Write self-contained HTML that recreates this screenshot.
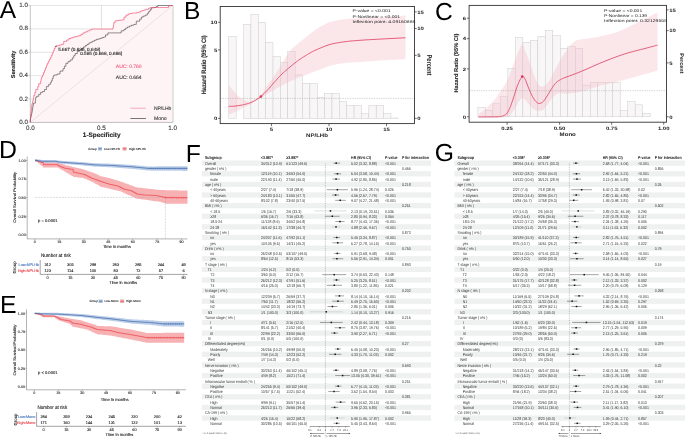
<!DOCTYPE html><html><head><meta charset="utf-8"><style>html,body{margin:0;padding:0;background:#fff;}svg{display:block;will-change:transform;}text{font-family:"Liberation Sans", sans-serif;text-rendering:geometricPrecision;}</style></head><body>
<svg width="685" height="438" viewBox="0 0 685 438">
<rect width="685" height="438" fill="#fff"/>
<line x1="30.3" y1="122.40" x2="172.6" y2="122.40" stroke="#d4d4d4" stroke-width="0.6"/>
<line x1="30.3" y1="99.02" x2="172.6" y2="99.02" stroke="#d4d4d4" stroke-width="0.6"/>
<line x1="30.3" y1="75.64" x2="172.6" y2="75.64" stroke="#d4d4d4" stroke-width="0.6"/>
<line x1="30.3" y1="52.26" x2="172.6" y2="52.26" stroke="#d4d4d4" stroke-width="0.6"/>
<line x1="30.3" y1="28.88" x2="172.6" y2="28.88" stroke="#d4d4d4" stroke-width="0.6"/>
<line x1="30.3" y1="5.50" x2="172.6" y2="5.50" stroke="#d4d4d4" stroke-width="0.6"/>
<line x1="101.45" y1="5.5" x2="101.45" y2="122.4" stroke="#cfcfcf" stroke-width="0.6"/>
<line x1="172.60" y1="5.5" x2="172.60" y2="122.4" stroke="#cfcfcf" stroke-width="0.6"/>
<polygon points="30.30,122.30 30.30,119.60 30.50,119.60 30.50,117.70 30.68,117.70 30.68,115.80 30.85,115.80 30.85,113.90 31.02,113.90 31.02,112.00 31.20,112.00 31.20,110.00 31.43,110.00 31.43,108.00 31.67,108.00 31.67,106.00 31.90,106.00 31.90,104.08 32.38,104.08 32.38,102.15 32.85,102.15 32.85,100.22 33.32,100.22 33.32,98.30 33.80,98.30 33.80,95.30 34.80,95.30 34.80,92.40 35.80,92.40 35.80,89.50 37.70,89.50 37.70,86.60 38.70,86.60 38.70,83.70 40.60,83.70 40.60,81.25 41.10,81.25 41.10,78.80 41.60,78.80 41.60,76.90 42.55,76.90 42.55,75.00 43.50,75.00 43.50,72.55 44.50,72.55 44.50,70.10 45.50,70.10 45.50,67.65 46.45,67.65 46.45,65.20 47.40,65.20 47.40,63.27 48.37,63.27 48.37,61.33 49.33,61.33 49.33,59.40 50.30,59.40 50.30,57.45 51.30,57.45 51.30,55.50 52.30,55.50 52.30,53.10 53.25,53.10 53.25,50.70 54.20,50.70 54.20,48.60 55.10,48.60 55.10,46.50 56.00,46.50 56.00,45.80 59.10,45.80 59.10,45.05 61.40,45.05 61.40,44.30 63.70,44.30 63.70,41.40 66.60,41.40 66.60,40.00 68.75,40.00 68.75,38.60 70.90,38.60 70.90,37.85 73.00,37.85 73.00,37.10 75.10,37.10 75.10,36.63 77.03,36.63 77.03,36.17 78.97,36.17 78.97,35.70 80.90,35.70 80.90,34.30 83.00,34.30 83.00,32.90 85.10,32.90 85.10,31.90 87.25,31.90 87.25,30.90 89.40,30.90 89.40,30.00 91.55,30.00 91.55,29.10 93.70,29.10 93.70,29.10 95.45,29.10 95.45,29.10 97.21,29.10 97.21,29.10 98.96,29.10 98.96,29.10 100.72,29.10 100.72,29.10 102.47,29.10 102.47,29.10 104.23,29.10 104.23,29.10 105.98,29.10 105.98,29.10 107.74,29.10 107.74,29.10 109.49,29.10 109.49,29.10 111.25,29.10 111.25,29.10 113.00,29.10 113.00,27.20 113.35,27.20 113.35,25.30 113.70,25.30 113.70,22.60 115.10,22.60 115.10,20.80 117.10,20.80 117.10,20.55 118.80,20.55 118.80,20.30 120.50,20.30 120.50,20.10 122.25,20.10 122.25,19.90 124.00,19.90 124.00,17.10 126.00,17.10 126.00,15.10 128.10,15.10 128.10,14.00 130.10,14.00 130.10,13.50 131.85,13.50 131.85,13.00 133.60,13.00 133.60,13.00 135.30,13.00 135.30,13.00 137.00,13.00 137.00,12.55 138.70,12.55 138.70,12.10 140.40,12.10 140.40,11.00 142.50,11.00 142.50,10.45 144.20,10.45 144.20,9.90 145.90,9.90 145.90,9.30 148.60,9.30 148.60,8.20 150.70,8.20 150.70,7.50 152.70,7.50 152.70,7.50 154.46,7.50 154.46,7.50 156.21,7.50 156.21,7.50 157.97,7.50 157.97,7.50 159.72,7.50 159.72,7.50 161.48,7.50 161.48,7.50 163.23,7.50 163.23,7.50 164.99,7.50 164.99,7.50 166.74,7.50 166.74,7.50 168.50,7.50 168.50,5.80 170.50,5.80 170.50,5.50 172.60,5.50 172.60,122.40 30.30,122.40" fill="#fef4f5"/>
<line x1="30.3" y1="122.4" x2="172.6" y2="5.5" stroke="#d0d0d0" stroke-width="0.5"/>
<line x1="30.3" y1="5.5" x2="30.3" y2="122.4" stroke="#aaa" stroke-width="0.7"/>
<line x1="30.3" y1="122.4" x2="173.1" y2="122.4" stroke="#aaa" stroke-width="0.7"/>
<line x1="173.1" y1="5.5" x2="173.1" y2="122.4" stroke="#c4c4c4" stroke-width="0.7"/>
<polyline points="30.30,122.30 30.30,119.60 30.50,119.60 30.50,117.67 30.97,117.67 30.97,115.73 31.43,115.73 31.43,113.80 31.90,113.80 31.90,111.87 32.23,111.87 32.23,109.93 32.57,109.93 32.57,108.00 32.90,108.00 32.90,105.55 33.35,105.55 33.35,103.10 33.80,103.10 33.80,103.10 35.40,103.10 35.40,100.70 35.60,100.70 35.60,98.30 35.80,98.30 35.80,97.30 36.70,97.30 36.70,96.30 38.70,96.30 38.70,94.40 40.60,94.40 40.60,92.40 42.60,92.40 42.60,91.50 44.50,91.50 44.50,89.50 46.40,89.50 46.40,86.60 48.40,86.60 48.40,84.70 50.30,84.70 50.30,82.75 51.30,82.75 51.30,80.80 52.30,80.80 52.30,78.35 53.25,78.35 53.25,75.90 54.20,75.90 54.20,75.00 57.10,75.00 57.10,74.00 60.00,74.00 60.00,71.10 63.00,71.10 63.00,68.65 64.45,68.65 64.45,66.20 65.90,66.20 65.90,63.30 68.00,63.30 68.00,61.65 70.15,61.65 70.15,60.00 72.30,60.00 72.30,57.85 73.70,57.85 73.70,55.70 75.10,55.70 75.10,53.55 77.25,53.55 77.25,51.40 79.40,51.40 79.40,49.97 81.30,49.97 81.30,48.53 83.20,48.53 83.20,47.10 85.10,47.10 85.10,45.70 87.03,45.70 87.03,44.30 88.97,44.30 88.97,42.90 90.90,42.90 90.90,42.02 92.68,42.02 92.68,41.15 94.45,41.15 94.45,40.27 96.22,40.27 96.22,39.40 98.00,39.40 98.00,39.00 100.00,39.00 100.00,38.33 101.83,38.33 101.83,37.67 103.67,37.67 103.67,37.00 105.50,37.00 105.50,34.95 107.90,34.95 107.90,32.90 110.30,32.90 110.30,32.90 112.12,32.90 112.12,32.90 113.93,32.90 113.93,32.90 115.75,32.90 115.75,32.90 117.57,32.90 117.57,32.90 119.38,32.90 119.38,32.90 121.20,32.90 121.20,30.80 124.00,30.80 124.00,29.45 125.70,29.45 125.70,28.10 127.40,28.10 127.40,27.05 129.45,27.05 129.45,26.00 131.50,26.00 131.50,25.20 133.90,25.20 133.90,24.40 136.30,24.40 136.30,21.20 139.70,21.20 139.70,19.15 141.45,19.15 141.45,17.10 143.20,17.10 143.20,16.10 145.25,16.10 145.25,15.10 147.30,15.10 147.30,13.35 148.65,13.35 148.65,11.60 150.00,11.60 150.00,9.75 151.35,9.75 151.35,7.90 152.70,7.90 152.70,7.70 154.45,7.70 154.45,7.50 156.20,7.50 156.20,6.50 157.90,6.50 157.90,5.50 159.60,5.50 159.60,5.50 161.46,5.50 161.46,5.50 163.31,5.50 163.31,5.50 165.17,5.50 165.17,5.50 167.03,5.50 167.03,5.50 168.89,5.50 168.89,5.50 170.74,5.50 170.74,5.50 172.60,5.50" fill="none" stroke="#333" stroke-width="0.55"/>
<polyline points="30.30,122.30 30.30,119.60 30.50,119.60 30.50,117.70 30.68,117.70 30.68,115.80 30.85,115.80 30.85,113.90 31.02,113.90 31.02,112.00 31.20,112.00 31.20,110.00 31.43,110.00 31.43,108.00 31.67,108.00 31.67,106.00 31.90,106.00 31.90,104.08 32.38,104.08 32.38,102.15 32.85,102.15 32.85,100.22 33.32,100.22 33.32,98.30 33.80,98.30 33.80,95.30 34.80,95.30 34.80,92.40 35.80,92.40 35.80,89.50 37.70,89.50 37.70,86.60 38.70,86.60 38.70,83.70 40.60,83.70 40.60,81.25 41.10,81.25 41.10,78.80 41.60,78.80 41.60,76.90 42.55,76.90 42.55,75.00 43.50,75.00 43.50,72.55 44.50,72.55 44.50,70.10 45.50,70.10 45.50,67.65 46.45,67.65 46.45,65.20 47.40,65.20 47.40,63.27 48.37,63.27 48.37,61.33 49.33,61.33 49.33,59.40 50.30,59.40 50.30,57.45 51.30,57.45 51.30,55.50 52.30,55.50 52.30,53.10 53.25,53.10 53.25,50.70 54.20,50.70 54.20,48.60 55.10,48.60 55.10,46.50 56.00,46.50 56.00,45.80 59.10,45.80 59.10,45.05 61.40,45.05 61.40,44.30 63.70,44.30 63.70,41.40 66.60,41.40 66.60,40.00 68.75,40.00 68.75,38.60 70.90,38.60 70.90,37.85 73.00,37.85 73.00,37.10 75.10,37.10 75.10,36.63 77.03,36.63 77.03,36.17 78.97,36.17 78.97,35.70 80.90,35.70 80.90,34.30 83.00,34.30 83.00,32.90 85.10,32.90 85.10,31.90 87.25,31.90 87.25,30.90 89.40,30.90 89.40,30.00 91.55,30.00 91.55,29.10 93.70,29.10 93.70,29.10 95.45,29.10 95.45,29.10 97.21,29.10 97.21,29.10 98.96,29.10 98.96,29.10 100.72,29.10 100.72,29.10 102.47,29.10 102.47,29.10 104.23,29.10 104.23,29.10 105.98,29.10 105.98,29.10 107.74,29.10 107.74,29.10 109.49,29.10 109.49,29.10 111.25,29.10 111.25,29.10 113.00,29.10 113.00,27.20 113.35,27.20 113.35,25.30 113.70,25.30 113.70,22.60 115.10,22.60 115.10,20.80 117.10,20.80 117.10,20.55 118.80,20.55 118.80,20.30 120.50,20.30 120.50,20.10 122.25,20.10 122.25,19.90 124.00,19.90 124.00,17.10 126.00,17.10 126.00,15.10 128.10,15.10 128.10,14.00 130.10,14.00 130.10,13.50 131.85,13.50 131.85,13.00 133.60,13.00 133.60,13.00 135.30,13.00 135.30,13.00 137.00,13.00 137.00,12.55 138.70,12.55 138.70,12.10 140.40,12.10 140.40,11.00 142.50,11.00 142.50,10.45 144.20,10.45 144.20,9.90 145.90,9.90 145.90,9.30 148.60,9.30 148.60,8.20 150.70,8.20 150.70,7.50 152.70,7.50 152.70,7.50 154.46,7.50 154.46,7.50 156.21,7.50 156.21,7.50 157.97,7.50 157.97,7.50 159.72,7.50 159.72,7.50 161.48,7.50 161.48,7.50 163.23,7.50 163.23,7.50 164.99,7.50 164.99,7.50 166.74,7.50 166.74,7.50 168.50,7.50 168.50,5.80 170.50,5.80 170.50,5.50 172.60,5.50" fill="none" stroke="#f2476c" stroke-width="0.62"/>
<line x1="28.3" y1="122.40" x2="30.3" y2="122.40" stroke="#aaa" stroke-width="0.5"/>
<text x="27.90" y="124.00" font-size="6.2" text-anchor="end" fill="#333" font-weight="normal" stroke="#333" stroke-width="0.1" >0.0</text>
<line x1="28.3" y1="99.02" x2="30.3" y2="99.02" stroke="#aaa" stroke-width="0.5"/>
<text x="27.90" y="100.62" font-size="6.2" text-anchor="end" fill="#333" font-weight="normal" stroke="#333" stroke-width="0.1" >0.2</text>
<line x1="28.3" y1="75.64" x2="30.3" y2="75.64" stroke="#aaa" stroke-width="0.5"/>
<text x="27.90" y="77.24" font-size="6.2" text-anchor="end" fill="#333" font-weight="normal" stroke="#333" stroke-width="0.1" >0.4</text>
<line x1="28.3" y1="52.26" x2="30.3" y2="52.26" stroke="#aaa" stroke-width="0.5"/>
<text x="27.90" y="53.86" font-size="6.2" text-anchor="end" fill="#333" font-weight="normal" stroke="#333" stroke-width="0.1" >0.6</text>
<line x1="28.3" y1="28.88" x2="30.3" y2="28.88" stroke="#aaa" stroke-width="0.5"/>
<text x="27.90" y="30.48" font-size="6.2" text-anchor="end" fill="#333" font-weight="normal" stroke="#333" stroke-width="0.1" >0.8</text>
<line x1="28.3" y1="5.50" x2="30.3" y2="5.50" stroke="#aaa" stroke-width="0.5"/>
<text x="27.90" y="7.10" font-size="6.2" text-anchor="end" fill="#333" font-weight="normal" stroke="#333" stroke-width="0.1" >1.0</text>
<text x="30.30" y="130.30" font-size="6.3" text-anchor="middle" fill="#333" font-weight="normal" stroke="#333" stroke-width="0.1" >0.0</text>
<text x="101.45" y="130.30" font-size="6.3" text-anchor="middle" fill="#333" font-weight="normal" stroke="#333" stroke-width="0.1" >0.5</text>
<text x="172.60" y="130.30" font-size="6.3" text-anchor="middle" fill="#333" font-weight="normal" stroke="#333" stroke-width="0.1" >1.0</text>
<text x="101.70" y="136.70" font-size="6.4" text-anchor="middle" fill="#1a1a1a" font-weight="bold" stroke="#1a1a1a" stroke-width="0.1" >1-Specificity</text>
<text x="0" y="0" font-size="5.5" font-weight="bold" fill="#1a1a1a" stroke="#1a1a1a" stroke-width="0.12" text-anchor="middle" transform="translate(15.4,64.4) rotate(-90)">Sensitivity</text>
<circle cx="56" cy="46.3" r="0.55" fill="#111"/>
<text x="58.20" y="50.50" font-size="4.7" text-anchor="start" fill="#222" font-weight="normal" stroke="#222" stroke-width="0.1" >5.667 (0.836, 0.649)</text>
<text x="80.20" y="55.10" font-size="4.7" text-anchor="start" fill="#222" font-weight="normal" stroke="#222" stroke-width="0.1" >0.595 (0.668, 0.686)</text>
<text x="115.80" y="67.50" font-size="5.0" text-anchor="start" fill="#f25a78" font-weight="normal" stroke="#f25a78" stroke-width="0.1" >AUC: 0.760</text>
<text x="115.80" y="79.20" font-size="5.0" text-anchor="start" fill="#333" font-weight="normal" stroke="#333" stroke-width="0.1" >AUC: 0.664</text>
<line x1="130.3" y1="108.2" x2="146" y2="108.2" stroke="#f7a0b4" stroke-width="0.9"/>
<line x1="130.3" y1="118.5" x2="146" y2="118.5" stroke="#555" stroke-width="0.8"/>
<text x="153.90" y="110.00" font-size="5.0" text-anchor="start" fill="#333" font-weight="normal" stroke="#333" stroke-width="0.1" >NP/LHb</text>
<text x="153.90" y="120.30" font-size="5.1" text-anchor="start" fill="#333" font-weight="normal" stroke="#333" stroke-width="0.1" >Mono</text>
<text x="-0.20" y="17.50" font-size="24.5" text-anchor="start" fill="#000" font-weight="normal" >A</text>
<rect x="228.80" y="36.30" width="7.37" height="82.10" fill="#f8f6f7" stroke="#cdcdcd" stroke-width="0.5"/>
<rect x="243.54" y="24.30" width="7.37" height="94.10" fill="#f8f6f7" stroke="#cdcdcd" stroke-width="0.5"/>
<rect x="250.91" y="14.30" width="7.37" height="104.10" fill="#f8f6f7" stroke="#cdcdcd" stroke-width="0.5"/>
<rect x="258.28" y="22.30" width="7.37" height="96.10" fill="#f8f6f7" stroke="#cdcdcd" stroke-width="0.5"/>
<rect x="265.65" y="42.30" width="7.37" height="76.10" fill="#f8f6f7" stroke="#cdcdcd" stroke-width="0.5"/>
<rect x="273.02" y="56.60" width="7.37" height="61.80" fill="#f8f6f7" stroke="#cdcdcd" stroke-width="0.5"/>
<rect x="280.39" y="62.30" width="7.37" height="56.10" fill="#f8f6f7" stroke="#cdcdcd" stroke-width="0.5"/>
<rect x="287.76" y="51.40" width="7.37" height="67.00" fill="#f8f6f7" stroke="#cdcdcd" stroke-width="0.5"/>
<rect x="295.13" y="74.90" width="7.37" height="43.50" fill="#f8f6f7" stroke="#cdcdcd" stroke-width="0.5"/>
<rect x="302.50" y="83.40" width="7.37" height="35.00" fill="#f8f6f7" stroke="#cdcdcd" stroke-width="0.5"/>
<rect x="309.87" y="83.40" width="7.37" height="35.00" fill="#f8f6f7" stroke="#cdcdcd" stroke-width="0.5"/>
<rect x="317.24" y="97.60" width="7.37" height="20.80" fill="#f8f6f7" stroke="#cdcdcd" stroke-width="0.5"/>
<rect x="324.61" y="93.70" width="7.37" height="24.70" fill="#f8f6f7" stroke="#cdcdcd" stroke-width="0.5"/>
<rect x="331.98" y="93.70" width="7.37" height="24.70" fill="#f8f6f7" stroke="#cdcdcd" stroke-width="0.5"/>
<rect x="339.35" y="101.40" width="7.37" height="17.00" fill="#f8f6f7" stroke="#cdcdcd" stroke-width="0.5"/>
<rect x="346.72" y="105.50" width="7.37" height="12.90" fill="#f8f6f7" stroke="#cdcdcd" stroke-width="0.5"/>
<rect x="354.09" y="105.50" width="7.37" height="12.90" fill="#f8f6f7" stroke="#cdcdcd" stroke-width="0.5"/>
<rect x="361.46" y="113.70" width="7.37" height="4.70" fill="#f8f6f7" stroke="#cdcdcd" stroke-width="0.5"/>
<rect x="368.83" y="105.50" width="7.37" height="12.90" fill="#f8f6f7" stroke="#cdcdcd" stroke-width="0.5"/>
<rect x="376.20" y="105.50" width="7.37" height="12.90" fill="#f8f6f7" stroke="#cdcdcd" stroke-width="0.5"/>
<rect x="383.57" y="113.70" width="7.37" height="4.70" fill="#f8f6f7" stroke="#cdcdcd" stroke-width="0.5"/>
<rect x="390.94" y="118.00" width="7.37" height="0.40" fill="#f8f6f7" stroke="#cdcdcd" stroke-width="0.5"/>
<polygon points="228.60,84.70 229.41,85.73 230.53,87.19 231.86,88.89 233.29,90.68 234.70,92.37 236.00,93.80 237.19,94.98 238.36,96.07 239.53,97.06 240.68,97.96 241.84,98.77 243.00,99.50 244.18,100.17 245.37,100.79 246.56,101.32 247.74,101.72 248.89,101.96 250.00,102.00 251.07,101.77 252.11,101.30 253.13,100.67 254.12,99.95 255.08,99.23 256.00,98.60 256.85,98.12 257.63,97.74 258.38,97.36 259.14,96.87 259.97,96.19 260.90,95.20 261.96,93.83 263.11,92.15 264.32,90.26 265.56,88.29 266.80,86.33 268.00,84.50 269.17,82.80 270.34,81.15 271.51,79.52 272.67,77.88 273.83,76.22 275.00,74.50 276.16,72.74 277.30,70.96 278.44,69.16 279.59,67.31 280.78,65.43 282.00,63.50 283.28,61.44 284.61,59.24 285.97,57.00 287.33,54.81 288.68,52.78 290.00,51.00 291.28,49.50 292.54,48.22 293.78,47.09 295.02,46.06 296.26,45.05 297.50,44.00 298.75,42.94 300.00,41.93 301.25,40.94 302.50,39.96 303.75,38.99 305.00,38.00 306.25,36.99 307.50,35.96 308.75,34.94 310.00,33.93 311.25,32.94 312.50,32.00 313.71,31.11 314.87,30.27 316.03,29.45 317.24,28.64 318.55,27.83 320.00,27.00 321.60,26.11 323.30,25.19 325.09,24.25 326.98,23.35 328.95,22.52 331.00,21.80 333.15,21.20 335.41,20.68 337.75,20.23 340.15,19.84 342.57,19.50 345.00,19.20 347.38,18.95 349.74,18.78 352.12,18.66 354.59,18.55 357.20,18.44 360.00,18.30 362.98,18.14 366.09,17.97 369.34,17.80 372.74,17.62 376.29,17.42 380.00,17.20 384.23,16.93 389.04,16.61 394.00,16.28 398.69,15.96 402.66,15.69 405.50,15.50 405.50,59.20 402.66,59.35 398.69,59.56 394.00,59.81 389.04,60.08 384.23,60.35 380.00,60.60 376.29,60.84 372.74,61.08 369.34,61.32 366.09,61.56 362.98,61.79 360.00,62.00 357.20,62.17 354.59,62.31 352.12,62.43 349.74,62.57 347.38,62.75 345.00,63.00 342.57,63.31 340.15,63.67 337.75,64.06 335.41,64.50 333.15,64.98 331.00,65.50 328.95,66.09 326.98,66.77 325.09,67.48 323.30,68.20 321.60,68.89 320.00,69.50 318.55,70.03 317.24,70.52 316.03,70.97 314.87,71.40 313.71,71.84 312.50,72.30 311.25,72.78 310.00,73.26 308.75,73.75 307.50,74.24 306.25,74.72 305.00,75.20 303.75,75.66 302.50,76.11 301.25,76.56 300.00,77.02 298.75,77.49 297.50,78.00 296.26,78.54 295.02,79.10 293.78,79.67 292.54,80.27 291.28,80.88 290.00,81.50 288.68,82.14 287.33,82.80 285.97,83.47 284.61,84.16 283.28,84.83 282.00,85.50 280.78,86.15 279.59,86.80 278.44,87.44 277.30,88.09 276.16,88.74 275.00,89.40 273.83,90.07 272.67,90.74 271.51,91.41 270.34,92.10 269.17,92.79 268.00,93.50 266.80,94.25 265.56,95.04 264.32,95.84 263.11,96.63 261.96,97.36 260.90,98.00 259.97,98.53 259.14,98.96 258.38,99.34 257.63,99.71 256.85,100.12 256.00,100.60 255.08,101.17 254.12,101.80 253.13,102.46 252.11,103.13 251.07,103.78 250.00,104.40 248.89,104.97 247.74,105.52 246.56,106.05 245.37,106.58 244.18,107.13 243.00,107.70 241.84,108.31 240.68,108.95 239.53,109.61 238.36,110.26 237.19,110.90 236.00,111.50 234.70,112.11 233.29,112.73 231.86,113.34 230.53,113.89 229.41,114.36 228.60,114.70" fill="#f3b9c6" fill-opacity="0.36"/>
<line x1="220.2" y1="98.4" x2="414.5" y2="98.4" stroke="#999" stroke-width="0.45" stroke-dasharray="1.3,1.1"/>
<polyline points="228.60,106.40 229.30,106.37 230.27,106.34 231.42,106.31 232.66,106.26 233.88,106.19 235.00,106.10 236.03,105.99 237.07,105.85 238.09,105.70 239.09,105.54 240.06,105.37 241.00,105.20 241.89,105.03 242.74,104.87 243.56,104.69 244.37,104.51 245.18,104.31 246.00,104.10 246.83,103.87 247.67,103.64 248.50,103.39 249.33,103.13 250.17,102.83 251.00,102.50 251.83,102.13 252.67,101.74 253.51,101.31 254.34,100.86 255.17,100.39 256.00,99.90 256.80,99.42 257.56,98.96 258.32,98.48 259.11,97.93 259.96,97.28 260.90,96.50 261.96,95.55 263.11,94.47 264.32,93.29 265.56,92.04 266.80,90.77 268.00,89.50 269.17,88.22 270.34,86.89 271.51,85.53 272.67,84.17 273.83,82.82 275.00,81.50 276.16,80.22 277.30,78.94 278.44,77.69 279.59,76.44 280.78,75.22 282.00,74.00 283.28,72.79 284.61,71.59 285.97,70.41 287.33,69.24 288.68,68.10 290.00,67.00 291.28,65.93 292.54,64.89 293.78,63.88 295.02,62.89 296.26,61.93 297.50,61.00 298.75,60.10 300.00,59.24 301.25,58.40 302.50,57.59 303.75,56.79 305.00,56.00 306.25,55.22 307.50,54.45 308.75,53.70 310.00,52.97 311.25,52.27 312.50,51.60 313.71,50.98 314.87,50.41 316.03,49.88 317.24,49.34 318.55,48.79 320.00,48.20 321.60,47.55 323.30,46.86 325.09,46.14 326.98,45.44 328.95,44.79 331.00,44.20 333.15,43.68 335.41,43.21 337.75,42.79 340.15,42.40 342.57,42.04 345.00,41.70 347.38,41.40 349.74,41.14 352.12,40.92 354.59,40.71 357.20,40.51 360.00,40.30 362.98,40.09 366.09,39.89 369.34,39.69 372.74,39.50 376.29,39.30 380.00,39.10 384.23,38.87 389.04,38.63 394.00,38.38 398.69,38.14 402.66,37.94 405.50,37.80" fill="none" stroke="#dc3053" stroke-width="0.75"/>
<circle cx="260.9" cy="96.5" r="1.25" fill="#dc3053"/>
<rect x="220.2" y="6.5" width="194.3" height="117.1" fill="none" stroke="#333" stroke-width="0.9"/>
<line x1="218.0" y1="118.4" x2="220.2" y2="118.4" stroke="#333" stroke-width="0.7"/>
<text transform="translate(217.20,120.10) scale(1.25,1)" font-size="4.75" text-anchor="end" fill="#1a1a1a" font-weight="bold">0</text>
<line x1="218.0" y1="49.9" x2="220.2" y2="49.9" stroke="#333" stroke-width="0.7"/>
<text transform="translate(217.20,51.60) scale(1.25,1)" font-size="4.75" text-anchor="end" fill="#1a1a1a" font-weight="bold">5</text>
<line x1="218.0" y1="22.3" x2="220.2" y2="22.3" stroke="#333" stroke-width="0.7"/>
<text transform="translate(217.20,24.00) scale(1.25,1)" font-size="4.75" text-anchor="end" fill="#1a1a1a" font-weight="bold">10</text>
<line x1="414.5" y1="118.4" x2="416.7" y2="118.4" stroke="#333" stroke-width="0.7"/>
<text transform="translate(417.30,120.10) scale(1.25,1)" font-size="4.75" text-anchor="start" fill="#1a1a1a" font-weight="bold">0</text>
<line x1="414.5" y1="55.4" x2="416.7" y2="55.4" stroke="#333" stroke-width="0.7"/>
<text transform="translate(417.30,57.10) scale(1.25,1)" font-size="4.75" text-anchor="start" fill="#1a1a1a" font-weight="bold">5</text>
<line x1="414.5" y1="28.5" x2="416.7" y2="28.5" stroke="#333" stroke-width="0.7"/>
<text transform="translate(417.30,30.20) scale(1.25,1)" font-size="4.75" text-anchor="start" fill="#1a1a1a" font-weight="bold">10</text>
<line x1="414.5" y1="11.9" x2="416.7" y2="11.9" stroke="#333" stroke-width="0.7"/>
<text transform="translate(417.30,13.60) scale(1.25,1)" font-size="4.75" text-anchor="start" fill="#1a1a1a" font-weight="bold">15</text>
<line x1="271.4" y1="123.6" x2="271.4" y2="126.19999999999999" stroke="#333" stroke-width="0.7"/>
<text transform="translate(271.40,131.10) scale(1.25,1)" font-size="4.75" text-anchor="middle" fill="#1a1a1a" font-weight="bold">5</text>
<line x1="329.0" y1="123.6" x2="329.0" y2="126.19999999999999" stroke="#333" stroke-width="0.7"/>
<text transform="translate(329.00,131.10) scale(1.25,1)" font-size="4.75" text-anchor="middle" fill="#1a1a1a" font-weight="bold">10</text>
<line x1="386.5" y1="123.6" x2="386.5" y2="126.19999999999999" stroke="#333" stroke-width="0.7"/>
<text transform="translate(386.50,131.10) scale(1.25,1)" font-size="4.75" text-anchor="middle" fill="#1a1a1a" font-weight="bold">15</text>
<text transform="translate(317.00,137.00) scale(1.17,1)" font-size="5.2" text-anchor="middle" fill="#1a1a1a" font-weight="bold">NP/LHb</text>
<text x="0" y="0" font-size="6.4" font-weight="bold" fill="#222" stroke="#222" stroke-width="0.1" text-anchor="middle" textLength="59" lengthAdjust="spacingAndGlyphs" transform="translate(206.2,64.8) rotate(-90)">Hazard Ratio (95% CI)</text>
<text x="0" y="0" font-size="7.0" font-weight="bold" fill="#222" text-anchor="middle" textLength="21" lengthAdjust="spacingAndGlyphs" transform="translate(427.2,64.9) rotate(90)">Percent</text>
<text x="352.4" y="12.0" font-size="4.0" fill="#222" textLength="38.2" lengthAdjust="spacingAndGlyphs">P-value = &lt;0.001</text>
<text x="352.4" y="17.5" font-size="4.0" fill="#222" textLength="47.7" lengthAdjust="spacingAndGlyphs">P-Nonlinear = &lt;0.001</text>
<text x="352.4" y="22.9" font-size="4.0" fill="#222" textLength="63" lengthAdjust="spacingAndGlyphs">Inflection point: 4.09160888</text>
<text x="183.90" y="19.40" font-size="24.6" text-anchor="start" fill="#000" font-weight="normal" >B</text>
<rect x="477.90" y="107.40" width="7.49" height="9.40" fill="#f8f6f7" stroke="#cdcdcd" stroke-width="0.5"/>
<rect x="485.39" y="110.50" width="7.49" height="6.30" fill="#f8f6f7" stroke="#cdcdcd" stroke-width="0.5"/>
<rect x="492.88" y="103.80" width="7.49" height="13.00" fill="#f8f6f7" stroke="#cdcdcd" stroke-width="0.5"/>
<rect x="500.37" y="96.20" width="7.49" height="20.60" fill="#f8f6f7" stroke="#cdcdcd" stroke-width="0.5"/>
<rect x="507.86" y="68.40" width="7.49" height="48.40" fill="#f8f6f7" stroke="#cdcdcd" stroke-width="0.5"/>
<rect x="515.35" y="37.50" width="7.49" height="79.30" fill="#f8f6f7" stroke="#cdcdcd" stroke-width="0.5"/>
<rect x="522.84" y="42.30" width="7.49" height="74.50" fill="#f8f6f7" stroke="#cdcdcd" stroke-width="0.5"/>
<rect x="530.33" y="40.40" width="7.49" height="76.40" fill="#f8f6f7" stroke="#cdcdcd" stroke-width="0.5"/>
<rect x="537.82" y="36.30" width="7.49" height="80.50" fill="#f8f6f7" stroke="#cdcdcd" stroke-width="0.5"/>
<rect x="545.31" y="30.30" width="7.49" height="86.50" fill="#f8f6f7" stroke="#cdcdcd" stroke-width="0.5"/>
<rect x="552.80" y="35.60" width="7.49" height="81.20" fill="#f8f6f7" stroke="#cdcdcd" stroke-width="0.5"/>
<rect x="560.29" y="48.30" width="7.49" height="68.50" fill="#f8f6f7" stroke="#cdcdcd" stroke-width="0.5"/>
<rect x="567.78" y="46.30" width="7.49" height="70.50" fill="#f8f6f7" stroke="#cdcdcd" stroke-width="0.5"/>
<rect x="575.27" y="48.30" width="7.49" height="68.50" fill="#f8f6f7" stroke="#cdcdcd" stroke-width="0.5"/>
<rect x="582.76" y="85.10" width="7.49" height="31.70" fill="#f8f6f7" stroke="#cdcdcd" stroke-width="0.5"/>
<rect x="590.25" y="82.60" width="7.49" height="34.20" fill="#f8f6f7" stroke="#cdcdcd" stroke-width="0.5"/>
<rect x="597.74" y="82.60" width="7.49" height="34.20" fill="#f8f6f7" stroke="#cdcdcd" stroke-width="0.5"/>
<rect x="605.23" y="82.60" width="7.49" height="34.20" fill="#f8f6f7" stroke="#cdcdcd" stroke-width="0.5"/>
<rect x="612.72" y="82.60" width="7.49" height="34.20" fill="#f8f6f7" stroke="#cdcdcd" stroke-width="0.5"/>
<rect x="620.21" y="110.40" width="7.49" height="6.40" fill="#f8f6f7" stroke="#cdcdcd" stroke-width="0.5"/>
<rect x="627.70" y="101.70" width="7.49" height="15.10" fill="#f8f6f7" stroke="#cdcdcd" stroke-width="0.5"/>
<rect x="635.19" y="104.80" width="7.49" height="12.00" fill="#f8f6f7" stroke="#cdcdcd" stroke-width="0.5"/>
<rect x="642.68" y="113.40" width="7.49" height="3.40" fill="#f8f6f7" stroke="#cdcdcd" stroke-width="0.5"/>
<polygon points="478.40,114.60 479.01,114.13 479.82,113.53 480.80,112.80 481.91,111.93 483.12,110.93 484.40,109.80 485.79,108.52 487.34,107.09 488.98,105.52 490.67,103.84 492.36,102.06 494.00,100.20 495.64,98.17 497.34,95.94 499.04,93.62 500.68,91.30 502.18,89.09 503.50,87.10 504.60,85.35 505.53,83.77 506.33,82.29 507.05,80.88 507.72,79.46 508.40,78.00 509.04,76.53 509.60,75.12 510.12,73.71 510.63,72.26 511.18,70.70 511.80,69.00 512.48,67.11 513.20,65.07 513.96,62.93 514.74,60.75 515.56,58.59 516.40,56.50 517.32,54.28 518.32,51.83 519.36,49.40 520.37,47.23 521.30,45.55 522.10,44.60 522.74,44.53 523.27,45.19 523.72,46.34 524.13,47.76 524.54,49.22 525.00,50.50 525.49,51.65 525.99,52.86 526.49,54.12 527.00,55.40 527.50,56.70 528.00,58.00 528.50,59.29 529.00,60.59 529.50,61.91 530.00,63.24 530.50,64.60 531.00,66.00 531.48,67.44 531.95,68.91 532.42,70.41 532.90,71.93 533.42,73.46 534.00,75.00 534.64,76.64 535.33,78.41 536.06,80.19 536.80,81.87 537.56,83.34 538.30,84.50 539.04,85.33 539.79,85.91 540.54,86.28 541.30,86.48 542.05,86.54 542.80,86.50 543.54,86.33 544.27,86.01 545.00,85.55 545.73,84.97 546.46,84.28 547.20,83.50 547.95,82.61 548.70,81.59 549.45,80.47 550.20,79.26 550.95,78.00 551.70,76.70 552.44,75.33 553.17,73.87 553.90,72.34 554.63,70.80 555.36,69.27 556.10,67.80 556.85,66.36 557.60,64.92 558.35,63.50 559.10,62.11 559.85,60.77 560.60,59.50 561.33,58.32 562.05,57.22 562.77,56.17 563.49,55.14 564.23,54.09 565.00,53.00 565.80,51.84 566.62,50.62 567.46,49.39 568.31,48.19 569.16,47.05 570.00,46.00 570.83,45.04 571.67,44.12 572.50,43.27 573.33,42.49 574.17,41.80 575.00,41.20 575.71,40.74 576.26,40.42 576.81,40.19 577.52,39.99 578.53,39.78 580.00,39.50 582.00,39.19 584.44,38.88 587.18,38.56 590.10,38.21 593.08,37.79 596.00,37.30 598.97,36.72 602.10,36.06 605.30,35.34 608.45,34.59 611.45,33.80 614.20,33.00 616.62,32.20 618.77,31.40 620.78,30.56 622.74,29.68 624.78,28.73 627.00,27.70 629.42,26.55 631.95,25.31 634.55,23.99 637.19,22.65 639.81,21.31 642.40,20.00 645.12,18.64 648.04,17.18 650.96,15.72 653.67,14.37 655.95,13.23 657.60,12.40 657.60,70.50 656.09,70.93 654.05,71.50 651.61,72.18 648.88,72.95 645.97,73.77 643.00,74.60 639.86,75.49 636.44,76.47 632.84,77.51 629.16,78.55 625.52,79.56 622.00,80.50 618.62,81.35 615.30,82.13 612.00,82.88 608.70,83.64 605.38,84.43 602.00,85.30 598.48,86.30 594.83,87.41 591.16,88.56 587.56,89.68 584.14,90.68 581.00,91.50 578.11,92.13 575.37,92.63 572.81,93.01 570.46,93.31 568.34,93.53 566.50,93.70 565.00,93.77 563.84,93.70 562.93,93.57 562.14,93.42 561.40,93.31 560.60,93.30 559.77,93.36 558.99,93.43 558.26,93.54 557.54,93.73 556.83,94.00 556.10,94.40 555.36,94.94 554.63,95.60 553.90,96.35 553.17,97.17 552.44,98.03 551.70,98.90 550.95,99.81 550.20,100.79 549.45,101.81 548.70,102.83 547.95,103.84 547.20,104.80 546.46,105.76 545.73,106.75 545.00,107.72 544.27,108.63 543.54,109.40 542.80,110.00 542.05,110.40 541.30,110.64 540.55,110.76 539.80,110.79 539.05,110.76 538.30,110.70 537.56,110.62 536.83,110.50 536.10,110.33 535.37,110.07 534.64,109.74 533.90,109.30 533.15,108.74 532.40,108.06 531.65,107.29 530.90,106.47 530.15,105.63 529.40,104.80 528.65,103.91 527.89,102.93 527.14,101.93 526.40,100.98 525.68,100.14 525.00,99.50 524.36,99.02 523.77,98.64 523.19,98.39 522.63,98.27 522.07,98.30 521.50,98.50 520.93,98.89 520.39,99.46 519.84,100.19 519.27,101.04 518.66,101.98 518.00,103.00 517.29,104.15 516.56,105.48 515.78,106.91 514.96,108.35 514.07,109.74 513.10,111.00 512.27,112.19 511.62,113.37 510.91,114.50 509.89,115.52 508.30,116.37 505.90,117.00 502.17,117.35 497.22,117.44 491.70,117.38 486.28,117.22 481.63,117.07 478.40,117.00" fill="#f3b9c6" fill-opacity="0.36"/>
<line x1="469.1" y1="90.7" x2="666.5" y2="90.7" stroke="#999" stroke-width="0.45" stroke-dasharray="1.3,1.1"/>
<polyline points="478.40,117.00 480.59,116.98 483.76,116.96 487.44,116.92 491.19,116.89 494.52,116.85 497.00,116.80 498.54,116.75 499.49,116.70 500.03,116.64 500.36,116.58 500.65,116.50 501.10,116.40 501.65,116.30 502.15,116.19 502.61,116.07 503.06,115.92 503.52,115.74 504.00,115.50 504.51,115.24 505.03,114.96 505.55,114.65 506.07,114.27 506.59,113.80 507.10,113.20 507.59,112.48 508.07,111.66 508.55,110.74 509.03,109.73 509.51,108.65 510.00,107.50 510.49,106.31 510.96,105.10 511.43,103.80 511.93,102.38 512.48,100.80 513.10,99.00 513.81,96.85 514.59,94.36 515.43,91.70 516.27,89.05 517.11,86.59 517.90,84.50 518.66,82.71 519.43,81.06 520.17,79.61 520.90,78.38 521.58,77.43 522.20,76.80 522.73,76.49 523.19,76.47 523.59,76.73 524.00,77.25 524.46,78.01 525.00,79.00 525.64,80.35 526.34,82.09 527.09,84.08 527.87,86.16 528.64,88.19 529.40,90.00 530.15,91.66 530.90,93.29 531.65,94.86 532.40,96.34 533.15,97.70 533.90,98.90 534.64,99.96 535.37,100.91 536.10,101.74 536.83,102.43 537.56,102.95 538.30,103.30 539.05,103.46 539.80,103.43 540.55,103.25 541.30,102.92 542.05,102.47 542.80,101.90 543.54,101.18 544.27,100.29 545.00,99.28 545.73,98.17 546.46,97.03 547.20,95.90 547.95,94.73 548.70,93.48 549.45,92.19 550.20,90.91 550.95,89.66 551.70,88.50 552.44,87.40 553.17,86.31 553.90,85.28 554.63,84.30 555.36,83.40 556.10,82.60 556.85,81.92 557.60,81.35 558.35,80.86 559.10,80.42 559.85,80.01 560.60,79.60 561.20,79.26 561.62,79.02 562.04,78.81 562.63,78.56 563.56,78.18 565.00,77.60 567.01,76.82 569.47,75.90 572.27,74.86 575.31,73.72 578.48,72.49 581.70,71.20 585.03,69.79 588.56,68.24 592.24,66.60 595.98,64.94 599.73,63.32 603.40,61.80 607.02,60.36 610.63,58.95 614.25,57.57 617.87,56.25 621.48,54.99 625.10,53.80 628.84,52.67 632.74,51.60 636.63,50.58 640.37,49.64 643.81,48.77 646.80,48.00 649.36,47.32 651.61,46.71 653.56,46.19 655.20,45.74 656.55,45.38 657.60,45.10" fill="none" stroke="#dc3053" stroke-width="0.75"/>
<circle cx="522.2" cy="76.6" r="1.25" fill="#dc3053"/>
<rect x="469.1" y="5.4" width="197.39999999999998" height="116.8" fill="none" stroke="#333" stroke-width="0.9"/>
<line x1="466.90000000000003" y1="116.8" x2="469.1" y2="116.8" stroke="#333" stroke-width="0.7"/>
<text transform="translate(466.10,118.50) scale(1.25,1)" font-size="4.75" text-anchor="end" fill="#1a1a1a" font-weight="bold">0</text>
<line x1="466.90000000000003" y1="68.9" x2="469.1" y2="68.9" stroke="#333" stroke-width="0.7"/>
<text transform="translate(466.10,70.60) scale(1.25,1)" font-size="4.75" text-anchor="end" fill="#1a1a1a" font-weight="bold">2</text>
<line x1="466.90000000000003" y1="38.6" x2="469.1" y2="38.6" stroke="#333" stroke-width="0.7"/>
<text transform="translate(466.10,40.30) scale(1.25,1)" font-size="4.75" text-anchor="end" fill="#1a1a1a" font-weight="bold">4</text>
<line x1="466.90000000000003" y1="18.2" x2="469.1" y2="18.2" stroke="#333" stroke-width="0.7"/>
<text transform="translate(466.10,19.90) scale(1.25,1)" font-size="4.75" text-anchor="end" fill="#1a1a1a" font-weight="bold">6</text>
<line x1="666.5" y1="116.8" x2="668.7" y2="116.8" stroke="#333" stroke-width="0.7"/>
<text transform="translate(669.30,118.50) scale(1.25,1)" font-size="4.75" text-anchor="start" fill="#1a1a1a" font-weight="bold">0</text>
<line x1="666.5" y1="62.9" x2="668.7" y2="62.9" stroke="#333" stroke-width="0.7"/>
<text transform="translate(669.30,64.60) scale(1.25,1)" font-size="4.75" text-anchor="start" fill="#1a1a1a" font-weight="bold">5</text>
<line x1="666.5" y1="30.6" x2="668.7" y2="30.6" stroke="#333" stroke-width="0.7"/>
<text transform="translate(669.30,32.30) scale(1.25,1)" font-size="4.75" text-anchor="start" fill="#1a1a1a" font-weight="bold">10</text>
<line x1="666.5" y1="9.9" x2="668.7" y2="9.9" stroke="#333" stroke-width="0.7"/>
<text transform="translate(669.30,11.60) scale(1.25,1)" font-size="4.75" text-anchor="start" fill="#1a1a1a" font-weight="bold">15</text>
<line x1="507.1" y1="122.2" x2="507.1" y2="124.8" stroke="#333" stroke-width="0.7"/>
<text transform="translate(507.10,129.70) scale(1.25,1)" font-size="4.75" text-anchor="middle" fill="#1a1a1a" font-weight="bold">0.25</text>
<line x1="559.6" y1="122.2" x2="559.6" y2="124.8" stroke="#333" stroke-width="0.7"/>
<text transform="translate(559.60,129.70) scale(1.25,1)" font-size="4.75" text-anchor="middle" fill="#1a1a1a" font-weight="bold">0.50</text>
<line x1="611.7" y1="122.2" x2="611.7" y2="124.8" stroke="#333" stroke-width="0.7"/>
<text transform="translate(611.70,129.70) scale(1.25,1)" font-size="4.75" text-anchor="middle" fill="#1a1a1a" font-weight="bold">0.75</text>
<line x1="663.7" y1="122.2" x2="663.7" y2="124.8" stroke="#333" stroke-width="0.7"/>
<text transform="translate(663.70,129.70) scale(1.25,1)" font-size="4.75" text-anchor="middle" fill="#1a1a1a" font-weight="bold">1.00</text>
<text transform="translate(567.70,135.80) scale(1.17,1)" font-size="5.2" text-anchor="middle" fill="#1a1a1a" font-weight="bold">Mono</text>
<text x="0" y="0" font-size="5.6" font-weight="bold" fill="#222" stroke="#222" stroke-width="0.1" text-anchor="middle" textLength="59" lengthAdjust="spacingAndGlyphs" transform="translate(457.6,63.1) rotate(-90)">Hazard Ratio (95% CI)</text>
<text x="0" y="0" font-size="5.4" font-weight="bold" fill="#222" text-anchor="middle" textLength="20.2" lengthAdjust="spacingAndGlyphs" transform="translate(680.2,63.4) rotate(90)">Percent</text>
<text x="604.0" y="11.6" font-size="4.0" fill="#222" textLength="38.2" lengthAdjust="spacingAndGlyphs">P-value = &lt;0.001</text>
<text x="604.0" y="16.9" font-size="4.0" fill="#222" textLength="43" lengthAdjust="spacingAndGlyphs">P-Nonlinear = 0.139</text>
<text x="604.0" y="22.3" font-size="4.0" fill="#222" textLength="63" lengthAdjust="spacingAndGlyphs">Inflection point: 0.32129555</text>
<text x="435.00" y="19.60" font-size="24.6" text-anchor="start" fill="#000" font-weight="normal" >C</text>
<line x1="27.2" y1="156.5" x2="27.2" y2="238.9" stroke="#555" stroke-width="0.45"/>
<line x1="27.2" y1="238.9" x2="187.5" y2="238.9" stroke="#555" stroke-width="0.45"/>
<line x1="26.0" y1="160.50" x2="27.2" y2="160.50" stroke="#555" stroke-width="0.4"/>
<text x="25.70" y="161.80" font-size="3.7" text-anchor="end" fill="#222" font-weight="normal" stroke="#222" stroke-width="0.09" >1.00</text>
<line x1="26.0" y1="179.10" x2="27.2" y2="179.10" stroke="#555" stroke-width="0.4"/>
<text x="25.70" y="180.40" font-size="3.7" text-anchor="end" fill="#222" font-weight="normal" stroke="#222" stroke-width="0.09" >0.75</text>
<line x1="26.0" y1="197.70" x2="27.2" y2="197.70" stroke="#555" stroke-width="0.4"/>
<text x="25.70" y="199.00" font-size="3.7" text-anchor="end" fill="#222" font-weight="normal" stroke="#222" stroke-width="0.09" >0.50</text>
<line x1="26.0" y1="216.30" x2="27.2" y2="216.30" stroke="#555" stroke-width="0.4"/>
<text x="25.70" y="217.60" font-size="3.7" text-anchor="end" fill="#222" font-weight="normal" stroke="#222" stroke-width="0.09" >0.25</text>
<line x1="26.0" y1="234.90" x2="27.2" y2="234.90" stroke="#555" stroke-width="0.4"/>
<text x="25.70" y="236.20" font-size="3.7" text-anchor="end" fill="#222" font-weight="normal" stroke="#222" stroke-width="0.09" >0.00</text>
<line x1="34.90" y1="238.9" x2="34.90" y2="240.1" stroke="#555" stroke-width="0.4"/>
<text x="34.90" y="243.40" font-size="3.7" text-anchor="middle" fill="#222" font-weight="normal" stroke="#222" stroke-width="0.09" >0</text>
<line x1="59.35" y1="238.9" x2="59.35" y2="240.1" stroke="#555" stroke-width="0.4"/>
<text x="59.35" y="243.40" font-size="3.7" text-anchor="middle" fill="#222" font-weight="normal" stroke="#222" stroke-width="0.09" >15</text>
<line x1="83.80" y1="238.9" x2="83.80" y2="240.1" stroke="#555" stroke-width="0.4"/>
<text x="83.80" y="243.40" font-size="3.7" text-anchor="middle" fill="#222" font-weight="normal" stroke="#222" stroke-width="0.09" >30</text>
<line x1="108.25" y1="238.9" x2="108.25" y2="240.1" stroke="#555" stroke-width="0.4"/>
<text x="108.25" y="243.40" font-size="3.7" text-anchor="middle" fill="#222" font-weight="normal" stroke="#222" stroke-width="0.09" >45</text>
<line x1="132.70" y1="238.9" x2="132.70" y2="240.1" stroke="#555" stroke-width="0.4"/>
<text x="132.70" y="243.40" font-size="3.7" text-anchor="middle" fill="#222" font-weight="normal" stroke="#222" stroke-width="0.09" >60</text>
<line x1="157.15" y1="238.9" x2="157.15" y2="240.1" stroke="#555" stroke-width="0.4"/>
<text x="157.15" y="243.40" font-size="3.7" text-anchor="middle" fill="#222" font-weight="normal" stroke="#222" stroke-width="0.09" >75</text>
<line x1="181.60" y1="238.9" x2="181.60" y2="240.1" stroke="#555" stroke-width="0.4"/>
<text x="181.60" y="243.40" font-size="3.7" text-anchor="middle" fill="#222" font-weight="normal" stroke="#222" stroke-width="0.09" >90</text>
<text x="116.85" y="247.90" font-size="4.1" text-anchor="middle" fill="#111" font-weight="normal" stroke="#111" stroke-width="0.09" >Time in months</text>
<text x="0" y="0" font-size="3.9" fill="#222" stroke="#222" stroke-width="0.09" text-anchor="middle" textLength="51" lengthAdjust="spacingAndGlyphs" transform="translate(16.2,197.3) rotate(-90)">Overall Survival Probability</text>
<polygon points="35.00,160.40 36.50,160.40 36.50,160.62 38.00,160.62 38.00,160.83 39.50,160.83 39.50,161.05 41.00,161.05 41.00,161.27 42.50,161.27 42.50,161.48 44.00,161.48 44.00,161.70 45.61,161.70 45.61,161.77 47.23,161.77 47.23,161.85 48.84,161.85 48.84,161.93 50.45,161.93 50.45,162.00 52.06,162.00 52.06,162.07 53.67,162.07 53.67,162.15 55.29,162.15 55.29,162.23 56.90,162.23 56.90,162.30 58.52,162.30 58.52,162.88 60.14,162.88 60.14,163.46 61.76,163.46 61.76,164.04 63.38,164.04 63.38,164.62 65.00,164.62 65.00,165.20 66.75,165.20 66.75,165.62 68.50,165.62 68.50,166.05 70.25,166.05 70.25,166.47 72.00,166.47 72.00,166.90 73.51,166.90 73.51,167.24 75.03,167.24 75.03,167.59 76.54,167.59 76.54,167.93 78.06,167.93 78.06,168.27 79.57,168.27 79.57,168.61 81.09,168.61 81.09,168.96 82.60,168.96 82.60,169.30 84.26,169.30 84.26,169.89 85.91,169.89 85.91,170.47 87.57,170.47 87.57,171.06 89.23,171.06 89.23,171.64 90.89,171.64 90.89,172.23 92.54,172.23 92.54,172.81 94.20,172.81 94.20,173.40 95.65,173.40 95.65,174.10 97.10,174.10 97.10,174.80 98.55,174.80 98.55,175.50 100.00,175.50 100.00,176.20 101.67,176.20 101.67,176.58 103.33,176.58 103.33,176.97 105.00,176.97 105.00,177.35 106.67,177.35 106.67,177.73 108.33,177.73 108.33,178.12 110.00,178.12 110.00,178.50 111.62,178.50 111.62,178.98 113.23,178.98 113.23,179.47 114.85,179.47 114.85,179.95 116.47,179.95 116.47,180.43 118.08,180.43 118.08,180.92 119.70,180.92 119.70,181.40 121.28,181.40 121.28,181.99 122.86,181.99 122.86,182.58 124.44,182.58 124.44,183.17 126.02,183.17 126.02,183.76 127.60,183.76 127.60,184.35 129.18,184.35 129.18,184.94 130.76,184.94 130.76,185.53 132.34,185.53 132.34,186.12 133.92,186.12 133.92,186.71 135.50,186.71 135.50,187.30 137.07,187.30 137.07,187.48 138.65,187.48 138.65,187.66 140.22,187.66 140.22,187.84 141.79,187.84 141.79,188.02 143.37,188.02 143.37,188.20 144.94,188.20 144.94,188.38 146.51,188.38 146.51,188.56 148.09,188.56 148.09,188.74 149.66,188.74 149.66,188.92 151.23,188.92 151.23,189.10 152.81,189.10 152.81,189.28 154.38,189.28 154.38,189.46 155.95,189.46 155.95,189.64 157.53,189.64 157.53,189.82 159.10,189.82 159.10,190.00 160.68,190.00 160.68,190.03 162.26,190.03 162.26,190.07 163.83,190.07 163.83,190.10 165.41,190.10 165.41,190.13 166.99,190.13 166.99,190.17 168.57,190.17 168.57,190.20 170.14,190.20 170.14,190.23 171.72,190.23 171.72,190.27 173.30,190.27 173.30,190.30 174.88,190.30 174.88,190.33 176.46,190.33 176.46,190.37 178.03,190.37 178.03,190.40 179.61,190.40 179.61,190.43 181.19,190.43 181.19,190.47 182.77,190.47 182.77,190.50 184.34,190.50 184.34,190.53 185.92,190.53 185.92,190.57 187.50,190.57 187.50,190.60 187.50,203.80 165.70,203.80 165.70,203.30 164.05,203.30 164.05,202.80 162.40,202.80 162.40,202.30 160.75,202.30 160.75,201.80 159.10,201.80 159.10,201.58 157.53,201.58 157.53,201.36 155.95,201.36 155.95,201.14 154.38,201.14 154.38,200.92 152.81,200.92 152.81,200.70 151.23,200.70 151.23,200.48 149.66,200.48 149.66,200.26 148.09,200.26 148.09,200.04 146.51,200.04 146.51,199.82 144.94,199.82 144.94,199.60 143.37,199.60 143.37,199.38 141.79,199.38 141.79,199.16 140.22,199.16 140.22,198.94 138.65,198.94 138.65,198.72 137.07,198.72 137.07,198.50 135.50,198.50 135.50,197.78 133.92,197.78 133.92,197.06 132.34,197.06 132.34,196.34 130.76,196.34 130.76,195.62 129.18,195.62 129.18,194.90 127.60,194.90 127.60,194.18 126.02,194.18 126.02,193.46 124.44,193.46 124.44,192.74 122.86,192.74 122.86,192.02 121.28,192.02 121.28,191.30 119.70,191.30 119.70,190.92 118.06,190.92 118.06,190.53 116.42,190.53 116.42,190.15 114.78,190.15 114.78,189.77 113.13,189.77 113.13,189.38 111.49,189.38 111.49,189.00 109.85,189.00 109.85,188.62 108.21,188.62 108.21,188.23 106.57,188.23 106.57,187.85 104.92,187.85 104.92,187.47 103.28,187.47 103.28,187.08 101.64,187.08 101.64,186.70 100.00,186.70 100.00,185.78 98.38,185.78 98.38,184.86 96.76,184.86 96.76,183.94 95.14,183.94 95.14,183.02 93.52,183.02 93.52,182.10 91.90,182.10 91.90,181.42 90.35,181.42 90.35,180.73 88.80,180.73 88.80,180.05 87.25,180.05 87.25,179.37 85.70,179.37 85.70,178.68 84.15,178.68 84.15,178.00 82.60,178.00 82.60,177.82 81.03,177.82 81.03,177.63 79.47,177.63 79.47,177.45 77.90,177.45 77.90,177.27 76.33,177.27 76.33,177.08 74.77,177.08 74.77,176.90 73.20,176.90 73.20,176.02 71.65,176.02 71.65,175.13 70.10,175.13 70.10,174.25 68.55,174.25 68.55,173.37 67.00,173.37 67.00,172.48 65.45,172.48 65.45,171.60 63.90,171.60 63.90,170.57 62.15,170.57 62.15,169.55 60.40,169.55 60.40,168.53 58.65,168.53 58.65,167.50 56.90,167.50 42.80,167.50 42.80,166.08 41.24,166.08 41.24,164.66 39.68,164.66 39.68,163.24 38.12,163.24 38.12,161.82 36.56,161.82 36.56,160.40 35.00,160.40" fill="#f6a3a6" fill-opacity="0.85"/>
<polygon points="35.00,159.10 36.67,159.10 36.67,159.31 38.35,159.31 38.35,159.53 40.03,159.53 40.03,159.74 41.70,159.74 41.70,159.96 43.30,159.96 43.30,159.95 44.90,159.95 44.90,159.94 46.50,159.94 46.50,159.93 48.10,159.93 48.10,159.92 49.70,159.92 49.70,159.91 51.30,159.91 51.30,159.90 52.90,159.90 52.90,159.89 54.50,159.89 54.50,159.88 56.25,159.88 56.25,160.22 58.00,160.22 58.00,160.56 59.50,160.56 59.50,160.67 61.00,160.67 61.00,160.77 62.50,160.77 62.50,160.88 64.00,160.88 64.00,160.98 65.50,160.98 65.50,161.09 67.00,161.09 67.00,161.19 68.50,161.19 68.50,161.30 70.07,161.30 70.07,161.40 71.63,161.40 71.63,161.50 73.20,161.50 73.20,161.60 74.77,161.60 74.77,161.71 76.33,161.71 76.33,161.81 77.90,161.81 77.90,161.91 79.47,161.91 79.47,162.01 81.03,162.01 81.03,162.11 82.60,162.11 82.60,162.21 84.26,162.21 84.26,162.36 85.91,162.36 85.91,162.51 87.57,162.51 87.57,162.66 89.23,162.66 89.23,162.80 90.89,162.80 90.89,162.95 92.54,162.95 92.54,163.10 94.20,163.10 94.20,163.24 95.78,163.24 95.78,163.29 97.36,163.29 97.36,163.33 98.94,163.33 98.94,163.37 100.52,163.37 100.52,163.41 102.10,163.41 102.10,163.45 103.68,163.45 103.68,163.49 105.26,163.49 105.26,163.53 106.84,163.53 106.84,163.57 108.42,163.57 108.42,163.61 110.00,163.61 110.00,163.65 111.67,163.65 111.67,163.75 113.33,163.75 113.33,163.85 115.00,163.85 115.00,163.94 116.67,163.94 116.67,164.04 118.33,164.04 118.33,164.14 120.00,164.14 120.00,164.24 121.67,164.24 121.67,164.34 123.33,164.34 123.33,164.44 125.00,164.44 125.00,164.53 126.67,164.53 126.67,164.63 128.33,164.63 128.33,164.73 130.00,164.73 130.00,164.83 131.62,164.83 131.62,164.97 133.24,164.97 133.24,165.12 134.85,165.12 134.85,165.26 136.47,165.26 136.47,165.41 138.09,165.41 138.09,165.55 139.71,165.55 139.71,165.70 141.33,165.70 141.33,165.84 142.95,165.84 142.95,165.99 144.56,165.99 144.56,166.13 146.18,166.13 146.18,166.28 147.80,166.28 147.80,166.42 149.39,166.42 149.39,166.41 150.98,166.41 150.98,166.40 152.56,166.40 152.56,166.39 154.15,166.39 154.15,166.39 155.74,166.39 155.74,166.38 157.33,166.38 157.33,166.37 158.92,166.37 158.92,166.36 160.50,166.36 160.50,166.35 162.09,166.35 162.09,166.34 163.68,166.34 163.68,166.33 165.27,166.33 165.27,166.32 166.86,166.32 166.86,166.31 168.44,166.31 168.44,166.30 170.03,166.30 170.03,166.29 171.62,166.29 171.62,166.28 173.21,166.28 173.21,166.27 174.80,166.27 174.80,166.26 176.38,166.26 176.38,166.25 177.97,166.25 177.97,166.24 179.56,166.24 179.56,166.23 181.15,166.23 181.15,166.22 182.74,166.22 182.74,166.21 184.32,166.21 184.32,166.20 185.91,166.20 185.91,166.19 187.50,166.19 187.50,166.19 187.50,170.92 187.50,170.91 185.91,170.91 185.91,170.89 184.32,170.89 184.32,170.88 182.74,170.88 182.74,170.87 181.15,170.87 181.15,170.86 179.56,170.86 179.56,170.84 177.97,170.84 177.97,170.83 176.38,170.83 176.38,170.82 174.80,170.82 174.80,170.81 173.21,170.81 173.21,170.79 171.62,170.79 171.62,170.78 170.03,170.78 170.03,170.77 168.44,170.77 168.44,170.75 166.86,170.75 166.86,170.74 165.27,170.74 165.27,170.73 163.68,170.73 163.68,170.72 162.09,170.72 162.09,170.70 160.50,170.70 160.50,170.69 158.92,170.69 158.92,170.68 157.33,170.68 157.33,170.67 155.74,170.67 155.74,170.65 154.15,170.65 154.15,170.64 152.56,170.64 152.56,170.63 150.98,170.63 150.98,170.62 149.39,170.62 149.39,170.60 147.80,170.60 147.80,170.43 146.18,170.43 146.18,170.27 144.56,170.27 144.56,170.10 142.95,170.10 142.95,169.93 141.33,169.93 141.33,169.76 139.71,169.76 139.71,169.60 138.09,169.60 138.09,169.43 136.47,169.43 136.47,169.26 134.85,169.26 134.85,169.09 133.24,169.09 133.24,168.93 131.62,168.93 131.62,168.76 130.00,168.76 130.00,168.64 128.33,168.64 128.33,168.52 126.67,168.52 126.67,168.39 125.00,168.39 125.00,168.27 123.33,168.27 123.33,168.15 121.67,168.15 121.67,168.03 120.00,168.03 120.00,167.91 118.33,167.91 118.33,167.79 116.67,167.79 116.67,167.67 115.00,167.67 115.00,167.54 113.33,167.54 113.33,167.42 111.67,167.42 111.67,167.30 110.00,167.30 110.00,167.24 108.42,167.24 108.42,167.17 106.84,167.17 106.84,167.11 105.26,167.11 105.26,167.05 103.68,167.05 103.68,166.99 102.10,166.99 102.10,166.92 100.52,166.92 100.52,166.86 98.94,166.86 98.94,166.80 97.36,166.80 97.36,166.74 95.78,166.74 95.78,166.67 94.20,166.67 94.20,166.50 92.54,166.50 92.54,166.33 90.89,166.33 90.89,166.16 89.23,166.16 89.23,165.99 87.57,165.99 87.57,165.82 85.91,165.82 85.91,165.65 84.26,165.65 84.26,165.48 82.60,165.48 82.60,165.36 81.03,165.36 81.03,165.23 79.47,165.23 79.47,165.11 77.90,165.11 77.90,164.99 76.33,164.99 76.33,164.86 74.77,164.86 74.77,164.74 73.20,164.74 73.20,164.62 71.63,164.62 71.63,164.49 70.07,164.49 70.07,164.37 68.50,164.37 68.50,164.24 67.00,164.24 67.00,164.12 65.50,164.12 65.50,163.99 64.00,163.99 64.00,163.86 62.50,163.86 62.50,163.74 61.00,163.74 61.00,163.61 59.50,163.61 59.50,163.48 58.00,163.48 58.00,163.12 56.25,163.12 56.25,162.76 54.50,162.76 54.50,162.74 52.90,162.74 52.90,162.73 51.30,162.73 51.30,162.72 49.70,162.72 49.70,162.70 48.10,162.70 48.10,162.69 46.50,162.69 46.50,162.68 44.90,162.68 44.90,162.67 43.30,162.67 43.30,162.65 41.70,162.65 41.70,162.42 40.03,162.42 40.03,162.18 38.35,162.18 38.35,161.94 36.67,161.94 36.67,161.70 35.00,161.70" fill="#a9c1e3" fill-opacity="0.8"/>
<line x1="34.9" y1="197.4" x2="165.4" y2="197.4" stroke="#aaa" stroke-width="0.4" stroke-dasharray="2,1"/>
<line x1="165.4" y1="197.4" x2="165.4" y2="238.9" stroke="#aaa" stroke-width="0.4" stroke-dasharray="2,1"/>
<polyline points="35.00,160.40 36.60,160.40 36.60,161.05 38.20,161.05 38.20,161.70 39.95,161.70 39.95,162.15 41.70,162.15 41.70,162.60 43.40,162.60 43.40,164.60 55.70,164.60 58.00,164.60 58.00,165.80 59.48,165.80 59.48,166.38 60.95,166.38 60.95,166.95 62.42,166.95 62.42,167.53 63.90,167.53 63.90,168.10 65.65,168.10 65.65,168.40 67.40,168.40 67.40,168.70 69.15,168.70 69.15,169.00 70.90,169.00 70.90,169.30 73.20,169.30 73.20,172.20 74.67,172.20 74.67,172.50 76.15,172.50 76.15,172.80 77.62,172.80 77.62,173.10 79.10,173.10 79.10,173.40 80.63,173.40 80.63,173.77 82.17,173.77 82.17,174.13 83.70,174.13 83.70,174.50 85.45,174.50 85.45,175.38 87.20,175.38 87.20,176.25 88.95,176.25 88.95,177.12 90.70,177.12 90.70,178.00 92.17,178.00 92.17,178.53 93.65,178.53 93.65,179.05 95.12,179.05 95.12,179.57 96.60,179.57 96.60,180.10 98.30,180.10 98.30,180.75 100.00,180.75 100.00,181.40 101.60,181.40 101.60,181.92 103.20,181.92 103.20,182.44 104.80,182.44 104.80,182.96 106.40,182.96 106.40,183.48 108.00,183.48 108.00,184.00 109.52,184.00 109.52,184.33 111.03,184.33 111.03,184.67 112.55,184.67 112.55,185.00 114.07,185.00 114.07,185.33 115.58,185.33 115.58,185.67 117.10,185.67 117.10,186.00 118.75,186.00 118.75,186.82 120.40,186.82 120.40,187.65 122.05,187.65 122.05,188.48 123.70,188.48 123.70,189.30 125.33,189.30 125.33,189.62 126.95,189.62 126.95,189.95 128.57,189.95 128.57,190.28 130.20,190.28 130.20,190.60 131.85,190.60 131.85,191.50 133.50,191.50 133.50,192.40 135.15,192.40 135.15,193.30 136.80,193.30 136.80,194.20 138.45,194.20 138.45,194.40 140.10,194.40 140.10,194.60 141.75,194.60 141.75,194.80 143.40,194.80 143.40,195.00 145.09,195.00 145.09,195.07 146.77,195.07 146.77,195.14 148.46,195.14 148.46,195.21 150.14,195.21 150.14,195.29 151.83,195.29 151.83,195.36 153.51,195.36 153.51,195.43 155.20,195.43 155.20,195.50 156.80,195.50 156.80,195.83 158.40,195.83 158.40,196.17 160.00,196.17 160.00,196.50 161.47,196.50 161.47,196.80 162.93,196.80 162.93,197.10 164.40,197.10 164.40,197.40 166.05,197.40 166.05,197.43 167.70,197.43 167.70,197.46 169.35,197.46 169.35,197.49 171.00,197.49 171.00,197.51 172.65,197.51 172.65,197.54 174.30,197.54 174.30,197.57 175.95,197.57 175.95,197.60 177.60,197.60 177.60,197.63 179.25,197.63 179.25,197.66 180.90,197.66 180.90,197.69 182.55,197.69 182.55,197.71 184.20,197.71 184.20,197.74 185.85,197.74 185.85,197.77 187.50,197.77 187.50,197.80" fill="none" stroke="#e8333a" stroke-width="0.6"/>
<polyline points="35.00,160.40 36.67,160.40 36.67,160.62 38.35,160.62 38.35,160.85 40.03,160.85 40.03,161.08 41.70,161.08 41.70,161.30 54.50,161.30 56.25,161.30 56.25,161.65 58.00,161.65 58.00,162.00 59.50,162.00 59.50,162.11 61.00,162.11 61.00,162.23 62.50,162.23 62.50,162.34 64.00,162.34 64.00,162.46 65.50,162.46 65.50,162.57 67.00,162.57 67.00,162.69 68.50,162.69 68.50,162.80 70.07,162.80 70.07,162.91 71.63,162.91 71.63,163.02 73.20,163.02 73.20,163.13 74.77,163.13 74.77,163.24 76.33,163.24 76.33,163.36 77.90,163.36 77.90,163.47 79.47,163.47 79.47,163.58 81.03,163.58 81.03,163.69 82.60,163.69 82.60,163.80 84.26,163.80 84.26,163.96 85.91,163.96 85.91,164.11 87.57,164.11 87.57,164.27 89.23,164.27 89.23,164.43 90.89,164.43 90.89,164.59 92.54,164.59 92.54,164.74 94.20,164.74 94.20,164.90 95.78,164.90 95.78,164.95 97.36,164.95 97.36,165.00 98.94,165.00 98.94,165.05 100.52,165.05 100.52,165.10 102.10,165.10 102.10,165.15 103.68,165.15 103.68,165.20 105.26,165.20 105.26,165.25 106.84,165.25 106.84,165.30 108.42,165.30 108.42,165.35 110.00,165.35 110.00,165.40 111.67,165.40 111.67,165.51 113.33,165.51 113.33,165.62 115.00,165.62 115.00,165.72 116.67,165.72 116.67,165.83 118.33,165.83 118.33,165.94 120.00,165.94 120.00,166.05 121.67,166.05 121.67,166.16 123.33,166.16 123.33,166.27 125.00,166.27 125.00,166.38 126.67,166.38 126.67,166.48 128.33,166.48 128.33,166.59 130.00,166.59 130.00,166.70 131.62,166.70 131.62,166.85 133.24,166.85 133.24,167.01 134.85,167.01 134.85,167.16 136.47,167.16 136.47,167.32 138.09,167.32 138.09,167.47 139.71,167.47 139.71,167.63 141.33,167.63 141.33,167.78 142.95,167.78 142.95,167.94 144.56,167.94 144.56,168.09 146.18,168.09 146.18,168.25 147.80,168.25 147.80,168.40 187.50,168.40" fill="none" stroke="#2b579c" stroke-width="0.6"/>
<line x1="165.60" y1="196.90" x2="165.60" y2="198.70" stroke="#e8333a" stroke-width="0.4"/>
<line x1="167.80" y1="196.90" x2="167.80" y2="198.70" stroke="#e8333a" stroke-width="0.4"/>
<line x1="170.00" y1="196.90" x2="170.00" y2="198.70" stroke="#e8333a" stroke-width="0.4"/>
<line x1="172.20" y1="196.90" x2="172.20" y2="198.70" stroke="#e8333a" stroke-width="0.4"/>
<line x1="174.40" y1="196.90" x2="174.40" y2="198.70" stroke="#e8333a" stroke-width="0.4"/>
<line x1="176.60" y1="196.90" x2="176.60" y2="198.70" stroke="#e8333a" stroke-width="0.4"/>
<line x1="178.80" y1="196.90" x2="178.80" y2="198.70" stroke="#e8333a" stroke-width="0.4"/>
<line x1="181.00" y1="196.90" x2="181.00" y2="198.70" stroke="#e8333a" stroke-width="0.4"/>
<line x1="183.20" y1="196.90" x2="183.20" y2="198.70" stroke="#e8333a" stroke-width="0.4"/>
<line x1="185.40" y1="196.90" x2="185.40" y2="198.70" stroke="#e8333a" stroke-width="0.4"/>
<line x1="149.00" y1="167.50" x2="149.00" y2="169.30" stroke="#2f5fa6" stroke-width="0.4"/>
<line x1="151.20" y1="167.50" x2="151.20" y2="169.30" stroke="#2f5fa6" stroke-width="0.4"/>
<line x1="153.40" y1="167.50" x2="153.40" y2="169.30" stroke="#2f5fa6" stroke-width="0.4"/>
<line x1="155.60" y1="167.50" x2="155.60" y2="169.30" stroke="#2f5fa6" stroke-width="0.4"/>
<line x1="157.80" y1="167.50" x2="157.80" y2="169.30" stroke="#2f5fa6" stroke-width="0.4"/>
<line x1="160.00" y1="167.50" x2="160.00" y2="169.30" stroke="#2f5fa6" stroke-width="0.4"/>
<line x1="162.20" y1="167.50" x2="162.20" y2="169.30" stroke="#2f5fa6" stroke-width="0.4"/>
<line x1="164.40" y1="167.50" x2="164.40" y2="169.30" stroke="#2f5fa6" stroke-width="0.4"/>
<line x1="166.60" y1="167.50" x2="166.60" y2="169.30" stroke="#2f5fa6" stroke-width="0.4"/>
<line x1="168.80" y1="167.50" x2="168.80" y2="169.30" stroke="#2f5fa6" stroke-width="0.4"/>
<line x1="171.00" y1="167.50" x2="171.00" y2="169.30" stroke="#2f5fa6" stroke-width="0.4"/>
<line x1="173.20" y1="167.50" x2="173.20" y2="169.30" stroke="#2f5fa6" stroke-width="0.4"/>
<line x1="175.40" y1="167.50" x2="175.40" y2="169.30" stroke="#2f5fa6" stroke-width="0.4"/>
<line x1="177.60" y1="167.50" x2="177.60" y2="169.30" stroke="#2f5fa6" stroke-width="0.4"/>
<line x1="179.80" y1="167.50" x2="179.80" y2="169.30" stroke="#2f5fa6" stroke-width="0.4"/>
<line x1="182.00" y1="167.50" x2="182.00" y2="169.30" stroke="#2f5fa6" stroke-width="0.4"/>
<line x1="184.20" y1="167.50" x2="184.20" y2="169.30" stroke="#2f5fa6" stroke-width="0.4"/>
<line x1="186.40" y1="167.50" x2="186.40" y2="169.30" stroke="#2f5fa6" stroke-width="0.4"/>
<text x="88.30" y="149.90" font-size="3.0" text-anchor="start" fill="#222" font-weight="normal" stroke="#222" stroke-width="0.09" >Group</text>
<rect x="98.1" y="147.20000000000002" width="3.8" height="3.2" fill="#a9c0e2" stroke="#bbb" stroke-width="0.2"/>
<line x1="98.5" y1="148.8" x2="101.5" y2="148.8" stroke="#2f5fa6" stroke-width="0.6"/>
<text x="103.90" y="149.90" font-size="3.0" text-anchor="start" fill="#222" font-weight="normal" stroke="#222" stroke-width="0.09" >Low-NPLHb</text>
<rect x="122.7" y="147.20000000000002" width="3.8" height="3.2" fill="#f6a3a6" stroke="#bbb" stroke-width="0.2"/>
<line x1="123.10000000000001" y1="148.8" x2="126.10000000000001" y2="148.8" stroke="#e8333a" stroke-width="0.6"/>
<text x="129.00" y="149.90" font-size="3.0" text-anchor="start" fill="#222" font-weight="normal" stroke="#222" stroke-width="0.09" >High-NPLHb</text>
<text x="38.00" y="221.60" font-size="4.1" text-anchor="start" fill="#111" font-weight="normal" stroke="#111" stroke-width="0.09" >p = 0.0001</text>
<text x="-0.90" y="157.70" font-size="24.8" text-anchor="start" fill="#000" font-weight="normal" >D</text>
<text x="41.0" y="257.3" font-size="5.0" fill="#111" stroke="#111" stroke-width="0.09" textLength="29.8" lengthAdjust="spacingAndGlyphs">Number at risk</text>
<line x1="40.2" y1="260.1" x2="40.2" y2="274.4" stroke="#333" stroke-width="0.45"/>
<line x1="40.2" y1="274.4" x2="187.5" y2="274.4" stroke="#333" stroke-width="0.45"/>
<text x="39.00" y="265.50" font-size="3.8" text-anchor="end" fill="#3b6db8" font-weight="normal" stroke="#3b6db8" stroke-width="0.09" >Low-NPLHb</text>
<text x="39.00" y="272.20" font-size="3.8" text-anchor="end" fill="#e8333a" font-weight="normal" stroke="#e8333a" stroke-width="0.09" >High-NPLHb</text>
<text x="0" y="0" font-size="4.3" fill="#111" stroke="#111" stroke-width="0.09" text-anchor="middle" transform="translate(16.4,267.45000000000005) rotate(-90)">Group</text>
<text x="47.70" y="265.50" font-size="3.9" text-anchor="middle" fill="#111" font-weight="normal" stroke="#111" stroke-width="0.09" >312</text>
<text x="47.70" y="272.20" font-size="3.9" text-anchor="middle" fill="#111" font-weight="normal" stroke="#111" stroke-width="0.09" >123</text>
<line x1="47.70" y1="274.4" x2="47.70" y2="275.5" stroke="#333" stroke-width="0.4"/>
<text x="47.70" y="279.40" font-size="3.9" text-anchor="middle" fill="#222" font-weight="normal" stroke="#222" stroke-width="0.09" >0</text>
<text x="70.35" y="265.50" font-size="3.9" text-anchor="middle" fill="#111" font-weight="normal" stroke="#111" stroke-width="0.09" >305</text>
<text x="70.35" y="272.20" font-size="3.9" text-anchor="middle" fill="#111" font-weight="normal" stroke="#111" stroke-width="0.09" >114</text>
<line x1="70.35" y1="274.4" x2="70.35" y2="275.5" stroke="#333" stroke-width="0.4"/>
<text x="70.35" y="279.40" font-size="3.9" text-anchor="middle" fill="#222" font-weight="normal" stroke="#222" stroke-width="0.09" >15</text>
<text x="93.00" y="265.50" font-size="3.9" text-anchor="middle" fill="#111" font-weight="normal" stroke="#111" stroke-width="0.09" >298</text>
<text x="93.00" y="272.20" font-size="3.9" text-anchor="middle" fill="#111" font-weight="normal" stroke="#111" stroke-width="0.09" >100</text>
<line x1="93.00" y1="274.4" x2="93.00" y2="275.5" stroke="#333" stroke-width="0.4"/>
<text x="93.00" y="279.40" font-size="3.9" text-anchor="middle" fill="#222" font-weight="normal" stroke="#222" stroke-width="0.09" >30</text>
<text x="115.65" y="265.50" font-size="3.9" text-anchor="middle" fill="#111" font-weight="normal" stroke="#111" stroke-width="0.09" >283</text>
<text x="115.65" y="272.20" font-size="3.9" text-anchor="middle" fill="#111" font-weight="normal" stroke="#111" stroke-width="0.09" >83</text>
<line x1="115.65" y1="274.4" x2="115.65" y2="275.5" stroke="#333" stroke-width="0.4"/>
<text x="115.65" y="279.40" font-size="3.9" text-anchor="middle" fill="#222" font-weight="normal" stroke="#222" stroke-width="0.09" >45</text>
<text x="138.30" y="265.50" font-size="3.9" text-anchor="middle" fill="#111" font-weight="normal" stroke="#111" stroke-width="0.09" >285</text>
<text x="138.30" y="272.20" font-size="3.9" text-anchor="middle" fill="#111" font-weight="normal" stroke="#111" stroke-width="0.09" >72</text>
<line x1="138.30" y1="274.4" x2="138.30" y2="275.5" stroke="#333" stroke-width="0.4"/>
<text x="138.30" y="279.40" font-size="3.9" text-anchor="middle" fill="#222" font-weight="normal" stroke="#222" stroke-width="0.09" >60</text>
<text x="160.95" y="265.50" font-size="3.9" text-anchor="middle" fill="#111" font-weight="normal" stroke="#111" stroke-width="0.09" >244</text>
<text x="160.95" y="272.20" font-size="3.9" text-anchor="middle" fill="#111" font-weight="normal" stroke="#111" stroke-width="0.09" >57</text>
<line x1="160.95" y1="274.4" x2="160.95" y2="275.5" stroke="#333" stroke-width="0.4"/>
<text x="160.95" y="279.40" font-size="3.9" text-anchor="middle" fill="#222" font-weight="normal" stroke="#222" stroke-width="0.09" >75</text>
<text x="183.60" y="265.50" font-size="3.9" text-anchor="middle" fill="#111" font-weight="normal" stroke="#111" stroke-width="0.09" >49</text>
<text x="183.60" y="272.20" font-size="3.9" text-anchor="middle" fill="#111" font-weight="normal" stroke="#111" stroke-width="0.09" >6</text>
<line x1="183.60" y1="274.4" x2="183.60" y2="275.5" stroke="#333" stroke-width="0.4"/>
<text x="183.60" y="279.40" font-size="3.9" text-anchor="middle" fill="#222" font-weight="normal" stroke="#222" stroke-width="0.09" >90</text>
<text x="123.25" y="284.00" font-size="4.1" text-anchor="middle" fill="#111" font-weight="normal" stroke="#111" stroke-width="0.09" >Time in months</text>
<line x1="26.5" y1="309.5" x2="26.5" y2="389.8" stroke="#555" stroke-width="0.45"/>
<line x1="26.5" y1="389.8" x2="185.9" y2="389.8" stroke="#555" stroke-width="0.45"/>
<line x1="25.3" y1="313.20" x2="26.5" y2="313.20" stroke="#555" stroke-width="0.4"/>
<text x="25.00" y="314.50" font-size="3.7" text-anchor="end" fill="#222" font-weight="normal" stroke="#222" stroke-width="0.09" >1.00</text>
<line x1="25.3" y1="331.60" x2="26.5" y2="331.60" stroke="#555" stroke-width="0.4"/>
<text x="25.00" y="332.90" font-size="3.7" text-anchor="end" fill="#222" font-weight="normal" stroke="#222" stroke-width="0.09" >0.75</text>
<line x1="25.3" y1="350.00" x2="26.5" y2="350.00" stroke="#555" stroke-width="0.4"/>
<text x="25.00" y="351.30" font-size="3.7" text-anchor="end" fill="#222" font-weight="normal" stroke="#222" stroke-width="0.09" >0.50</text>
<line x1="25.3" y1="368.40" x2="26.5" y2="368.40" stroke="#555" stroke-width="0.4"/>
<text x="25.00" y="369.70" font-size="3.7" text-anchor="end" fill="#222" font-weight="normal" stroke="#222" stroke-width="0.09" >0.25</text>
<line x1="25.3" y1="386.80" x2="26.5" y2="386.80" stroke="#555" stroke-width="0.4"/>
<text x="25.00" y="388.10" font-size="3.7" text-anchor="end" fill="#222" font-weight="normal" stroke="#222" stroke-width="0.09" >0.00</text>
<line x1="34.40" y1="389.8" x2="34.40" y2="391.0" stroke="#555" stroke-width="0.4"/>
<text x="34.40" y="394.30" font-size="3.7" text-anchor="middle" fill="#222" font-weight="normal" stroke="#222" stroke-width="0.09" >0</text>
<line x1="58.30" y1="389.8" x2="58.30" y2="391.0" stroke="#555" stroke-width="0.4"/>
<text x="58.30" y="394.30" font-size="3.7" text-anchor="middle" fill="#222" font-weight="normal" stroke="#222" stroke-width="0.09" >15</text>
<line x1="82.20" y1="389.8" x2="82.20" y2="391.0" stroke="#555" stroke-width="0.4"/>
<text x="82.20" y="394.30" font-size="3.7" text-anchor="middle" fill="#222" font-weight="normal" stroke="#222" stroke-width="0.09" >30</text>
<line x1="106.10" y1="389.8" x2="106.10" y2="391.0" stroke="#555" stroke-width="0.4"/>
<text x="106.10" y="394.30" font-size="3.7" text-anchor="middle" fill="#222" font-weight="normal" stroke="#222" stroke-width="0.09" >45</text>
<line x1="130.00" y1="389.8" x2="130.00" y2="391.0" stroke="#555" stroke-width="0.4"/>
<text x="130.00" y="394.30" font-size="3.7" text-anchor="middle" fill="#222" font-weight="normal" stroke="#222" stroke-width="0.09" >60</text>
<line x1="153.90" y1="389.8" x2="153.90" y2="391.0" stroke="#555" stroke-width="0.4"/>
<text x="153.90" y="394.30" font-size="3.7" text-anchor="middle" fill="#222" font-weight="normal" stroke="#222" stroke-width="0.09" >75</text>
<line x1="177.80" y1="389.8" x2="177.80" y2="391.0" stroke="#555" stroke-width="0.4"/>
<text x="177.80" y="394.30" font-size="3.7" text-anchor="middle" fill="#222" font-weight="normal" stroke="#222" stroke-width="0.09" >90</text>
<text x="114.70" y="400.80" font-size="4.1" text-anchor="middle" fill="#111" font-weight="normal" stroke="#111" stroke-width="0.09" >Time in months</text>
<text x="0" y="0" font-size="3.9" fill="#222" stroke="#222" stroke-width="0.09" text-anchor="middle" textLength="51" lengthAdjust="spacingAndGlyphs" transform="translate(15.6,350.0) rotate(-90)">Overall Survival Probability</text>
<polygon points="34.70,313.40 36.32,313.40 36.32,313.70 37.94,313.70 37.94,314.00 39.56,314.00 39.56,314.30 41.18,314.30 41.18,314.60 42.80,314.60 42.80,314.90 44.31,314.90 44.31,314.94 45.83,314.94 45.83,314.99 47.34,314.99 47.34,315.03 48.86,315.03 48.86,315.07 50.37,315.07 50.37,315.11 51.89,315.11 51.89,315.16 53.40,315.16 53.40,315.20 55.15,315.20 55.15,315.65 56.90,315.65 56.90,316.10 58.56,316.10 58.56,316.43 60.21,316.43 60.21,316.76 61.87,316.76 61.87,317.09 63.53,317.09 63.53,317.41 65.19,317.41 65.19,317.74 66.84,317.74 66.84,318.07 68.50,318.07 68.50,318.40 70.17,318.40 70.17,318.66 71.84,318.66 71.84,318.91 73.51,318.91 73.51,319.17 75.19,319.17 75.19,319.43 76.86,319.43 76.86,319.69 78.53,319.69 78.53,319.94 80.20,319.94 80.20,320.20 81.70,320.20 81.70,320.70 83.20,320.70 83.20,321.20 84.70,321.20 84.70,321.70 86.20,321.70 86.20,322.20 87.70,322.20 87.70,322.70 89.20,322.70 89.20,323.20 90.70,323.20 90.70,323.70 92.45,323.70 92.45,324.27 94.20,324.27 94.20,324.85 95.95,324.85 95.95,325.43 97.70,325.43 97.70,326.00 99.24,326.00 99.24,326.04 100.78,326.04 100.78,326.07 102.31,326.07 102.31,326.11 103.85,326.11 103.85,326.15 105.39,326.15 105.39,326.19 106.92,326.19 106.92,326.23 108.46,326.23 108.46,326.26 110.00,326.26 110.00,326.30 111.67,326.30 111.67,326.57 113.33,326.57 113.33,326.83 115.00,326.83 115.00,327.10 116.67,327.10 116.67,327.37 118.33,327.37 118.33,327.63 120.00,327.63 120.00,327.90 121.67,327.90 121.67,328.17 123.33,328.17 123.33,328.43 125.00,328.43 125.00,328.70 126.67,328.70 126.67,328.97 128.33,328.97 128.33,329.23 130.00,329.23 130.00,329.50 131.65,329.50 131.65,329.85 133.30,329.85 133.30,330.20 134.95,330.20 134.95,330.55 136.60,330.55 136.60,330.90 138.25,330.90 138.25,331.25 139.90,331.25 139.90,331.60 141.55,331.60 141.55,331.95 143.20,331.95 143.20,332.30 144.85,332.30 144.85,332.65 146.50,332.65 146.50,333.00 148.07,333.00 148.07,332.99 149.64,332.99 149.64,332.98 151.21,332.98 151.21,332.96 152.78,332.96 152.78,332.95 154.35,332.95 154.35,332.94 155.93,332.94 155.93,332.93 157.50,332.93 157.50,332.91 159.07,332.91 159.07,332.90 160.64,332.90 160.64,332.89 162.21,332.89 162.21,332.88 163.78,332.88 163.78,332.86 165.35,332.86 165.35,332.85 166.92,332.85 166.92,332.84 168.49,332.84 168.49,332.82 170.06,332.82 170.06,332.81 171.63,332.81 171.63,332.80 173.20,332.80 173.20,332.79 174.77,332.79 174.77,332.77 176.35,332.77 176.35,332.76 177.92,332.76 177.92,332.75 179.49,332.75 179.49,332.74 181.06,332.74 181.06,332.72 182.63,332.72 182.63,332.71 184.20,332.71 184.20,332.70 184.20,342.70 146.50,342.70 146.50,342.38 144.85,342.38 144.85,342.06 143.20,342.06 143.20,341.74 141.55,341.74 141.55,341.42 139.90,341.42 139.90,341.10 138.25,341.10 138.25,340.78 136.60,340.78 136.60,340.46 134.95,340.46 134.95,340.14 133.30,340.14 133.30,339.82 131.65,339.82 131.65,339.50 130.00,339.50 130.00,339.18 128.33,339.18 128.33,338.85 126.67,338.85 126.67,338.52 125.00,338.52 125.00,338.20 123.33,338.20 123.33,337.88 121.67,337.88 121.67,337.55 120.00,337.55 120.00,337.23 118.33,337.23 118.33,336.90 116.67,336.90 116.67,336.58 115.00,336.58 115.00,336.25 113.33,336.25 113.33,335.93 111.67,335.93 111.67,335.60 110.00,335.60 110.00,335.43 108.33,335.43 108.33,335.25 106.65,335.25 106.65,335.07 104.97,335.07 104.97,334.90 103.30,334.90 103.30,334.73 101.62,334.73 101.62,334.55 99.95,334.55 99.95,334.38 98.27,334.38 98.27,334.20 96.60,334.20 96.60,333.53 95.10,333.53 95.10,332.86 93.60,332.86 93.60,332.19 92.10,332.19 92.10,331.51 90.60,331.51 90.60,330.84 89.10,330.84 89.10,330.17 87.60,330.17 87.60,329.50 86.10,329.50 86.10,329.18 84.53,329.18 84.53,328.86 82.97,328.86 82.97,328.53 81.40,328.53 81.40,328.21 79.83,328.21 79.83,327.89 78.27,327.89 78.27,327.57 76.70,327.57 76.70,327.24 75.13,327.24 75.13,326.92 73.57,326.92 73.57,326.60 72.00,326.60 72.00,325.15 70.25,325.15 70.25,323.70 68.50,323.70 68.50,323.20 67.00,323.20 67.00,322.70 65.50,322.70 65.50,322.20 64.00,322.20 64.00,321.70 62.50,321.70 62.50,321.20 61.00,321.20 61.00,320.70 59.50,320.70 59.50,320.20 58.00,320.20 58.00,319.23 56.47,319.23 56.47,318.27 54.93,318.27 54.93,317.30 53.40,317.30 42.80,317.30 42.80,316.52 41.18,316.52 41.18,315.74 39.56,315.74 39.56,314.96 37.94,314.96 37.94,314.18 36.32,314.18 36.32,313.40 34.70,313.40" fill="#f6a3a6" fill-opacity="0.85"/>
<polygon points="34.70,312.40 36.45,312.40 36.45,312.48 38.20,312.48 38.20,312.56 39.95,312.56 39.95,312.64 41.70,312.64 41.70,312.72 43.39,312.72 43.39,312.73 45.08,312.73 45.08,312.75 46.77,312.75 46.77,312.76 48.46,312.76 48.46,312.77 50.14,312.77 50.14,312.78 51.83,312.78 51.83,312.80 53.52,312.80 53.52,312.81 55.21,312.81 55.21,312.82 56.90,312.82 56.90,312.84 58.46,312.84 58.46,312.91 60.01,312.91 60.01,312.98 61.57,312.98 61.57,313.05 63.12,313.05 63.12,313.12 64.68,313.12 64.68,313.19 66.23,313.19 66.23,313.26 67.79,313.26 67.79,313.33 69.34,313.33 69.34,313.40 70.90,313.40 70.90,313.47 72.45,313.47 72.45,313.55 74.00,313.55 74.00,313.63 75.55,313.63 75.55,313.71 77.10,313.71 77.10,313.79 78.65,313.79 78.65,313.88 80.20,313.88 80.20,313.96 81.84,313.96 81.84,314.12 83.48,314.12 83.48,314.28 85.12,314.28 85.12,314.44 86.76,314.44 86.76,314.60 88.40,314.60 88.40,314.76 90.07,314.76 90.07,314.94 91.74,314.94 91.74,315.12 93.41,315.12 93.41,315.30 95.09,315.30 95.09,315.48 96.76,315.48 96.76,315.66 98.43,315.66 98.43,315.84 100.10,315.84 100.10,316.02 101.75,316.02 101.75,316.17 103.40,316.17 103.40,316.31 105.05,316.31 105.05,316.46 106.70,316.46 106.70,316.61 108.35,316.61 108.35,316.75 110.00,316.75 110.00,316.90 111.55,316.90 111.55,317.08 113.11,317.08 113.11,317.26 114.66,317.26 114.66,317.44 116.22,317.44 116.22,317.63 117.77,317.63 117.77,317.81 119.32,317.81 119.32,317.99 120.88,317.99 120.88,318.17 122.43,318.17 122.43,318.35 123.98,318.35 123.98,318.53 125.54,318.53 125.54,318.71 127.09,318.71 127.09,318.89 128.65,318.89 128.65,319.08 130.20,319.08 130.20,319.26 131.75,319.26 131.75,319.33 133.29,319.33 133.29,319.41 134.84,319.41 134.84,319.48 136.38,319.48 136.38,319.55 137.93,319.55 137.93,319.63 139.48,319.63 139.48,319.70 141.02,319.70 141.02,319.77 142.57,319.77 142.57,319.85 144.12,319.85 144.12,319.92 145.66,319.92 145.66,320.00 147.21,320.00 147.21,320.07 148.75,320.07 148.75,320.14 150.30,320.14 150.30,320.22 151.88,320.22 151.88,320.36 153.45,320.36 153.45,320.50 155.03,320.50 155.03,320.65 156.60,320.65 156.60,320.79 158.18,320.79 158.18,320.93 159.75,320.93 159.75,321.08 161.33,321.08 161.33,321.22 162.90,321.22 162.90,321.37 164.54,321.37 164.54,321.35 166.18,321.35 166.18,321.33 167.82,321.33 167.82,321.31 169.45,321.31 169.45,321.29 171.09,321.29 171.09,321.27 172.73,321.27 172.73,321.25 174.37,321.25 174.37,321.23 176.01,321.23 176.01,321.21 177.65,321.21 177.65,321.19 179.28,321.19 179.28,321.17 180.92,321.17 180.92,321.15 182.56,321.15 182.56,321.13 184.20,321.13 184.20,321.11 184.20,326.69 184.20,326.67 182.56,326.67 182.56,326.65 180.92,326.65 180.92,326.63 179.28,326.63 179.28,326.61 177.65,326.61 177.65,326.59 176.01,326.59 176.01,326.57 174.37,326.57 174.37,326.55 172.73,326.55 172.73,326.53 171.09,326.53 171.09,326.51 169.45,326.51 169.45,326.49 167.82,326.49 167.82,326.47 166.18,326.47 166.18,326.45 164.54,326.45 164.54,326.43 162.90,326.43 162.90,326.25 161.33,326.25 161.33,326.07 159.75,326.07 159.75,325.89 158.18,325.89 158.18,325.71 156.60,325.71 156.60,325.53 155.03,325.53 155.03,325.35 153.45,325.35 153.45,325.17 151.88,325.17 151.88,324.98 150.30,324.98 150.30,324.87 148.75,324.87 148.75,324.76 147.21,324.76 147.21,324.65 145.66,324.65 145.66,324.54 144.12,324.54 144.12,324.43 142.57,324.43 142.57,324.32 141.02,324.32 141.02,324.21 139.48,324.21 139.48,324.10 137.93,324.10 137.93,323.99 136.38,323.99 136.38,323.87 134.84,323.87 134.84,323.76 133.29,323.76 133.29,323.65 131.75,323.65 131.75,323.54 130.20,323.54 130.20,323.32 128.65,323.32 128.65,323.11 127.09,323.11 127.09,322.89 125.54,322.89 125.54,322.67 123.98,322.67 123.98,322.45 122.43,322.45 122.43,322.23 120.88,322.23 120.88,322.01 119.32,322.01 119.32,321.79 117.77,321.79 117.77,321.57 116.22,321.57 116.22,321.36 114.66,321.36 114.66,321.14 113.11,321.14 113.11,320.92 111.55,320.92 111.55,320.70 110.00,320.70 110.00,320.51 108.35,320.51 108.35,320.33 106.70,320.33 106.70,320.14 105.05,320.14 105.05,319.95 103.40,319.95 103.40,319.77 101.75,319.77 101.75,319.58 100.10,319.58 100.10,319.36 98.43,319.36 98.43,319.14 96.76,319.14 96.76,318.92 95.09,318.92 95.09,318.70 93.41,318.70 93.41,318.48 91.74,318.48 91.74,318.26 90.07,318.26 90.07,318.04 88.40,318.04 88.40,317.84 86.76,317.84 86.76,317.64 85.12,317.64 85.12,317.44 83.48,317.44 83.48,317.24 81.84,317.24 81.84,317.04 80.20,317.04 80.20,316.92 78.65,316.92 78.65,316.81 77.10,316.81 77.10,316.69 75.55,316.69 75.55,316.57 74.00,316.57 74.00,316.45 72.45,316.45 72.45,316.33 70.90,316.33 70.90,316.22 69.34,316.22 69.34,316.12 67.79,316.12 67.79,316.01 66.23,316.01 66.23,315.90 64.68,315.90 64.68,315.79 63.12,315.79 63.12,315.69 61.57,315.69 61.57,315.58 60.01,315.58 60.01,315.47 58.46,315.47 58.46,315.36 56.90,315.36 56.90,315.31 55.21,315.31 55.21,315.26 53.52,315.26 53.52,315.20 51.83,315.20 51.83,315.15 50.14,315.15 50.14,315.09 48.46,315.09 48.46,315.04 46.77,315.04 46.77,314.99 45.08,314.99 45.08,314.93 43.39,314.93 43.39,314.88 41.70,314.88 41.70,314.76 39.95,314.76 39.95,314.64 38.20,314.64 38.20,314.52 36.45,314.52 36.45,314.40 34.70,314.40" fill="#a9c1e3" fill-opacity="0.8"/>
<polyline points="34.70,313.40 36.45,313.40 36.45,313.77 38.20,313.77 38.20,314.15 39.95,314.15 39.95,314.52 41.70,314.52 41.70,314.90 42.80,314.90 42.80,316.10 53.40,316.10 55.15,316.10 55.15,316.95 56.90,316.95 56.90,317.80 58.65,317.80 58.65,318.70 60.40,318.70 60.40,319.60 62.02,319.60 62.02,319.84 63.64,319.84 63.64,320.08 65.26,320.08 65.26,320.32 66.88,320.32 66.88,320.56 68.50,320.56 68.50,320.80 70.25,320.80 70.25,321.95 72.00,321.95 72.00,323.10 73.64,323.10 73.64,323.34 75.28,323.34 75.28,323.58 76.92,323.58 76.92,323.82 78.56,323.82 78.56,324.06 80.20,324.06 80.20,324.30 81.67,324.30 81.67,324.73 83.15,324.73 83.15,325.15 84.62,325.15 84.62,325.57 86.10,325.57 86.10,326.00 87.63,326.00 87.63,326.40 89.17,326.40 89.17,326.80 90.70,326.80 90.70,327.20 92.17,327.20 92.17,327.77 93.65,327.77 93.65,328.35 95.12,328.35 95.12,328.93 96.60,328.93 96.60,329.50 98.27,329.50 98.27,329.65 99.95,329.65 99.95,329.80 101.62,329.80 101.62,329.95 103.30,329.95 103.30,330.10 104.97,330.10 104.97,330.25 106.65,330.25 106.65,330.40 108.33,330.40 108.33,330.55 110.00,330.55 110.00,330.70 111.54,330.70 111.54,331.10 113.08,331.10 113.08,331.50 114.62,331.50 114.62,331.90 116.16,331.90 116.16,332.30 117.70,332.30 117.70,332.70 119.26,332.70 119.26,332.95 120.83,332.95 120.83,333.20 122.39,333.20 122.39,333.45 123.95,333.45 123.95,333.70 125.51,333.70 125.51,333.95 127.07,333.95 127.07,334.20 128.64,334.20 128.64,334.45 130.20,334.45 130.20,334.70 131.88,334.70 131.88,335.00 133.57,335.00 133.57,335.30 135.25,335.30 135.25,335.60 136.93,335.60 136.93,335.90 138.62,335.90 138.62,336.20 140.30,336.20 140.30,336.50 141.85,336.50 141.85,336.80 143.40,336.80 143.40,337.10 144.95,337.10 144.95,337.40 146.50,337.40 146.50,337.70 184.20,337.70" fill="none" stroke="#e8333a" stroke-width="0.6"/>
<polyline points="34.70,313.40 36.45,313.40 36.45,313.50 38.20,313.50 38.20,313.60 39.95,313.60 39.95,313.70 41.70,313.70 41.70,313.80 43.39,313.80 43.39,313.83 45.08,313.83 45.08,313.87 46.77,313.87 46.77,313.90 48.46,313.90 48.46,313.93 50.14,313.93 50.14,313.97 51.83,313.97 51.83,314.00 53.52,314.00 53.52,314.03 55.21,314.03 55.21,314.07 56.90,314.07 56.90,314.10 58.46,314.10 58.46,314.19 60.01,314.19 60.01,314.28 61.57,314.28 61.57,314.37 63.12,314.37 63.12,314.46 64.68,314.46 64.68,314.54 66.23,314.54 66.23,314.63 67.79,314.63 67.79,314.72 69.34,314.72 69.34,314.81 70.90,314.81 70.90,314.90 72.45,314.90 72.45,315.00 74.00,315.00 74.00,315.10 75.55,315.10 75.55,315.20 77.10,315.20 77.10,315.30 78.65,315.30 78.65,315.40 80.20,315.40 80.20,315.50 81.84,315.50 81.84,315.68 83.48,315.68 83.48,315.86 85.12,315.86 85.12,316.04 86.76,316.04 86.76,316.22 88.40,316.22 88.40,316.40 90.07,316.40 90.07,316.60 91.74,316.60 91.74,316.80 93.41,316.80 93.41,317.00 95.09,317.00 95.09,317.20 96.76,317.20 96.76,317.40 98.43,317.40 98.43,317.60 100.10,317.60 100.10,317.80 101.75,317.80 101.75,317.97 103.40,317.97 103.40,318.13 105.05,318.13 105.05,318.30 106.70,318.30 106.70,318.47 108.35,318.47 108.35,318.63 110.00,318.63 110.00,318.80 111.55,318.80 111.55,319.00 113.11,319.00 113.11,319.20 114.66,319.20 114.66,319.40 116.22,319.40 116.22,319.60 117.77,319.60 117.77,319.80 119.32,319.80 119.32,320.00 120.88,320.00 120.88,320.20 122.43,320.20 122.43,320.40 123.98,320.40 123.98,320.60 125.54,320.60 125.54,320.80 127.09,320.80 127.09,321.00 128.65,321.00 128.65,321.20 130.20,321.20 130.20,321.40 131.75,321.40 131.75,321.49 133.29,321.49 133.29,321.58 134.84,321.58 134.84,321.68 136.38,321.68 136.38,321.77 137.93,321.77 137.93,321.86 139.48,321.86 139.48,321.95 141.02,321.95 141.02,322.05 142.57,322.05 142.57,322.14 144.12,322.14 144.12,322.23 145.66,322.23 145.66,322.32 147.21,322.32 147.21,322.42 148.75,322.42 148.75,322.51 150.30,322.51 150.30,322.60 151.88,322.60 151.88,322.76 153.45,322.76 153.45,322.93 155.03,322.93 155.03,323.09 156.60,323.09 156.60,323.25 158.18,323.25 158.18,323.41 159.75,323.41 159.75,323.57 161.33,323.57 161.33,323.74 162.90,323.74 162.90,323.90 184.20,323.90" fill="none" stroke="#2b579c" stroke-width="0.6"/>
<line x1="147.70" y1="336.80" x2="147.70" y2="338.60" stroke="#e8333a" stroke-width="0.4"/>
<line x1="149.90" y1="336.80" x2="149.90" y2="338.60" stroke="#e8333a" stroke-width="0.4"/>
<line x1="152.10" y1="336.80" x2="152.10" y2="338.60" stroke="#e8333a" stroke-width="0.4"/>
<line x1="154.30" y1="336.80" x2="154.30" y2="338.60" stroke="#e8333a" stroke-width="0.4"/>
<line x1="156.50" y1="336.80" x2="156.50" y2="338.60" stroke="#e8333a" stroke-width="0.4"/>
<line x1="158.70" y1="336.80" x2="158.70" y2="338.60" stroke="#e8333a" stroke-width="0.4"/>
<line x1="160.90" y1="336.80" x2="160.90" y2="338.60" stroke="#e8333a" stroke-width="0.4"/>
<line x1="163.10" y1="336.80" x2="163.10" y2="338.60" stroke="#e8333a" stroke-width="0.4"/>
<line x1="165.30" y1="336.80" x2="165.30" y2="338.60" stroke="#e8333a" stroke-width="0.4"/>
<line x1="167.50" y1="336.80" x2="167.50" y2="338.60" stroke="#e8333a" stroke-width="0.4"/>
<line x1="169.70" y1="336.80" x2="169.70" y2="338.60" stroke="#e8333a" stroke-width="0.4"/>
<line x1="171.90" y1="336.80" x2="171.90" y2="338.60" stroke="#e8333a" stroke-width="0.4"/>
<line x1="174.10" y1="336.80" x2="174.10" y2="338.60" stroke="#e8333a" stroke-width="0.4"/>
<line x1="176.30" y1="336.80" x2="176.30" y2="338.60" stroke="#e8333a" stroke-width="0.4"/>
<line x1="178.50" y1="336.80" x2="178.50" y2="338.60" stroke="#e8333a" stroke-width="0.4"/>
<line x1="180.70" y1="336.80" x2="180.70" y2="338.60" stroke="#e8333a" stroke-width="0.4"/>
<line x1="182.90" y1="336.80" x2="182.90" y2="338.60" stroke="#e8333a" stroke-width="0.4"/>
<line x1="164.10" y1="323.00" x2="164.10" y2="324.80" stroke="#2f5fa6" stroke-width="0.4"/>
<line x1="166.30" y1="323.00" x2="166.30" y2="324.80" stroke="#2f5fa6" stroke-width="0.4"/>
<line x1="168.50" y1="323.00" x2="168.50" y2="324.80" stroke="#2f5fa6" stroke-width="0.4"/>
<line x1="170.70" y1="323.00" x2="170.70" y2="324.80" stroke="#2f5fa6" stroke-width="0.4"/>
<line x1="172.90" y1="323.00" x2="172.90" y2="324.80" stroke="#2f5fa6" stroke-width="0.4"/>
<line x1="175.10" y1="323.00" x2="175.10" y2="324.80" stroke="#2f5fa6" stroke-width="0.4"/>
<line x1="177.30" y1="323.00" x2="177.30" y2="324.80" stroke="#2f5fa6" stroke-width="0.4"/>
<line x1="179.50" y1="323.00" x2="179.50" y2="324.80" stroke="#2f5fa6" stroke-width="0.4"/>
<line x1="181.70" y1="323.00" x2="181.70" y2="324.80" stroke="#2f5fa6" stroke-width="0.4"/>
<text x="89.50" y="302.40" font-size="3.0" text-anchor="start" fill="#222" font-weight="normal" stroke="#222" stroke-width="0.09" >Group</text>
<rect x="98.8" y="299.7" width="3.8" height="3.2" fill="#a9c0e2" stroke="#bbb" stroke-width="0.2"/>
<line x1="99.2" y1="301.3" x2="102.2" y2="301.3" stroke="#2f5fa6" stroke-width="0.6"/>
<text x="104.40" y="302.40" font-size="3.0" text-anchor="start" fill="#222" font-weight="normal" stroke="#222" stroke-width="0.09" >Low-Mono</text>
<rect x="120.2" y="299.7" width="3.8" height="3.2" fill="#f6a3a6" stroke="#bbb" stroke-width="0.2"/>
<line x1="120.60000000000001" y1="301.3" x2="123.60000000000001" y2="301.3" stroke="#e8333a" stroke-width="0.6"/>
<text x="126.00" y="302.40" font-size="3.0" text-anchor="start" fill="#222" font-weight="normal" stroke="#222" stroke-width="0.09" >High-Mono</text>
<text x="38.00" y="373.90" font-size="4.1" text-anchor="start" fill="#111" font-weight="normal" stroke="#111" stroke-width="0.09" >p &lt; 0.0001</text>
<text x="-0.10" y="313.30" font-size="24.8" text-anchor="start" fill="#000" font-weight="normal" >E</text>
<text x="37.4" y="409.0" font-size="5.0" fill="#111" stroke="#111" stroke-width="0.09" textLength="29.8" lengthAdjust="spacingAndGlyphs">Number at risk</text>
<line x1="36.6" y1="412.1" x2="36.6" y2="426.3" stroke="#333" stroke-width="0.45"/>
<line x1="36.6" y1="426.3" x2="185.9" y2="426.3" stroke="#333" stroke-width="0.45"/>
<text x="35.40" y="417.50" font-size="3.8" text-anchor="end" fill="#3b6db8" font-weight="normal" stroke="#3b6db8" stroke-width="0.09" >Low-Mono</text>
<text x="35.40" y="424.40" font-size="3.8" text-anchor="end" fill="#e8333a" font-weight="normal" stroke="#e8333a" stroke-width="0.09" >High-Mono</text>
<text x="0" y="0" font-size="4.3" fill="#111" stroke="#111" stroke-width="0.09" text-anchor="middle" transform="translate(17.0,419.55) rotate(-90)">Group</text>
<text x="43.70" y="417.50" font-size="3.9" text-anchor="middle" fill="#111" font-weight="normal" stroke="#111" stroke-width="0.09" >284</text>
<text x="43.70" y="424.40" font-size="3.9" text-anchor="middle" fill="#111" font-weight="normal" stroke="#111" stroke-width="0.09" >171</text>
<line x1="43.70" y1="426.3" x2="43.70" y2="427.40000000000003" stroke="#333" stroke-width="0.4"/>
<text x="43.70" y="431.30" font-size="3.9" text-anchor="middle" fill="#222" font-weight="normal" stroke="#222" stroke-width="0.09" >0</text>
<text x="66.38" y="417.50" font-size="3.9" text-anchor="middle" fill="#111" font-weight="normal" stroke="#111" stroke-width="0.09" >259</text>
<text x="66.38" y="424.40" font-size="3.9" text-anchor="middle" fill="#111" font-weight="normal" stroke="#111" stroke-width="0.09" >160</text>
<line x1="66.38" y1="426.3" x2="66.38" y2="427.40000000000003" stroke="#333" stroke-width="0.4"/>
<text x="66.38" y="431.30" font-size="3.9" text-anchor="middle" fill="#222" font-weight="normal" stroke="#222" stroke-width="0.09" >15</text>
<text x="89.06" y="417.50" font-size="3.9" text-anchor="middle" fill="#111" font-weight="normal" stroke="#111" stroke-width="0.09" >234</text>
<text x="89.06" y="424.40" font-size="3.9" text-anchor="middle" fill="#111" font-weight="normal" stroke="#111" stroke-width="0.09" >144</text>
<line x1="89.06" y1="426.3" x2="89.06" y2="427.40000000000003" stroke="#333" stroke-width="0.4"/>
<text x="89.06" y="431.30" font-size="3.9" text-anchor="middle" fill="#222" font-weight="normal" stroke="#222" stroke-width="0.09" >30</text>
<text x="111.74" y="417.50" font-size="3.9" text-anchor="middle" fill="#111" font-weight="normal" stroke="#111" stroke-width="0.09" >245</text>
<text x="111.74" y="424.40" font-size="3.9" text-anchor="middle" fill="#111" font-weight="normal" stroke="#111" stroke-width="0.09" >131</text>
<line x1="111.74" y1="426.3" x2="111.74" y2="427.40000000000003" stroke="#333" stroke-width="0.4"/>
<text x="111.74" y="431.30" font-size="3.9" text-anchor="middle" fill="#222" font-weight="normal" stroke="#222" stroke-width="0.09" >45</text>
<text x="134.42" y="417.50" font-size="3.9" text-anchor="middle" fill="#111" font-weight="normal" stroke="#111" stroke-width="0.09" >220</text>
<text x="134.42" y="424.40" font-size="3.9" text-anchor="middle" fill="#111" font-weight="normal" stroke="#111" stroke-width="0.09" >122</text>
<line x1="134.42" y1="426.3" x2="134.42" y2="427.40000000000003" stroke="#333" stroke-width="0.4"/>
<text x="134.42" y="431.30" font-size="3.9" text-anchor="middle" fill="#222" font-weight="normal" stroke="#222" stroke-width="0.09" >60</text>
<text x="157.10" y="417.50" font-size="3.9" text-anchor="middle" fill="#111" font-weight="normal" stroke="#111" stroke-width="0.09" >200</text>
<text x="157.10" y="424.40" font-size="3.9" text-anchor="middle" fill="#111" font-weight="normal" stroke="#111" stroke-width="0.09" >101</text>
<line x1="157.10" y1="426.3" x2="157.10" y2="427.40000000000003" stroke="#333" stroke-width="0.4"/>
<text x="157.10" y="431.30" font-size="3.9" text-anchor="middle" fill="#222" font-weight="normal" stroke="#222" stroke-width="0.09" >75</text>
<text x="179.78" y="417.50" font-size="3.9" text-anchor="middle" fill="#111" font-weight="normal" stroke="#111" stroke-width="0.09" >42</text>
<text x="179.78" y="424.40" font-size="3.9" text-anchor="middle" fill="#111" font-weight="normal" stroke="#111" stroke-width="0.09" >13</text>
<line x1="179.78" y1="426.3" x2="179.78" y2="427.40000000000003" stroke="#333" stroke-width="0.4"/>
<text x="179.78" y="431.30" font-size="3.9" text-anchor="middle" fill="#222" font-weight="normal" stroke="#222" stroke-width="0.09" >90</text>
<text x="119.34" y="435.90" font-size="4.1" text-anchor="middle" fill="#111" font-weight="normal" stroke="#111" stroke-width="0.09" >Time in months</text>
<rect x="201.9" y="160.50" width="229.20000000000002" height="5.31" fill="#eef1f0"/>
<rect x="201.9" y="171.12" width="229.20000000000002" height="5.31" fill="#eef1f0"/>
<rect x="201.9" y="181.74" width="229.20000000000002" height="5.31" fill="#eef1f0"/>
<rect x="201.9" y="192.36" width="229.20000000000002" height="5.31" fill="#eef1f0"/>
<rect x="201.9" y="202.98" width="229.20000000000002" height="5.31" fill="#eef1f0"/>
<rect x="201.9" y="213.60" width="229.20000000000002" height="5.31" fill="#eef1f0"/>
<rect x="201.9" y="224.22" width="229.20000000000002" height="5.31" fill="#eef1f0"/>
<rect x="201.9" y="234.84" width="229.20000000000002" height="5.31" fill="#eef1f0"/>
<rect x="201.9" y="245.46" width="229.20000000000002" height="5.31" fill="#eef1f0"/>
<rect x="201.9" y="256.08" width="229.20000000000002" height="5.31" fill="#eef1f0"/>
<rect x="201.9" y="266.70" width="229.20000000000002" height="5.31" fill="#eef1f0"/>
<rect x="201.9" y="277.32" width="229.20000000000002" height="5.31" fill="#eef1f0"/>
<rect x="201.9" y="287.94" width="229.20000000000002" height="5.31" fill="#eef1f0"/>
<rect x="201.9" y="298.56" width="229.20000000000002" height="5.31" fill="#eef1f0"/>
<rect x="201.9" y="309.18" width="229.20000000000002" height="5.31" fill="#eef1f0"/>
<rect x="201.9" y="319.80" width="229.20000000000002" height="5.31" fill="#eef1f0"/>
<rect x="201.9" y="330.42" width="229.20000000000002" height="5.31" fill="#eef1f0"/>
<rect x="201.9" y="341.04" width="229.20000000000002" height="5.31" fill="#eef1f0"/>
<rect x="201.9" y="351.66" width="229.20000000000002" height="5.31" fill="#eef1f0"/>
<rect x="201.9" y="362.28" width="229.20000000000002" height="5.31" fill="#eef1f0"/>
<rect x="201.9" y="372.90" width="229.20000000000002" height="5.31" fill="#eef1f0"/>
<rect x="201.9" y="383.52" width="229.20000000000002" height="5.31" fill="#eef1f0"/>
<rect x="201.9" y="394.14" width="229.20000000000002" height="5.31" fill="#eef1f0"/>
<rect x="201.9" y="404.76" width="229.20000000000002" height="5.31" fill="#eef1f0"/>
<rect x="201.9" y="415.38" width="229.20000000000002" height="5.31" fill="#eef1f0"/>
<text transform="translate(205.00,159.00) scale(0.86,1)" font-size="4.1" fill="#111" stroke="#111" stroke-width="0.0" font-weight="bold" text-anchor="start">Subgroup</text>
<text transform="translate(260.90,159.00) scale(0.86,1)" font-size="4.1" fill="#111" stroke="#111" stroke-width="0.0" font-weight="bold" text-anchor="start">&lt;3.887*</text>
<text transform="translate(286.30,159.00) scale(0.86,1)" font-size="4.1" fill="#111" stroke="#111" stroke-width="0.0" font-weight="bold" text-anchor="start">≥3.887*</text>
<text transform="translate(351.10,159.00) scale(0.86,1)" font-size="4.1" fill="#111" stroke="#111" stroke-width="0.0" font-weight="bold" text-anchor="start">HR (95% CI)</text>
<text transform="translate(385.00,159.00) scale(0.86,1)" font-size="4.1" fill="#111" stroke="#111" stroke-width="0.0" font-weight="bold" text-anchor="start">P-value</text>
<text transform="translate(401.90,159.00) scale(0.86,1)" font-size="4.1" fill="#111" stroke="#111" stroke-width="0.0" font-weight="bold" text-anchor="start">P for interaction</text>
<line x1="325.4" y1="163.5" x2="325.4" y2="437.5" stroke="#666" stroke-width="0.4" stroke-dasharray="0.9,0.9"/>
<text transform="translate(205.00,164.85) scale(0.86,1)" font-size="4.1" fill="#303030" stroke="#303030" stroke-width="0.0" font-weight="normal" text-anchor="start">Overall</text>
<text transform="translate(260.90,164.85) scale(0.86,1)" font-size="4.1" fill="#303030" stroke="#303030" stroke-width="0.0" font-weight="normal" text-anchor="start">34/312 (10.9)</text>
<text transform="translate(286.30,164.85) scale(0.86,1)" font-size="4.1" fill="#303030" stroke="#303030" stroke-width="0.0" font-weight="normal" text-anchor="start">61/123 (49.6)</text>
<text transform="translate(351.10,164.85) scale(0.86,1)" font-size="4.1" fill="#303030" stroke="#303030" stroke-width="0.0" font-weight="normal" text-anchor="start">5.02 (3.32, 8.88)</text>
<text transform="translate(385.00,164.85) scale(0.86,1)" font-size="4.1" fill="#303030" stroke="#303030" stroke-width="0.0" font-weight="normal" text-anchor="start">&lt;0.001</text>
<line x1="333.44" y1="163.16" x2="340.03" y2="163.16" stroke="#333" stroke-width="0.45"/>
<rect x="335.46" y="162.41" width="1.5" height="1.5" fill="#111"/>
<text transform="translate(205.00,170.16) scale(0.86,1)" font-size="4.1" fill="#303030" stroke="#303030" stroke-width="0.0" font-weight="normal" text-anchor="start">gender ( n% )</text>
<text transform="translate(401.90,170.16) scale(0.86,1)" font-size="4.1" fill="#303030" stroke="#303030" stroke-width="0.0" font-weight="normal" text-anchor="start">0.466</text>
<text transform="translate(210.30,175.47) scale(0.86,1)" font-size="4.1" fill="#303030" stroke="#303030" stroke-width="0.0" font-weight="normal" text-anchor="start">female</text>
<text transform="translate(260.90,175.47) scale(0.86,1)" font-size="4.1" fill="#303030" stroke="#303030" stroke-width="0.0" font-weight="normal" text-anchor="start">12/119 (10.1)</text>
<text transform="translate(286.30,175.47) scale(0.86,1)" font-size="4.1" fill="#303030" stroke="#303030" stroke-width="0.0" font-weight="normal" text-anchor="start">34/63 (54.0)</text>
<text transform="translate(351.10,175.47) scale(0.86,1)" font-size="4.1" fill="#303030" stroke="#303030" stroke-width="0.0" font-weight="normal" text-anchor="start">6.04 (3.58, 10.44)</text>
<text transform="translate(385.00,175.47) scale(0.86,1)" font-size="4.1" fill="#303030" stroke="#303030" stroke-width="0.0" font-weight="normal" text-anchor="start">&lt;0.001</text>
<line x1="333.94" y1="173.78" x2="341.12" y2="173.78" stroke="#333" stroke-width="0.45"/>
<rect x="336.70" y="173.03" width="1.5" height="1.5" fill="#111"/>
<text transform="translate(210.30,180.78) scale(0.86,1)" font-size="4.1" fill="#303030" stroke="#303030" stroke-width="0.0" font-weight="normal" text-anchor="start">male</text>
<text transform="translate(260.90,180.78) scale(0.86,1)" font-size="4.1" fill="#303030" stroke="#303030" stroke-width="0.0" font-weight="normal" text-anchor="start">22/193 (11.4)</text>
<text transform="translate(286.30,180.78) scale(0.86,1)" font-size="4.1" fill="#303030" stroke="#303030" stroke-width="0.0" font-weight="normal" text-anchor="start">27/60 (45.0)</text>
<text transform="translate(351.10,180.78) scale(0.86,1)" font-size="4.1" fill="#303030" stroke="#303030" stroke-width="0.0" font-weight="normal" text-anchor="start">4.92 (2.85, 8.85)</text>
<text transform="translate(385.00,180.78) scale(0.86,1)" font-size="4.1" fill="#303030" stroke="#303030" stroke-width="0.0" font-weight="normal" text-anchor="start">&lt;0.001</text>
<line x1="332.42" y1="179.09" x2="340.01" y2="179.09" stroke="#333" stroke-width="0.45"/>
<rect x="335.33" y="178.34" width="1.5" height="1.5" fill="#111"/>
<text transform="translate(205.00,186.09) scale(0.86,1)" font-size="4.1" fill="#303030" stroke="#303030" stroke-width="0.0" font-weight="normal" text-anchor="start">age ( n% )</text>
<text transform="translate(401.90,186.09) scale(0.86,1)" font-size="4.1" fill="#303030" stroke="#303030" stroke-width="0.0" font-weight="normal" text-anchor="start">0.218</text>
<text transform="translate(210.30,191.41) scale(0.86,1)" font-size="4.1" fill="#303030" stroke="#303030" stroke-width="0.0" font-weight="normal" text-anchor="start">&lt; 40years</text>
<text transform="translate(260.90,191.41) scale(0.86,1)" font-size="4.1" fill="#303030" stroke="#303030" stroke-width="0.0" font-weight="normal" text-anchor="start">2/27 (7.4)</text>
<text transform="translate(286.30,191.41) scale(0.86,1)" font-size="4.1" fill="#303030" stroke="#303030" stroke-width="0.0" font-weight="normal" text-anchor="start">7/18 (38.9)</text>
<text transform="translate(351.10,191.41) scale(0.86,1)" font-size="4.1" fill="#303030" stroke="#303030" stroke-width="0.0" font-weight="normal" text-anchor="start">5.96 (1.24, 28.74)</text>
<text transform="translate(385.00,191.41) scale(0.86,1)" font-size="4.1" fill="#303030" stroke="#303030" stroke-width="0.0" font-weight="normal" text-anchor="start">0.026</text>
<line x1="326.84" y1="189.71" x2="347.90" y2="189.71" stroke="#333" stroke-width="0.45"/>
<rect x="336.61" y="188.96" width="1.5" height="1.5" fill="#111"/>
<text transform="translate(210.30,196.72) scale(0.86,1)" font-size="4.1" fill="#303030" stroke="#303030" stroke-width="0.0" font-weight="normal" text-anchor="start">&gt; 60years</text>
<text transform="translate(260.90,196.72) scale(0.86,1)" font-size="4.1" fill="#303030" stroke="#303030" stroke-width="0.0" font-weight="normal" text-anchor="start">24/183 (13.1)</text>
<text transform="translate(286.30,196.72) scale(0.86,1)" font-size="4.1" fill="#303030" stroke="#303030" stroke-width="0.0" font-weight="normal" text-anchor="start">31/65 (47.7)</text>
<text transform="translate(351.10,196.72) scale(0.86,1)" font-size="4.1" fill="#303030" stroke="#303030" stroke-width="0.0" font-weight="normal" text-anchor="start">4.56 (2.67, 7.79)</text>
<text transform="translate(385.00,196.72) scale(0.86,1)" font-size="4.1" fill="#303030" stroke="#303030" stroke-width="0.0" font-weight="normal" text-anchor="start">&lt;0.001</text>
<line x1="331.98" y1="195.02" x2="339.15" y2="195.02" stroke="#333" stroke-width="0.45"/>
<rect x="334.82" y="194.27" width="1.5" height="1.5" fill="#111"/>
<text transform="translate(210.30,202.02) scale(0.86,1)" font-size="4.1" fill="#303030" stroke="#303030" stroke-width="0.0" font-weight="normal" text-anchor="start">40-60years</text>
<text transform="translate(260.90,202.02) scale(0.86,1)" font-size="4.1" fill="#303030" stroke="#303030" stroke-width="0.0" font-weight="normal" text-anchor="start">8/102 (7.8)</text>
<text transform="translate(286.30,202.02) scale(0.86,1)" font-size="4.1" fill="#303030" stroke="#303030" stroke-width="0.0" font-weight="normal" text-anchor="start">23/40 (57.5)</text>
<text transform="translate(351.10,202.02) scale(0.86,1)" font-size="4.1" fill="#303030" stroke="#303030" stroke-width="0.0" font-weight="normal" text-anchor="start">9.07 (4.27, 21.48)</text>
<text transform="translate(385.00,202.02) scale(0.86,1)" font-size="4.1" fill="#303030" stroke="#303030" stroke-width="0.0" font-weight="normal" text-anchor="start">&lt;0.001</text>
<line x1="335.13" y1="200.32" x2="345.95" y2="200.32" stroke="#333" stroke-width="0.45"/>
<rect x="339.42" y="199.57" width="1.5" height="1.5" fill="#111"/>
<text transform="translate(205.00,207.33) scale(0.86,1)" font-size="4.1" fill="#303030" stroke="#303030" stroke-width="0.0" font-weight="normal" text-anchor="start">BMI ( n% )</text>
<text transform="translate(401.90,207.33) scale(0.86,1)" font-size="4.1" fill="#303030" stroke="#303030" stroke-width="0.0" font-weight="normal" text-anchor="start">0.261</text>
<text transform="translate(210.30,212.64) scale(0.86,1)" font-size="4.1" fill="#303030" stroke="#303030" stroke-width="0.0" font-weight="normal" text-anchor="start">&lt; 18.5</text>
<text transform="translate(260.90,212.64) scale(0.86,1)" font-size="4.1" fill="#303030" stroke="#303030" stroke-width="0.0" font-weight="normal" text-anchor="start">1/6 (16.7)</text>
<text transform="translate(286.30,212.64) scale(0.86,1)" font-size="4.1" fill="#303030" stroke="#303030" stroke-width="0.0" font-weight="normal" text-anchor="start">2/6 (33.3)</text>
<text transform="translate(351.10,212.64) scale(0.86,1)" font-size="4.1" fill="#303030" stroke="#303030" stroke-width="0.0" font-weight="normal" text-anchor="start">2.13 (0.19, 23.51)</text>
<text transform="translate(385.00,212.64) scale(0.86,1)" font-size="4.1" fill="#303030" stroke="#303030" stroke-width="0.0" font-weight="normal" text-anchor="start">0.536</text>
<line x1="314.27" y1="210.94" x2="346.55" y2="210.94" stroke="#b5b5b5" stroke-width="0.45"/>
<rect x="329.72" y="210.19" width="1.5" height="1.5" fill="#111"/>
<text transform="translate(210.30,217.95) scale(0.86,1)" font-size="4.1" fill="#303030" stroke="#303030" stroke-width="0.0" font-weight="normal" text-anchor="start">≥28</text>
<text transform="translate(260.90,217.95) scale(0.86,1)" font-size="4.1" fill="#303030" stroke="#303030" stroke-width="0.0" font-weight="normal" text-anchor="start">6/36 (16.7)</text>
<text transform="translate(286.30,217.95) scale(0.86,1)" font-size="4.1" fill="#303030" stroke="#303030" stroke-width="0.0" font-weight="normal" text-anchor="start">7/16 (43.8)</text>
<text transform="translate(351.10,217.95) scale(0.86,1)" font-size="4.1" fill="#303030" stroke="#303030" stroke-width="0.0" font-weight="normal" text-anchor="start">2.80 (0.94, 8.33)</text>
<text transform="translate(385.00,217.95) scale(0.86,1)" font-size="4.1" fill="#303030" stroke="#303030" stroke-width="0.0" font-weight="normal" text-anchor="start">0.064</text>
<line x1="324.99" y1="216.25" x2="339.60" y2="216.25" stroke="#333" stroke-width="0.45"/>
<rect x="331.55" y="215.50" width="1.5" height="1.5" fill="#111"/>
<text transform="translate(210.30,223.26) scale(0.86,1)" font-size="4.1" fill="#303030" stroke="#303030" stroke-width="0.0" font-weight="normal" text-anchor="start">18.5-24</text>
<text transform="translate(260.90,223.26) scale(0.86,1)" font-size="4.1" fill="#303030" stroke="#303030" stroke-width="0.0" font-weight="normal" text-anchor="start">11/128 (8.6)</text>
<text transform="translate(286.30,223.26) scale(0.86,1)" font-size="4.1" fill="#303030" stroke="#303030" stroke-width="0.0" font-weight="normal" text-anchor="start">34/62 (54.8)</text>
<text transform="translate(351.10,223.26) scale(0.86,1)" font-size="4.1" fill="#303030" stroke="#303030" stroke-width="0.0" font-weight="normal" text-anchor="start">8.77 (4.43, 17.36)</text>
<text transform="translate(385.00,223.26) scale(0.86,1)" font-size="4.1" fill="#303030" stroke="#303030" stroke-width="0.0" font-weight="normal" text-anchor="start">&lt;0.001</text>
<line x1="335.37" y1="221.56" x2="344.52" y2="221.56" stroke="#333" stroke-width="0.45"/>
<rect x="339.20" y="220.81" width="1.5" height="1.5" fill="#111"/>
<text transform="translate(210.30,228.57) scale(0.86,1)" font-size="4.1" fill="#303030" stroke="#303030" stroke-width="0.0" font-weight="normal" text-anchor="start">24-28</text>
<text transform="translate(260.90,228.57) scale(0.86,1)" font-size="4.1" fill="#303030" stroke="#303030" stroke-width="0.0" font-weight="normal" text-anchor="start">16/142 (11.3)</text>
<text transform="translate(286.30,228.57) scale(0.86,1)" font-size="4.1" fill="#303030" stroke="#303030" stroke-width="0.0" font-weight="normal" text-anchor="start">17/38 (44.7)</text>
<text transform="translate(351.10,228.57) scale(0.86,1)" font-size="4.1" fill="#303030" stroke="#303030" stroke-width="0.0" font-weight="normal" text-anchor="start">4.88 (2.46, 9.67)</text>
<text transform="translate(385.00,228.57) scale(0.86,1)" font-size="4.1" fill="#303030" stroke="#303030" stroke-width="0.0" font-weight="normal" text-anchor="start">&lt;0.001</text>
<line x1="331.43" y1="226.88" x2="340.60" y2="226.88" stroke="#b5b5b5" stroke-width="0.45"/>
<rect x="335.27" y="226.12" width="1.5" height="1.5" fill="#111"/>
<text transform="translate(205.00,233.88) scale(0.86,1)" font-size="4.1" fill="#303030" stroke="#303030" stroke-width="0.0" font-weight="normal" text-anchor="start">Smoking ( n% )</text>
<text transform="translate(401.90,233.88) scale(0.86,1)" font-size="4.1" fill="#303030" stroke="#303030" stroke-width="0.0" font-weight="normal" text-anchor="start">0.873</text>
<text transform="translate(210.30,239.19) scale(0.86,1)" font-size="4.1" fill="#303030" stroke="#303030" stroke-width="0.0" font-weight="normal" text-anchor="start">no</text>
<text transform="translate(260.90,239.19) scale(0.86,1)" font-size="4.1" fill="#303030" stroke="#303030" stroke-width="0.0" font-weight="normal" text-anchor="start">24/207 (11.6)</text>
<text transform="translate(286.30,239.19) scale(0.86,1)" font-size="4.1" fill="#303030" stroke="#303030" stroke-width="0.0" font-weight="normal" text-anchor="start">47/92 (51.1)</text>
<text transform="translate(351.10,239.19) scale(0.86,1)" font-size="4.1" fill="#303030" stroke="#303030" stroke-width="0.0" font-weight="normal" text-anchor="start">5.45 (3.34, 8.87)</text>
<text transform="translate(385.00,239.19) scale(0.86,1)" font-size="4.1" fill="#303030" stroke="#303030" stroke-width="0.0" font-weight="normal" text-anchor="start">&lt;0.001</text>
<line x1="333.48" y1="237.49" x2="340.02" y2="237.49" stroke="#333" stroke-width="0.45"/>
<rect x="336.01" y="236.74" width="1.5" height="1.5" fill="#111"/>
<text transform="translate(210.30,244.50) scale(0.86,1)" font-size="4.1" fill="#303030" stroke="#303030" stroke-width="0.0" font-weight="normal" text-anchor="start">yes</text>
<text transform="translate(260.90,244.50) scale(0.86,1)" font-size="4.1" fill="#303030" stroke="#303030" stroke-width="0.0" font-weight="normal" text-anchor="start">10/105 (9.5)</text>
<text transform="translate(286.30,244.50) scale(0.86,1)" font-size="4.1" fill="#303030" stroke="#303030" stroke-width="0.0" font-weight="normal" text-anchor="start">14/31 (45.2)</text>
<text transform="translate(351.10,244.50) scale(0.86,1)" font-size="4.1" fill="#303030" stroke="#303030" stroke-width="0.0" font-weight="normal" text-anchor="start">6.27 (2.78, 14.15)</text>
<text transform="translate(385.00,244.50) scale(0.86,1)" font-size="4.1" fill="#303030" stroke="#303030" stroke-width="0.0" font-weight="normal" text-anchor="start">&lt;0.001</text>
<line x1="332.25" y1="242.80" x2="343.15" y2="242.80" stroke="#333" stroke-width="0.45"/>
<rect x="336.95" y="242.05" width="1.5" height="1.5" fill="#111"/>
<text transform="translate(205.00,249.81) scale(0.86,1)" font-size="4.1" fill="#303030" stroke="#303030" stroke-width="0.0" font-weight="normal" text-anchor="start">Drink ( n% )</text>
<text transform="translate(401.90,249.81) scale(0.86,1)" font-size="4.1" fill="#303030" stroke="#303030" stroke-width="0.0" font-weight="normal" text-anchor="start">0.750</text>
<text transform="translate(210.30,255.12) scale(0.86,1)" font-size="4.1" fill="#303030" stroke="#303030" stroke-width="0.0" font-weight="normal" text-anchor="start">no</text>
<text transform="translate(260.90,255.12) scale(0.86,1)" font-size="4.1" fill="#303030" stroke="#303030" stroke-width="0.0" font-weight="normal" text-anchor="start">26/248 (10.5)</text>
<text transform="translate(286.30,255.12) scale(0.86,1)" font-size="4.1" fill="#303030" stroke="#303030" stroke-width="0.0" font-weight="normal" text-anchor="start">53/107 (49.5)</text>
<text transform="translate(351.10,255.12) scale(0.86,1)" font-size="4.1" fill="#303030" stroke="#303030" stroke-width="0.0" font-weight="normal" text-anchor="start">5.91 (3.68, 9.48)</text>
<text transform="translate(385.00,255.12) scale(0.86,1)" font-size="4.1" fill="#303030" stroke="#303030" stroke-width="0.0" font-weight="normal" text-anchor="start">&lt;0.001</text>
<line x1="334.13" y1="253.42" x2="340.47" y2="253.42" stroke="#333" stroke-width="0.45"/>
<rect x="336.55" y="252.67" width="1.5" height="1.5" fill="#111"/>
<text transform="translate(210.30,260.43) scale(0.86,1)" font-size="4.1" fill="#303030" stroke="#303030" stroke-width="0.0" font-weight="normal" text-anchor="start">yes</text>
<text transform="translate(260.90,260.43) scale(0.86,1)" font-size="4.1" fill="#303030" stroke="#303030" stroke-width="0.0" font-weight="normal" text-anchor="start">8/64 (12.5)</text>
<text transform="translate(286.30,260.43) scale(0.86,1)" font-size="4.1" fill="#303030" stroke="#303030" stroke-width="0.0" font-weight="normal" text-anchor="start">8/15 (53.3)</text>
<text transform="translate(351.10,260.43) scale(0.86,1)" font-size="4.1" fill="#303030" stroke="#303030" stroke-width="0.0" font-weight="normal" text-anchor="start">5.56 (2.91, 14.34)</text>
<text transform="translate(385.00,260.43) scale(0.86,1)" font-size="4.1" fill="#303030" stroke="#303030" stroke-width="0.0" font-weight="normal" text-anchor="start">0.001</text>
<line x1="332.56" y1="258.73" x2="343.24" y2="258.73" stroke="#333" stroke-width="0.45"/>
<rect x="336.14" y="257.98" width="1.5" height="1.5" fill="#111"/>
<text transform="translate(205.00,265.74) scale(0.86,1)" font-size="4.1" fill="#303030" stroke="#303030" stroke-width="0.0" font-weight="normal" text-anchor="start">T stage ( n% )</text>
<text transform="translate(401.90,265.74) scale(0.86,1)" font-size="4.1" fill="#303030" stroke="#303030" stroke-width="0.0" font-weight="normal" text-anchor="start">0.893</text>
<text transform="translate(207.70,271.05) scale(0.86,1)" font-size="4.1" fill="#303030" stroke="#303030" stroke-width="0.0" font-weight="normal" text-anchor="start">T1</text>
<text transform="translate(260.90,271.05) scale(0.86,1)" font-size="4.1" fill="#303030" stroke="#303030" stroke-width="0.0" font-weight="normal" text-anchor="start">1/24 (4.2)</text>
<text transform="translate(286.30,271.05) scale(0.86,1)" font-size="4.1" fill="#303030" stroke="#303030" stroke-width="0.0" font-weight="normal" text-anchor="start">0/2 (0.0)</text>
<text transform="translate(210.30,276.36) scale(0.86,1)" font-size="4.1" fill="#303030" stroke="#303030" stroke-width="0.0" font-weight="normal" text-anchor="start">T2</text>
<text transform="translate(260.90,276.36) scale(0.86,1)" font-size="4.1" fill="#303030" stroke="#303030" stroke-width="0.0" font-weight="normal" text-anchor="start">3/60 (5.0)</text>
<text transform="translate(286.30,276.36) scale(0.86,1)" font-size="4.1" fill="#303030" stroke="#303030" stroke-width="0.0" font-weight="normal" text-anchor="start">2/12 (16.7)</text>
<text transform="translate(351.10,276.36) scale(0.86,1)" font-size="4.1" fill="#303030" stroke="#303030" stroke-width="0.0" font-weight="normal" text-anchor="start">3.74 (0.63, 22.43)</text>
<text transform="translate(385.00,276.36) scale(0.86,1)" font-size="4.1" fill="#303030" stroke="#303030" stroke-width="0.0" font-weight="normal" text-anchor="start">0.148</text>
<line x1="322.30" y1="274.66" x2="346.24" y2="274.66" stroke="#333" stroke-width="0.45"/>
<rect x="333.49" y="273.91" width="1.5" height="1.5" fill="#111"/>
<text transform="translate(210.30,281.67) scale(0.86,1)" font-size="4.1" fill="#303030" stroke="#303030" stroke-width="0.0" font-weight="normal" text-anchor="start">T3</text>
<text transform="translate(260.90,281.67) scale(0.86,1)" font-size="4.1" fill="#303030" stroke="#303030" stroke-width="0.0" font-weight="normal" text-anchor="start">26/212 (12.3)</text>
<text transform="translate(286.30,281.67) scale(0.86,1)" font-size="4.1" fill="#303030" stroke="#303030" stroke-width="0.0" font-weight="normal" text-anchor="start">47/91 (51.6)</text>
<text transform="translate(351.10,281.67) scale(0.86,1)" font-size="4.1" fill="#303030" stroke="#303030" stroke-width="0.0" font-weight="normal" text-anchor="start">5.25 (3.25, 8.51)</text>
<text transform="translate(385.00,281.67) scale(0.86,1)" font-size="4.1" fill="#303030" stroke="#303030" stroke-width="0.0" font-weight="normal" text-anchor="start">&lt;0.001</text>
<line x1="333.30" y1="279.97" x2="339.75" y2="279.97" stroke="#333" stroke-width="0.45"/>
<rect x="335.76" y="279.22" width="1.5" height="1.5" fill="#111"/>
<text transform="translate(210.30,286.98) scale(0.86,1)" font-size="4.1" fill="#303030" stroke="#303030" stroke-width="0.0" font-weight="normal" text-anchor="start">T4</text>
<text transform="translate(260.90,286.98) scale(0.86,1)" font-size="4.1" fill="#303030" stroke="#303030" stroke-width="0.0" font-weight="normal" text-anchor="start">4/16 (25.0)</text>
<text transform="translate(286.30,286.98) scale(0.86,1)" font-size="4.1" fill="#303030" stroke="#303030" stroke-width="0.0" font-weight="normal" text-anchor="start">12/18 (66.7)</text>
<text transform="translate(351.10,286.98) scale(0.86,1)" font-size="4.1" fill="#303030" stroke="#303030" stroke-width="0.0" font-weight="normal" text-anchor="start">3.80 (1.22, 11.86)</text>
<text transform="translate(385.00,286.98) scale(0.86,1)" font-size="4.1" fill="#303030" stroke="#303030" stroke-width="0.0" font-weight="normal" text-anchor="start">0.021</text>
<line x1="326.73" y1="285.28" x2="341.97" y2="285.28" stroke="#333" stroke-width="0.45"/>
<rect x="333.59" y="284.53" width="1.5" height="1.5" fill="#111"/>
<text transform="translate(205.00,292.29) scale(0.86,1)" font-size="4.1" fill="#303030" stroke="#303030" stroke-width="0.0" font-weight="normal" text-anchor="start">N stage ( n% )</text>
<text transform="translate(401.90,292.29) scale(0.86,1)" font-size="4.1" fill="#303030" stroke="#303030" stroke-width="0.0" font-weight="normal" text-anchor="start">0.202</text>
<text transform="translate(210.30,297.60) scale(0.86,1)" font-size="4.1" fill="#303030" stroke="#303030" stroke-width="0.0" font-weight="normal" text-anchor="start">N0</text>
<text transform="translate(260.90,297.60) scale(0.86,1)" font-size="4.1" fill="#303030" stroke="#303030" stroke-width="0.0" font-weight="normal" text-anchor="start">12/209 (5.7)</text>
<text transform="translate(286.30,297.60) scale(0.86,1)" font-size="4.1" fill="#303030" stroke="#303030" stroke-width="0.0" font-weight="normal" text-anchor="start">26/69 (37.7)</text>
<text transform="translate(351.10,297.60) scale(0.86,1)" font-size="4.1" fill="#303030" stroke="#303030" stroke-width="0.0" font-weight="normal" text-anchor="start">8.14 (4.10, 16.14)</text>
<text transform="translate(385.00,297.60) scale(0.86,1)" font-size="4.1" fill="#303030" stroke="#303030" stroke-width="0.0" font-weight="normal" text-anchor="start">&lt;0.001</text>
<line x1="334.85" y1="295.90" x2="344.03" y2="295.90" stroke="#333" stroke-width="0.45"/>
<rect x="338.70" y="295.15" width="1.5" height="1.5" fill="#111"/>
<text transform="translate(210.30,302.91) scale(0.86,1)" font-size="4.1" fill="#303030" stroke="#303030" stroke-width="0.0" font-weight="normal" text-anchor="start">N1</text>
<text transform="translate(260.90,302.91) scale(0.86,1)" font-size="4.1" fill="#303030" stroke="#303030" stroke-width="0.0" font-weight="normal" text-anchor="start">7/60 (11.7)</text>
<text transform="translate(286.30,302.91) scale(0.86,1)" font-size="4.1" fill="#303030" stroke="#303030" stroke-width="0.0" font-weight="normal" text-anchor="start">18/32 (56.2)</text>
<text transform="translate(351.10,302.91) scale(0.86,1)" font-size="4.1" fill="#303030" stroke="#303030" stroke-width="0.0" font-weight="normal" text-anchor="start">6.49 (2.75, 15.60)</text>
<text transform="translate(385.00,302.91) scale(0.86,1)" font-size="4.1" fill="#303030" stroke="#303030" stroke-width="0.0" font-weight="normal" text-anchor="start">&lt;0.001</text>
<line x1="332.18" y1="301.21" x2="343.81" y2="301.21" stroke="#333" stroke-width="0.45"/>
<rect x="337.18" y="300.46" width="1.5" height="1.5" fill="#111"/>
<text transform="translate(210.30,308.22) scale(0.86,1)" font-size="4.1" fill="#303030" stroke="#303030" stroke-width="0.0" font-weight="normal" text-anchor="start">N2</text>
<text transform="translate(260.90,308.22) scale(0.86,1)" font-size="4.1" fill="#303030" stroke="#303030" stroke-width="0.0" font-weight="normal" text-anchor="start">14/42 (33.3)</text>
<text transform="translate(286.30,308.22) scale(0.86,1)" font-size="4.1" fill="#303030" stroke="#303030" stroke-width="0.0" font-weight="normal" text-anchor="start">14/19 (73.7)</text>
<text transform="translate(351.10,308.22) scale(0.86,1)" font-size="4.1" fill="#303030" stroke="#303030" stroke-width="0.0" font-weight="normal" text-anchor="start">2.85 (1.36, 6.01)</text>
<text transform="translate(385.00,308.22) scale(0.86,1)" font-size="4.1" fill="#303030" stroke="#303030" stroke-width="0.0" font-weight="normal" text-anchor="start">0.006</text>
<line x1="327.46" y1="306.52" x2="337.42" y2="306.52" stroke="#333" stroke-width="0.45"/>
<rect x="331.67" y="305.77" width="1.5" height="1.5" fill="#111"/>
<text transform="translate(207.70,313.53) scale(0.86,1)" font-size="4.1" fill="#303030" stroke="#303030" stroke-width="0.0" font-weight="normal" text-anchor="start">N3</text>
<text transform="translate(260.90,313.53) scale(0.86,1)" font-size="4.1" fill="#303030" stroke="#303030" stroke-width="0.0" font-weight="normal" text-anchor="start">1/1 (100.0)</text>
<text transform="translate(286.30,313.53) scale(0.86,1)" font-size="4.1" fill="#303030" stroke="#303030" stroke-width="0.0" font-weight="normal" text-anchor="start">3/3 (100.0)</text>
<text transform="translate(351.10,313.53) scale(0.86,1)" font-size="4.1" fill="#303030" stroke="#303030" stroke-width="0.0" font-weight="normal" text-anchor="start">1.14 (0.10, 13.27)</text>
<text transform="translate(385.00,313.53) scale(0.86,1)" font-size="4.1" fill="#303030" stroke="#303030" stroke-width="0.0" font-weight="normal" text-anchor="start">0.916</text>
<line x1="309.97" y1="311.83" x2="342.72" y2="311.83" stroke="#b5b5b5" stroke-width="0.45"/>
<rect x="325.53" y="311.08" width="1.5" height="1.5" fill="#111"/>
<text transform="translate(205.00,318.84) scale(0.86,1)" font-size="4.1" fill="#303030" stroke="#303030" stroke-width="0.0" font-weight="normal" text-anchor="start">Tumor stage ( n% )</text>
<text transform="translate(401.90,318.84) scale(0.86,1)" font-size="4.1" fill="#303030" stroke="#303030" stroke-width="0.0" font-weight="normal" text-anchor="start">0.216</text>
<text transform="translate(210.30,324.15) scale(0.86,1)" font-size="4.1" fill="#303030" stroke="#303030" stroke-width="0.0" font-weight="normal" text-anchor="start">I</text>
<text transform="translate(260.90,324.15) scale(0.86,1)" font-size="4.1" fill="#303030" stroke="#303030" stroke-width="0.0" font-weight="normal" text-anchor="start">4/71 (5.6)</text>
<text transform="translate(286.30,324.15) scale(0.86,1)" font-size="4.1" fill="#303030" stroke="#303030" stroke-width="0.0" font-weight="normal" text-anchor="start">2/16 (12.5)</text>
<text transform="translate(351.10,324.15) scale(0.86,1)" font-size="4.1" fill="#303030" stroke="#303030" stroke-width="0.0" font-weight="normal" text-anchor="start">2.42 (0.44, 13.18)</text>
<text transform="translate(385.00,324.15) scale(0.86,1)" font-size="4.1" fill="#303030" stroke="#303030" stroke-width="0.0" font-weight="normal" text-anchor="start">0.309</text>
<line x1="319.90" y1="322.45" x2="342.68" y2="322.45" stroke="#333" stroke-width="0.45"/>
<rect x="330.57" y="321.70" width="1.5" height="1.5" fill="#111"/>
<text transform="translate(210.30,329.46) scale(0.86,1)" font-size="4.1" fill="#303030" stroke="#303030" stroke-width="0.0" font-weight="normal" text-anchor="start">II</text>
<text transform="translate(260.90,329.46) scale(0.86,1)" font-size="4.1" fill="#303030" stroke="#303030" stroke-width="0.0" font-weight="normal" text-anchor="start">8/141 (5.7)</text>
<text transform="translate(286.30,329.46) scale(0.86,1)" font-size="4.1" fill="#303030" stroke="#303030" stroke-width="0.0" font-weight="normal" text-anchor="start">21/52 (40.4)</text>
<text transform="translate(351.10,329.46) scale(0.86,1)" font-size="4.1" fill="#303030" stroke="#303030" stroke-width="0.0" font-weight="normal" text-anchor="start">8.75 (3.87, 19.76)</text>
<text transform="translate(385.00,329.46) scale(0.86,1)" font-size="4.1" fill="#303030" stroke="#303030" stroke-width="0.0" font-weight="normal" text-anchor="start">&lt;0.001</text>
<line x1="334.47" y1="327.76" x2="345.39" y2="327.76" stroke="#333" stroke-width="0.45"/>
<rect x="339.18" y="327.01" width="1.5" height="1.5" fill="#111"/>
<text transform="translate(210.30,334.77) scale(0.86,1)" font-size="4.1" fill="#303030" stroke="#303030" stroke-width="0.0" font-weight="normal" text-anchor="start">III</text>
<text transform="translate(260.90,334.77) scale(0.86,1)" font-size="4.1" fill="#303030" stroke="#303030" stroke-width="0.0" font-weight="normal" text-anchor="start">22/99 (22.2)</text>
<text transform="translate(286.30,334.77) scale(0.86,1)" font-size="4.1" fill="#303030" stroke="#303030" stroke-width="0.0" font-weight="normal" text-anchor="start">33/50 (66.0)</text>
<text transform="translate(351.10,334.77) scale(0.86,1)" font-size="4.1" fill="#303030" stroke="#303030" stroke-width="0.0" font-weight="normal" text-anchor="start">3.90 (2.27, 6.71)</text>
<text transform="translate(385.00,334.77) scale(0.86,1)" font-size="4.1" fill="#303030" stroke="#303030" stroke-width="0.0" font-weight="normal" text-anchor="start">&lt;0.001</text>
<line x1="330.89" y1="333.07" x2="338.15" y2="333.07" stroke="#333" stroke-width="0.45"/>
<rect x="333.77" y="332.32" width="1.5" height="1.5" fill="#111"/>
<text transform="translate(207.70,340.08) scale(0.86,1)" font-size="4.1" fill="#303030" stroke="#303030" stroke-width="0.0" font-weight="normal" text-anchor="start">IV</text>
<text transform="translate(260.90,340.08) scale(0.86,1)" font-size="4.1" fill="#303030" stroke="#303030" stroke-width="0.0" font-weight="normal" text-anchor="start">0/1 (0.0)</text>
<text transform="translate(286.30,340.08) scale(0.86,1)" font-size="4.1" fill="#303030" stroke="#303030" stroke-width="0.0" font-weight="normal" text-anchor="start">5/5 (100.0)</text>
<text transform="translate(205.00,345.39) scale(0.86,1)" font-size="4.1" fill="#303030" stroke="#303030" stroke-width="0.0" font-weight="normal" text-anchor="start">Differentiated degree(n%)</text>
<text transform="translate(401.90,345.39) scale(0.86,1)" font-size="4.1" fill="#303030" stroke="#303030" stroke-width="0.0" font-weight="normal" text-anchor="start">0.27</text>
<text transform="translate(210.30,350.70) scale(0.86,1)" font-size="4.1" fill="#303030" stroke="#303030" stroke-width="0.0" font-weight="normal" text-anchor="start">Moderately</text>
<text transform="translate(260.90,350.70) scale(0.86,1)" font-size="4.1" fill="#303030" stroke="#303030" stroke-width="0.0" font-weight="normal" text-anchor="start">26/256 (10.2)</text>
<text transform="translate(286.30,350.70) scale(0.86,1)" font-size="4.1" fill="#303030" stroke="#303030" stroke-width="0.0" font-weight="normal" text-anchor="start">49/98 (50.0)</text>
<text transform="translate(351.10,350.70) scale(0.86,1)" font-size="4.1" fill="#303030" stroke="#303030" stroke-width="0.0" font-weight="normal" text-anchor="start">6.45 (4.08, 10.20)</text>
<text transform="translate(385.00,350.70) scale(0.86,1)" font-size="4.1" fill="#303030" stroke="#303030" stroke-width="0.0" font-weight="normal" text-anchor="start">&lt;0.001</text>
<line x1="334.82" y1="349.00" x2="340.96" y2="349.00" stroke="#333" stroke-width="0.45"/>
<rect x="337.14" y="348.25" width="1.5" height="1.5" fill="#111"/>
<text transform="translate(210.30,356.01) scale(0.86,1)" font-size="4.1" fill="#303030" stroke="#303030" stroke-width="0.0" font-weight="normal" text-anchor="start">Poorly</text>
<text transform="translate(260.90,356.01) scale(0.86,1)" font-size="4.1" fill="#303030" stroke="#303030" stroke-width="0.0" font-weight="normal" text-anchor="start">7/49 (14.3)</text>
<text transform="translate(286.30,356.01) scale(0.86,1)" font-size="4.1" fill="#303030" stroke="#303030" stroke-width="0.0" font-weight="normal" text-anchor="start">12/23 (52.2)</text>
<text transform="translate(351.10,356.01) scale(0.86,1)" font-size="4.1" fill="#303030" stroke="#303030" stroke-width="0.0" font-weight="normal" text-anchor="start">4.33 (1.70, 11.03)</text>
<text transform="translate(385.00,356.01) scale(0.86,1)" font-size="4.1" fill="#303030" stroke="#303030" stroke-width="0.0" font-weight="normal" text-anchor="start">0.002</text>
<line x1="328.96" y1="354.31" x2="341.48" y2="354.31" stroke="#333" stroke-width="0.45"/>
<rect x="334.47" y="353.56" width="1.5" height="1.5" fill="#111"/>
<text transform="translate(207.70,361.32) scale(0.86,1)" font-size="4.1" fill="#303030" stroke="#303030" stroke-width="0.0" font-weight="normal" text-anchor="start">Well</text>
<text transform="translate(260.90,361.32) scale(0.86,1)" font-size="4.1" fill="#303030" stroke="#303030" stroke-width="0.0" font-weight="normal" text-anchor="start">1/7 (14.3)</text>
<text transform="translate(286.30,361.32) scale(0.86,1)" font-size="4.1" fill="#303030" stroke="#303030" stroke-width="0.0" font-weight="normal" text-anchor="start">0/2 (0.0)</text>
<text transform="translate(205.00,366.63) scale(0.86,1)" font-size="4.1" fill="#303030" stroke="#303030" stroke-width="0.0" font-weight="normal" text-anchor="start">Nerve invasion ( n% )</text>
<text transform="translate(401.90,366.63) scale(0.86,1)" font-size="4.1" fill="#303030" stroke="#303030" stroke-width="0.0" font-weight="normal" text-anchor="start">0.693</text>
<text transform="translate(210.30,371.94) scale(0.86,1)" font-size="4.1" fill="#303030" stroke="#303030" stroke-width="0.0" font-weight="normal" text-anchor="start">Negative</text>
<text transform="translate(260.90,371.94) scale(0.86,1)" font-size="4.1" fill="#303030" stroke="#303030" stroke-width="0.0" font-weight="normal" text-anchor="start">30/263 (11.4)</text>
<text transform="translate(286.30,371.94) scale(0.86,1)" font-size="4.1" fill="#303030" stroke="#303030" stroke-width="0.0" font-weight="normal" text-anchor="start">46/102 (45.1)</text>
<text transform="translate(351.10,371.94) scale(0.86,1)" font-size="4.1" fill="#303030" stroke="#303030" stroke-width="0.0" font-weight="normal" text-anchor="start">4.89 (3.08, 7.76)</text>
<text transform="translate(385.00,371.94) scale(0.86,1)" font-size="4.1" fill="#303030" stroke="#303030" stroke-width="0.0" font-weight="normal" text-anchor="start">&lt;0.001</text>
<line x1="332.94" y1="370.24" x2="339.13" y2="370.24" stroke="#333" stroke-width="0.45"/>
<rect x="335.28" y="369.49" width="1.5" height="1.5" fill="#111"/>
<text transform="translate(210.30,377.25) scale(0.86,1)" font-size="4.1" fill="#303030" stroke="#303030" stroke-width="0.0" font-weight="normal" text-anchor="start">Positive</text>
<text transform="translate(260.90,377.25) scale(0.86,1)" font-size="4.1" fill="#303030" stroke="#303030" stroke-width="0.0" font-weight="normal" text-anchor="start">4/49 (8.2)</text>
<text transform="translate(286.30,377.25) scale(0.86,1)" font-size="4.1" fill="#303030" stroke="#303030" stroke-width="0.0" font-weight="normal" text-anchor="start">15/21 (71.4)</text>
<text transform="translate(351.10,377.25) scale(0.86,1)" font-size="4.1" fill="#303030" stroke="#303030" stroke-width="0.0" font-weight="normal" text-anchor="start">13.05 (4.30, 39.61)</text>
<text transform="translate(385.00,377.25) scale(0.86,1)" font-size="4.1" fill="#303030" stroke="#303030" stroke-width="0.0" font-weight="normal" text-anchor="start">&lt;0.001</text>
<line x1="335.17" y1="375.55" x2="350.05" y2="375.55" stroke="#333" stroke-width="0.45"/>
<rect x="341.86" y="374.80" width="1.5" height="1.5" fill="#111"/>
<text transform="translate(205.00,382.56) scale(0.86,1)" font-size="4.1" fill="#303030" stroke="#303030" stroke-width="0.0" font-weight="normal" text-anchor="start">Intravascular tumor emboli ( % )</text>
<text transform="translate(401.90,382.56) scale(0.86,1)" font-size="4.1" fill="#303030" stroke="#303030" stroke-width="0.0" font-weight="normal" text-anchor="start">0.251</text>
<text transform="translate(210.30,387.87) scale(0.86,1)" font-size="4.1" fill="#303030" stroke="#303030" stroke-width="0.0" font-weight="normal" text-anchor="start">Negative</text>
<text transform="translate(260.90,387.87) scale(0.86,1)" font-size="4.1" fill="#303030" stroke="#303030" stroke-width="0.0" font-weight="normal" text-anchor="start">24/255 (9.4)</text>
<text transform="translate(286.30,387.87) scale(0.86,1)" font-size="4.1" fill="#303030" stroke="#303030" stroke-width="0.0" font-weight="normal" text-anchor="start">50/102 (49.0)</text>
<text transform="translate(351.10,387.87) scale(0.86,1)" font-size="4.1" fill="#303030" stroke="#303030" stroke-width="0.0" font-weight="normal" text-anchor="start">6.77 (4.15, 11.03)</text>
<text transform="translate(385.00,387.87) scale(0.86,1)" font-size="4.1" fill="#303030" stroke="#303030" stroke-width="0.0" font-weight="normal" text-anchor="start">&lt;0.001</text>
<line x1="334.93" y1="386.17" x2="341.48" y2="386.17" stroke="#333" stroke-width="0.45"/>
<rect x="337.46" y="385.42" width="1.5" height="1.5" fill="#111"/>
<text transform="translate(210.30,393.18) scale(0.86,1)" font-size="4.1" fill="#303030" stroke="#303030" stroke-width="0.0" font-weight="normal" text-anchor="start">Positive</text>
<text transform="translate(260.90,393.18) scale(0.86,1)" font-size="4.1" fill="#303030" stroke="#303030" stroke-width="0.0" font-weight="normal" text-anchor="start">10/57 (17.5)</text>
<text transform="translate(286.30,393.18) scale(0.86,1)" font-size="4.1" fill="#303030" stroke="#303030" stroke-width="0.0" font-weight="normal" text-anchor="start">11/21 (52.4)</text>
<text transform="translate(351.10,393.18) scale(0.86,1)" font-size="4.1" fill="#303030" stroke="#303030" stroke-width="0.0" font-weight="normal" text-anchor="start">3.62 (1.54, 8.54)</text>
<text transform="translate(385.00,393.18) scale(0.86,1)" font-size="4.1" fill="#303030" stroke="#303030" stroke-width="0.0" font-weight="normal" text-anchor="start">0.003</text>
<line x1="328.29" y1="391.48" x2="339.77" y2="391.48" stroke="#333" stroke-width="0.45"/>
<rect x="333.27" y="390.73" width="1.5" height="1.5" fill="#111"/>
<text transform="translate(205.00,398.49) scale(0.86,1)" font-size="4.1" fill="#303030" stroke="#303030" stroke-width="0.0" font-weight="normal" text-anchor="start">CEA ( n% )</text>
<text transform="translate(401.90,398.49) scale(0.86,1)" font-size="4.1" fill="#303030" stroke="#303030" stroke-width="0.0" font-weight="normal" text-anchor="start">0.381</text>
<text transform="translate(210.30,403.80) scale(0.86,1)" font-size="4.1" fill="#303030" stroke="#303030" stroke-width="0.0" font-weight="normal" text-anchor="start">High</text>
<text transform="translate(260.90,403.80) scale(0.86,1)" font-size="4.1" fill="#303030" stroke="#303030" stroke-width="0.0" font-weight="normal" text-anchor="start">9/99 (9.1)</text>
<text transform="translate(286.30,403.80) scale(0.86,1)" font-size="4.1" fill="#303030" stroke="#303030" stroke-width="0.0" font-weight="normal" text-anchor="start">35/57 (61.4)</text>
<text transform="translate(351.10,403.80) scale(0.86,1)" font-size="4.1" fill="#303030" stroke="#303030" stroke-width="0.0" font-weight="normal" text-anchor="start">9.65 (4.62, 20.15)</text>
<text transform="translate(385.00,403.80) scale(0.86,1)" font-size="4.1" fill="#303030" stroke="#303030" stroke-width="0.0" font-weight="normal" text-anchor="start">&lt;0.001</text>
<line x1="335.65" y1="402.10" x2="345.52" y2="402.10" stroke="#333" stroke-width="0.45"/>
<rect x="339.84" y="401.35" width="1.5" height="1.5" fill="#111"/>
<text transform="translate(210.30,409.11) scale(0.86,1)" font-size="4.1" fill="#303030" stroke="#303030" stroke-width="0.0" font-weight="normal" text-anchor="start">Normal</text>
<text transform="translate(260.90,409.11) scale(0.86,1)" font-size="4.1" fill="#303030" stroke="#303030" stroke-width="0.0" font-weight="normal" text-anchor="start">25/213 (11.7)</text>
<text transform="translate(286.30,409.11) scale(0.86,1)" font-size="4.1" fill="#303030" stroke="#303030" stroke-width="0.0" font-weight="normal" text-anchor="start">26/66 (39.4)</text>
<text transform="translate(351.10,409.11) scale(0.86,1)" font-size="4.1" fill="#303030" stroke="#303030" stroke-width="0.0" font-weight="normal" text-anchor="start">3.96 (2.33, 6.80)</text>
<text transform="translate(385.00,409.11) scale(0.86,1)" font-size="4.1" fill="#303030" stroke="#303030" stroke-width="0.0" font-weight="normal" text-anchor="start">&lt;0.001</text>
<line x1="331.07" y1="407.41" x2="338.24" y2="407.41" stroke="#333" stroke-width="0.45"/>
<rect x="333.87" y="406.66" width="1.5" height="1.5" fill="#111"/>
<text transform="translate(205.00,414.42) scale(0.86,1)" font-size="4.1" fill="#303030" stroke="#303030" stroke-width="0.0" font-weight="normal" text-anchor="start">CA-199 ( n% )</text>
<text transform="translate(401.90,414.42) scale(0.86,1)" font-size="4.1" fill="#303030" stroke="#303030" stroke-width="0.0" font-weight="normal" text-anchor="start">0.965</text>
<text transform="translate(210.30,419.73) scale(0.86,1)" font-size="4.1" fill="#303030" stroke="#303030" stroke-width="0.0" font-weight="normal" text-anchor="start">High</text>
<text transform="translate(260.90,419.73) scale(0.86,1)" font-size="4.1" fill="#303030" stroke="#303030" stroke-width="0.0" font-weight="normal" text-anchor="start">4/26 (15.4)</text>
<text transform="translate(286.30,419.73) scale(0.86,1)" font-size="4.1" fill="#303030" stroke="#303030" stroke-width="0.0" font-weight="normal" text-anchor="start">15/22 (68.2)</text>
<text transform="translate(351.10,419.73) scale(0.86,1)" font-size="4.1" fill="#303030" stroke="#303030" stroke-width="0.0" font-weight="normal" text-anchor="start">5.90 (1.95, 17.87)</text>
<text transform="translate(385.00,419.73) scale(0.86,1)" font-size="4.1" fill="#303030" stroke="#303030" stroke-width="0.0" font-weight="normal" text-anchor="start">0.002</text>
<line x1="329.87" y1="418.03" x2="344.72" y2="418.03" stroke="#b5b5b5" stroke-width="0.45"/>
<rect x="336.54" y="417.28" width="1.5" height="1.5" fill="#111"/>
<text transform="translate(210.30,425.04) scale(0.86,1)" font-size="4.1" fill="#303030" stroke="#303030" stroke-width="0.0" font-weight="normal" text-anchor="start">Normal</text>
<text transform="translate(260.90,425.04) scale(0.86,1)" font-size="4.1" fill="#303030" stroke="#303030" stroke-width="0.0" font-weight="normal" text-anchor="start">30/286 (10.5)</text>
<text transform="translate(286.30,425.04) scale(0.86,1)" font-size="4.1" fill="#303030" stroke="#303030" stroke-width="0.0" font-weight="normal" text-anchor="start">46/101 (45.5)</text>
<text transform="translate(351.10,425.04) scale(0.86,1)" font-size="4.1" fill="#303030" stroke="#303030" stroke-width="0.0" font-weight="normal" text-anchor="start">5.45 (3.43, 8.64)</text>
<text transform="translate(385.00,425.04) scale(0.86,1)" font-size="4.1" fill="#303030" stroke="#303030" stroke-width="0.0" font-weight="normal" text-anchor="start">&lt;0.001</text>
<line x1="333.66" y1="423.34" x2="339.85" y2="423.34" stroke="#333" stroke-width="0.45"/>
<rect x="336.01" y="422.59" width="1.5" height="1.5" fill="#111"/>
<line x1="310.3" y1="426.5" x2="349.8" y2="426.5" stroke="#555" stroke-width="0.55"/>
<line x1="309.97" y1="426.5" x2="309.97" y2="427.7" stroke="#555" stroke-width="0.45"/>
<text transform="translate(309.97,430.70) scale(0.86,1)" font-size="2.9" fill="#333" stroke="#333" stroke-width="0.0" font-weight="normal" text-anchor="middle">0.1</text>
<line x1="319.26" y1="426.5" x2="319.26" y2="427.7" stroke="#555" stroke-width="0.45"/>
<text transform="translate(319.26,430.70) scale(0.86,1)" font-size="2.9" fill="#333" stroke="#333" stroke-width="0.0" font-weight="normal" text-anchor="middle">0.4</text>
<line x1="325.40" y1="426.5" x2="325.40" y2="427.7" stroke="#555" stroke-width="0.45"/>
<text transform="translate(325.40,430.70) scale(0.86,1)" font-size="2.9" fill="#333" stroke="#333" stroke-width="0.0" font-weight="normal" text-anchor="middle">1</text>
<line x1="332.05" y1="426.5" x2="332.05" y2="427.7" stroke="#555" stroke-width="0.45"/>
<text transform="translate(332.05,430.70) scale(0.86,1)" font-size="2.9" fill="#333" stroke="#333" stroke-width="0.0" font-weight="normal" text-anchor="middle">2.7</text>
<line x1="338.81" y1="426.5" x2="338.81" y2="427.7" stroke="#555" stroke-width="0.45"/>
<text transform="translate(338.81,430.70) scale(0.86,1)" font-size="2.9" fill="#333" stroke="#333" stroke-width="0.0" font-weight="normal" text-anchor="middle">7.4</text>
<line x1="345.50" y1="426.5" x2="345.50" y2="427.7" stroke="#555" stroke-width="0.45"/>
<text transform="translate(345.50,430.70) scale(0.86,1)" font-size="2.9" fill="#333" stroke="#333" stroke-width="0.0" font-weight="normal" text-anchor="middle">20.1</text>
<line x1="310.3" y1="433.5" x2="324.4" y2="433.5" stroke="#444" stroke-width="0.5"/>
<polygon points="309.7,433.5 311.3,432.8 311.3,434.2" fill="#444"/>
<line x1="326.6" y1="433.5" x2="349.8" y2="433.5" stroke="#444" stroke-width="0.5"/>
<polygon points="350.40000000000003,433.5 348.8,432.8 348.8,434.2" fill="#444"/>
<text transform="translate(310.30,437.20) scale(0.86,1)" font-size="2.9" fill="#333" stroke="#333" stroke-width="0.0" font-weight="normal" text-anchor="start">H-NPLHb</text>
<text transform="translate(326.60,437.20) scale(0.86,1)" font-size="2.9" fill="#333" stroke="#333" stroke-width="0.0" font-weight="normal" text-anchor="start">L-NPLHb</text>
<text transform="translate(202.40,433.80) scale(0.86,1)" font-size="2.3" fill="#333" stroke="#333" stroke-width="0.0" font-weight="normal" text-anchor="start">* no of events / total no. (%)</text>
<text x="185.80" y="161.90" font-size="24.7" text-anchor="start" fill="#000" font-weight="normal" >F</text>
<rect x="454.4" y="160.50" width="230.60000000000002" height="5.31" fill="#eef1f0"/>
<rect x="454.4" y="171.12" width="230.60000000000002" height="5.31" fill="#eef1f0"/>
<rect x="454.4" y="181.74" width="230.60000000000002" height="5.31" fill="#eef1f0"/>
<rect x="454.4" y="192.36" width="230.60000000000002" height="5.31" fill="#eef1f0"/>
<rect x="454.4" y="202.98" width="230.60000000000002" height="5.31" fill="#eef1f0"/>
<rect x="454.4" y="213.60" width="230.60000000000002" height="5.31" fill="#eef1f0"/>
<rect x="454.4" y="224.22" width="230.60000000000002" height="5.31" fill="#eef1f0"/>
<rect x="454.4" y="234.84" width="230.60000000000002" height="5.31" fill="#eef1f0"/>
<rect x="454.4" y="245.46" width="230.60000000000002" height="5.31" fill="#eef1f0"/>
<rect x="454.4" y="256.08" width="230.60000000000002" height="5.31" fill="#eef1f0"/>
<rect x="454.4" y="266.70" width="230.60000000000002" height="5.31" fill="#eef1f0"/>
<rect x="454.4" y="277.32" width="230.60000000000002" height="5.31" fill="#eef1f0"/>
<rect x="454.4" y="287.94" width="230.60000000000002" height="5.31" fill="#eef1f0"/>
<rect x="454.4" y="298.56" width="230.60000000000002" height="5.31" fill="#eef1f0"/>
<rect x="454.4" y="309.18" width="230.60000000000002" height="5.31" fill="#eef1f0"/>
<rect x="454.4" y="319.80" width="230.60000000000002" height="5.31" fill="#eef1f0"/>
<rect x="454.4" y="330.42" width="230.60000000000002" height="5.31" fill="#eef1f0"/>
<rect x="454.4" y="341.04" width="230.60000000000002" height="5.31" fill="#eef1f0"/>
<rect x="454.4" y="351.66" width="230.60000000000002" height="5.31" fill="#eef1f0"/>
<rect x="454.4" y="362.28" width="230.60000000000002" height="5.31" fill="#eef1f0"/>
<rect x="454.4" y="372.90" width="230.60000000000002" height="5.31" fill="#eef1f0"/>
<rect x="454.4" y="383.52" width="230.60000000000002" height="5.31" fill="#eef1f0"/>
<rect x="454.4" y="394.14" width="230.60000000000002" height="5.31" fill="#eef1f0"/>
<rect x="454.4" y="404.76" width="230.60000000000002" height="5.31" fill="#eef1f0"/>
<rect x="454.4" y="415.38" width="230.60000000000002" height="5.31" fill="#eef1f0"/>
<text transform="translate(457.40,159.00) scale(0.86,1)" font-size="4.1" fill="#111" stroke="#111" stroke-width="0.0" font-weight="bold" text-anchor="start">Subgroup</text>
<text transform="translate(512.70,159.00) scale(0.86,1)" font-size="4.1" fill="#111" stroke="#111" stroke-width="0.0" font-weight="bold" text-anchor="start">&lt;0.308*</text>
<text transform="translate(537.90,159.00) scale(0.86,1)" font-size="4.1" fill="#111" stroke="#111" stroke-width="0.0" font-weight="bold" text-anchor="start">≥0.308*</text>
<text transform="translate(602.70,159.00) scale(0.86,1)" font-size="4.1" fill="#111" stroke="#111" stroke-width="0.0" font-weight="bold" text-anchor="start">HR (95% CI)</text>
<text transform="translate(638.00,159.00) scale(0.86,1)" font-size="4.1" fill="#111" stroke="#111" stroke-width="0.0" font-weight="bold" text-anchor="start">P-value</text>
<text transform="translate(654.70,159.00) scale(0.86,1)" font-size="4.1" fill="#111" stroke="#111" stroke-width="0.0" font-weight="bold" text-anchor="start">P for interaction</text>
<line x1="569.4" y1="163.5" x2="569.4" y2="437.5" stroke="#666" stroke-width="0.4" stroke-dasharray="0.9,0.9"/>
<text transform="translate(457.40,164.85) scale(0.86,1)" font-size="4.1" fill="#303030" stroke="#303030" stroke-width="0.0" font-weight="normal" text-anchor="start">Overall</text>
<text transform="translate(512.70,164.85) scale(0.86,1)" font-size="4.1" fill="#303030" stroke="#303030" stroke-width="0.0" font-weight="normal" text-anchor="start">38/264 (14.4)</text>
<text transform="translate(537.90,164.85) scale(0.86,1)" font-size="4.1" fill="#303030" stroke="#303030" stroke-width="0.0" font-weight="normal" text-anchor="start">57/171 (33.3)</text>
<text transform="translate(602.70,164.85) scale(0.86,1)" font-size="4.1" fill="#303030" stroke="#303030" stroke-width="0.0" font-weight="normal" text-anchor="start">2.68 (1.77, 4.04)</text>
<text transform="translate(638.00,164.85) scale(0.86,1)" font-size="4.1" fill="#303030" stroke="#303030" stroke-width="0.0" font-weight="normal" text-anchor="start">&lt;0.001</text>
<line x1="573.17" y1="163.16" x2="578.62" y2="163.16" stroke="#333" stroke-width="0.45"/>
<rect x="575.16" y="162.41" width="1.5" height="1.5" fill="#111"/>
<text transform="translate(457.40,170.16) scale(0.86,1)" font-size="4.1" fill="#303030" stroke="#303030" stroke-width="0.0" font-weight="normal" text-anchor="start">gender ( n% )</text>
<text transform="translate(654.70,170.16) scale(0.86,1)" font-size="4.1" fill="#303030" stroke="#303030" stroke-width="0.0" font-weight="normal" text-anchor="start">0.856</text>
<text transform="translate(462.70,175.47) scale(0.86,1)" font-size="4.1" fill="#303030" stroke="#303030" stroke-width="0.0" font-weight="normal" text-anchor="start">female</text>
<text transform="translate(512.70,175.47) scale(0.86,1)" font-size="4.1" fill="#303030" stroke="#303030" stroke-width="0.0" font-weight="normal" text-anchor="start">24/132 (18.2)</text>
<text transform="translate(537.90,175.47) scale(0.86,1)" font-size="4.1" fill="#303030" stroke="#303030" stroke-width="0.0" font-weight="normal" text-anchor="start">22/50 (44.0)</text>
<text transform="translate(602.70,175.47) scale(0.86,1)" font-size="4.1" fill="#303030" stroke="#303030" stroke-width="0.0" font-weight="normal" text-anchor="start">2.92 (1.64, 5.21)</text>
<text transform="translate(638.00,175.47) scale(0.86,1)" font-size="4.1" fill="#303030" stroke="#303030" stroke-width="0.0" font-weight="normal" text-anchor="start">&lt;0.001</text>
<line x1="572.66" y1="173.78" x2="580.29" y2="173.78" stroke="#333" stroke-width="0.45"/>
<rect x="575.72" y="173.03" width="1.5" height="1.5" fill="#111"/>
<text transform="translate(462.70,180.78) scale(0.86,1)" font-size="4.1" fill="#303030" stroke="#303030" stroke-width="0.0" font-weight="normal" text-anchor="start">male</text>
<text transform="translate(512.70,180.78) scale(0.86,1)" font-size="4.1" fill="#303030" stroke="#303030" stroke-width="0.0" font-weight="normal" text-anchor="start">14/132 (10.6)</text>
<text transform="translate(537.90,180.78) scale(0.86,1)" font-size="4.1" fill="#303030" stroke="#303030" stroke-width="0.0" font-weight="normal" text-anchor="start">35/121 (28.9)</text>
<text transform="translate(602.70,180.78) scale(0.86,1)" font-size="4.1" fill="#303030" stroke="#303030" stroke-width="0.0" font-weight="normal" text-anchor="start">3.13 (1.69, 5.83)</text>
<text transform="translate(638.00,180.78) scale(0.86,1)" font-size="4.1" fill="#303030" stroke="#303030" stroke-width="0.0" font-weight="normal" text-anchor="start">&lt;0.001</text>
<line x1="572.86" y1="179.09" x2="581.04" y2="179.09" stroke="#333" stroke-width="0.45"/>
<rect x="576.18" y="178.34" width="1.5" height="1.5" fill="#111"/>
<text transform="translate(457.40,186.09) scale(0.86,1)" font-size="4.1" fill="#303030" stroke="#303030" stroke-width="0.0" font-weight="normal" text-anchor="start">age ( n% )</text>
<text transform="translate(654.70,186.09) scale(0.86,1)" font-size="4.1" fill="#303030" stroke="#303030" stroke-width="0.0" font-weight="normal" text-anchor="start">0.26</text>
<text transform="translate(462.70,191.41) scale(0.86,1)" font-size="4.1" fill="#303030" stroke="#303030" stroke-width="0.0" font-weight="normal" text-anchor="start">&lt; 40years</text>
<text transform="translate(512.70,191.41) scale(0.86,1)" font-size="4.1" fill="#303030" stroke="#303030" stroke-width="0.0" font-weight="normal" text-anchor="start">2/27 (7.4)</text>
<text transform="translate(537.90,191.41) scale(0.86,1)" font-size="4.1" fill="#303030" stroke="#303030" stroke-width="0.0" font-weight="normal" text-anchor="start">7/18 (38.9)</text>
<text transform="translate(602.70,191.41) scale(0.86,1)" font-size="4.1" fill="#303030" stroke="#303030" stroke-width="0.0" font-weight="normal" text-anchor="start">6.42 (1.33, 30.98)</text>
<text transform="translate(638.00,191.41) scale(0.86,1)" font-size="4.1" fill="#303030" stroke="#303030" stroke-width="0.0" font-weight="normal" text-anchor="start">0.02</text>
<line x1="571.28" y1="189.71" x2="592.06" y2="189.71" stroke="#333" stroke-width="0.45"/>
<rect x="580.92" y="188.96" width="1.5" height="1.5" fill="#111"/>
<text transform="translate(462.70,196.72) scale(0.86,1)" font-size="4.1" fill="#303030" stroke="#303030" stroke-width="0.0" font-weight="normal" text-anchor="start">&gt; 60years</text>
<text transform="translate(512.70,196.72) scale(0.86,1)" font-size="4.1" fill="#303030" stroke="#303030" stroke-width="0.0" font-weight="normal" text-anchor="start">22/153 (14.4)</text>
<text transform="translate(537.90,196.72) scale(0.86,1)" font-size="4.1" fill="#303030" stroke="#303030" stroke-width="0.0" font-weight="normal" text-anchor="start">33/95 (34.7)</text>
<text transform="translate(602.70,196.72) scale(0.86,1)" font-size="4.1" fill="#303030" stroke="#303030" stroke-width="0.0" font-weight="normal" text-anchor="start">2.82 (1.65, 4.85)</text>
<text transform="translate(638.00,196.72) scale(0.86,1)" font-size="4.1" fill="#303030" stroke="#303030" stroke-width="0.0" font-weight="normal" text-anchor="start">&lt;0.001</text>
<line x1="572.71" y1="195.02" x2="579.82" y2="195.02" stroke="#333" stroke-width="0.45"/>
<rect x="575.49" y="194.27" width="1.5" height="1.5" fill="#111"/>
<text transform="translate(462.70,202.02) scale(0.86,1)" font-size="4.1" fill="#303030" stroke="#303030" stroke-width="0.0" font-weight="normal" text-anchor="start">40-60years</text>
<text transform="translate(512.70,202.02) scale(0.86,1)" font-size="4.1" fill="#303030" stroke="#303030" stroke-width="0.0" font-weight="normal" text-anchor="start">14/84 (16.7)</text>
<text transform="translate(537.90,202.02) scale(0.86,1)" font-size="4.1" fill="#303030" stroke="#303030" stroke-width="0.0" font-weight="normal" text-anchor="start">17/58 (29.3)</text>
<text transform="translate(602.70,202.02) scale(0.86,1)" font-size="4.1" fill="#303030" stroke="#303030" stroke-width="0.0" font-weight="normal" text-anchor="start">1.93 (0.98, 3.81)</text>
<text transform="translate(638.00,202.02) scale(0.86,1)" font-size="4.1" fill="#303030" stroke="#303030" stroke-width="0.0" font-weight="normal" text-anchor="start">0.07</text>
<line x1="569.27" y1="200.32" x2="578.23" y2="200.32" stroke="#333" stroke-width="0.45"/>
<rect x="572.99" y="199.57" width="1.5" height="1.5" fill="#111"/>
<text transform="translate(457.40,207.33) scale(0.86,1)" font-size="4.1" fill="#303030" stroke="#303030" stroke-width="0.0" font-weight="normal" text-anchor="start">BMI ( n% )</text>
<text transform="translate(654.70,207.33) scale(0.86,1)" font-size="4.1" fill="#303030" stroke="#303030" stroke-width="0.0" font-weight="normal" text-anchor="start">0.502</text>
<text transform="translate(462.70,212.64) scale(0.86,1)" font-size="4.1" fill="#303030" stroke="#303030" stroke-width="0.0" font-weight="normal" text-anchor="start">&lt; 18.5</text>
<text transform="translate(512.70,212.64) scale(0.86,1)" font-size="4.1" fill="#303030" stroke="#303030" stroke-width="0.0" font-weight="normal" text-anchor="start">1/7 (14.3)</text>
<text transform="translate(537.90,212.64) scale(0.86,1)" font-size="4.1" fill="#303030" stroke="#303030" stroke-width="0.0" font-weight="normal" text-anchor="start">2/5 (40.0)</text>
<text transform="translate(602.70,212.64) scale(0.86,1)" font-size="4.1" fill="#303030" stroke="#303030" stroke-width="0.0" font-weight="normal" text-anchor="start">3.83 (0.32, 46.19)</text>
<text transform="translate(638.00,212.64) scale(0.86,1)" font-size="4.1" fill="#303030" stroke="#303030" stroke-width="0.0" font-weight="normal" text-anchor="start">0.290</text>
<line x1="561.88" y1="210.94" x2="594.70" y2="210.94" stroke="#b5b5b5" stroke-width="0.45"/>
<rect x="577.51" y="210.19" width="1.5" height="1.5" fill="#111"/>
<text transform="translate(462.70,217.95) scale(0.86,1)" font-size="4.1" fill="#303030" stroke="#303030" stroke-width="0.0" font-weight="normal" text-anchor="start">≥28</text>
<text transform="translate(512.70,217.95) scale(0.86,1)" font-size="4.1" fill="#303030" stroke="#303030" stroke-width="0.0" font-weight="normal" text-anchor="start">4/26 (15.4)</text>
<text transform="translate(537.90,217.95) scale(0.86,1)" font-size="4.1" fill="#303030" stroke="#303030" stroke-width="0.0" font-weight="normal" text-anchor="start">9/26 (34.6)</text>
<text transform="translate(602.70,217.95) scale(0.86,1)" font-size="4.1" fill="#303030" stroke="#303030" stroke-width="0.0" font-weight="normal" text-anchor="start">2.37 (0.78, 8.33)</text>
<text transform="translate(638.00,217.95) scale(0.86,1)" font-size="4.1" fill="#303030" stroke="#303030" stroke-width="0.0" font-weight="normal" text-anchor="start">0.117</text>
<line x1="567.76" y1="216.25" x2="583.39" y2="216.25" stroke="#333" stroke-width="0.45"/>
<rect x="574.35" y="215.50" width="1.5" height="1.5" fill="#111"/>
<text transform="translate(462.70,223.26) scale(0.86,1)" font-size="4.1" fill="#303030" stroke="#303030" stroke-width="0.0" font-weight="normal" text-anchor="start">18.5-24</text>
<text transform="translate(512.70,223.26) scale(0.86,1)" font-size="4.1" fill="#303030" stroke="#303030" stroke-width="0.0" font-weight="normal" text-anchor="start">21/122 (17.2)</text>
<text transform="translate(537.90,223.26) scale(0.86,1)" font-size="4.1" fill="#303030" stroke="#303030" stroke-width="0.0" font-weight="normal" text-anchor="start">24/68 (35.3)</text>
<text transform="translate(602.70,223.26) scale(0.86,1)" font-size="4.1" fill="#303030" stroke="#303030" stroke-width="0.0" font-weight="normal" text-anchor="start">2.34 (1.38, 4.26)</text>
<text transform="translate(638.00,223.26) scale(0.86,1)" font-size="4.1" fill="#303030" stroke="#303030" stroke-width="0.0" font-weight="normal" text-anchor="start">0.005</text>
<line x1="571.53" y1="221.56" x2="578.97" y2="221.56" stroke="#333" stroke-width="0.45"/>
<rect x="574.26" y="220.81" width="1.5" height="1.5" fill="#111"/>
<text transform="translate(462.70,228.57) scale(0.86,1)" font-size="4.1" fill="#303030" stroke="#303030" stroke-width="0.0" font-weight="normal" text-anchor="start">24-28</text>
<text transform="translate(512.70,228.57) scale(0.86,1)" font-size="4.1" fill="#303030" stroke="#303030" stroke-width="0.0" font-weight="normal" text-anchor="start">12/109 (11.0)</text>
<text transform="translate(537.90,228.57) scale(0.86,1)" font-size="4.1" fill="#303030" stroke="#303030" stroke-width="0.0" font-weight="normal" text-anchor="start">21/71 (29.6)</text>
<text transform="translate(602.70,228.57) scale(0.86,1)" font-size="4.1" fill="#303030" stroke="#303030" stroke-width="0.0" font-weight="normal" text-anchor="start">3.11 (1.53, 6.32)</text>
<text transform="translate(638.00,228.57) scale(0.86,1)" font-size="4.1" fill="#303030" stroke="#303030" stroke-width="0.0" font-weight="normal" text-anchor="start">0.002</text>
<line x1="572.21" y1="226.88" x2="581.57" y2="226.88" stroke="#b5b5b5" stroke-width="0.45"/>
<rect x="576.14" y="226.12" width="1.5" height="1.5" fill="#111"/>
<text transform="translate(457.40,233.88) scale(0.86,1)" font-size="4.1" fill="#303030" stroke="#303030" stroke-width="0.0" font-weight="normal" text-anchor="start">Smoking ( n% )</text>
<text transform="translate(654.70,233.88) scale(0.86,1)" font-size="4.1" fill="#303030" stroke="#303030" stroke-width="0.0" font-weight="normal" text-anchor="start">0.894</text>
<text transform="translate(462.70,239.19) scale(0.86,1)" font-size="4.1" fill="#303030" stroke="#303030" stroke-width="0.0" font-weight="normal" text-anchor="start">no</text>
<text transform="translate(512.70,239.19) scale(0.86,1)" font-size="4.1" fill="#303030" stroke="#303030" stroke-width="0.0" font-weight="normal" text-anchor="start">30/189 (15.9)</text>
<text transform="translate(537.90,239.19) scale(0.86,1)" font-size="4.1" fill="#303030" stroke="#303030" stroke-width="0.0" font-weight="normal" text-anchor="start">41/110 (37.3)</text>
<text transform="translate(602.70,239.19) scale(0.86,1)" font-size="4.1" fill="#303030" stroke="#303030" stroke-width="0.0" font-weight="normal" text-anchor="start">2.82 (1.76, 4.51)</text>
<text transform="translate(638.00,239.19) scale(0.86,1)" font-size="4.1" fill="#303030" stroke="#303030" stroke-width="0.0" font-weight="normal" text-anchor="start">&lt;0.001</text>
<line x1="573.13" y1="237.49" x2="579.34" y2="237.49" stroke="#333" stroke-width="0.45"/>
<rect x="575.49" y="236.74" width="1.5" height="1.5" fill="#111"/>
<text transform="translate(462.70,244.50) scale(0.86,1)" font-size="4.1" fill="#303030" stroke="#303030" stroke-width="0.0" font-weight="normal" text-anchor="start">yes</text>
<text transform="translate(512.70,244.50) scale(0.86,1)" font-size="4.1" fill="#303030" stroke="#303030" stroke-width="0.0" font-weight="normal" text-anchor="start">8/75 (10.7)</text>
<text transform="translate(537.90,244.50) scale(0.86,1)" font-size="4.1" fill="#303030" stroke="#303030" stroke-width="0.0" font-weight="normal" text-anchor="start">16/61 (26.2)</text>
<text transform="translate(602.70,244.50) scale(0.86,1)" font-size="4.1" fill="#303030" stroke="#303030" stroke-width="0.0" font-weight="normal" text-anchor="start">2.71 (1.16, 6.33)</text>
<text transform="translate(638.00,244.50) scale(0.86,1)" font-size="4.1" fill="#303030" stroke="#303030" stroke-width="0.0" font-weight="normal" text-anchor="start">0.022</text>
<line x1="570.38" y1="242.80" x2="581.58" y2="242.80" stroke="#333" stroke-width="0.45"/>
<rect x="575.23" y="242.05" width="1.5" height="1.5" fill="#111"/>
<text transform="translate(457.40,249.81) scale(0.86,1)" font-size="4.1" fill="#303030" stroke="#303030" stroke-width="0.0" font-weight="normal" text-anchor="start">Drink ( n% )</text>
<text transform="translate(654.70,249.81) scale(0.86,1)" font-size="4.1" fill="#303030" stroke="#303030" stroke-width="0.0" font-weight="normal" text-anchor="start">0.79</text>
<text transform="translate(462.70,255.12) scale(0.86,1)" font-size="4.1" fill="#303030" stroke="#303030" stroke-width="0.0" font-weight="normal" text-anchor="start">no</text>
<text transform="translate(512.70,255.12) scale(0.86,1)" font-size="4.1" fill="#303030" stroke="#303030" stroke-width="0.0" font-weight="normal" text-anchor="start">32/214 (15.0)</text>
<text transform="translate(537.90,255.12) scale(0.86,1)" font-size="4.1" fill="#303030" stroke="#303030" stroke-width="0.0" font-weight="normal" text-anchor="start">47/141 (33.3)</text>
<text transform="translate(602.70,255.12) scale(0.86,1)" font-size="4.1" fill="#303030" stroke="#303030" stroke-width="0.0" font-weight="normal" text-anchor="start">2.58 (1.65, 4.03)</text>
<text transform="translate(638.00,255.12) scale(0.86,1)" font-size="4.1" fill="#303030" stroke="#303030" stroke-width="0.0" font-weight="normal" text-anchor="start">&lt;0.001</text>
<line x1="572.71" y1="253.42" x2="578.60" y2="253.42" stroke="#333" stroke-width="0.45"/>
<rect x="574.91" y="252.67" width="1.5" height="1.5" fill="#111"/>
<text transform="translate(462.70,260.43) scale(0.86,1)" font-size="4.1" fill="#303030" stroke="#303030" stroke-width="0.0" font-weight="normal" text-anchor="start">yes</text>
<text transform="translate(512.70,260.43) scale(0.86,1)" font-size="4.1" fill="#303030" stroke="#303030" stroke-width="0.0" font-weight="normal" text-anchor="start">6/50 (12.0)</text>
<text transform="translate(537.90,260.43) scale(0.86,1)" font-size="4.1" fill="#303030" stroke="#303030" stroke-width="0.0" font-weight="normal" text-anchor="start">10/30 (33.3)</text>
<text transform="translate(602.70,260.43) scale(0.86,1)" font-size="4.1" fill="#303030" stroke="#303030" stroke-width="0.0" font-weight="normal" text-anchor="start">3.14 (1.14, 8.65)</text>
<text transform="translate(638.00,260.43) scale(0.86,1)" font-size="4.1" fill="#303030" stroke="#303030" stroke-width="0.0" font-weight="normal" text-anchor="start">0.027</text>
<line x1="570.26" y1="258.73" x2="583.64" y2="258.73" stroke="#333" stroke-width="0.45"/>
<rect x="576.20" y="257.98" width="1.5" height="1.5" fill="#111"/>
<text transform="translate(457.40,265.74) scale(0.86,1)" font-size="4.1" fill="#303030" stroke="#303030" stroke-width="0.0" font-weight="normal" text-anchor="start">T stage ( n% )</text>
<text transform="translate(654.70,265.74) scale(0.86,1)" font-size="4.1" fill="#303030" stroke="#303030" stroke-width="0.0" font-weight="normal" text-anchor="start">0.19</text>
<text transform="translate(460.10,271.05) scale(0.86,1)" font-size="4.1" fill="#303030" stroke="#303030" stroke-width="0.0" font-weight="normal" text-anchor="start">T1</text>
<text transform="translate(512.70,271.05) scale(0.86,1)" font-size="4.1" fill="#303030" stroke="#303030" stroke-width="0.0" font-weight="normal" text-anchor="start">0/22 (0.0)</text>
<text transform="translate(537.90,271.05) scale(0.86,1)" font-size="4.1" fill="#303030" stroke="#303030" stroke-width="0.0" font-weight="normal" text-anchor="start">1/4 (25.0)</text>
<text transform="translate(462.70,276.36) scale(0.86,1)" font-size="4.1" fill="#303030" stroke="#303030" stroke-width="0.0" font-weight="normal" text-anchor="start">T2</text>
<text transform="translate(512.70,276.36) scale(0.86,1)" font-size="4.1" fill="#303030" stroke="#303030" stroke-width="0.0" font-weight="normal" text-anchor="start">1/53 (2.0)</text>
<text transform="translate(537.90,276.36) scale(0.86,1)" font-size="4.1" fill="#303030" stroke="#303030" stroke-width="0.0" font-weight="normal" text-anchor="start">4/22 (18.2)</text>
<text transform="translate(602.70,276.36) scale(0.86,1)" font-size="4.1" fill="#303030" stroke="#303030" stroke-width="0.0" font-weight="normal" text-anchor="start">9.45 (1.06, 84.50)</text>
<text transform="translate(638.00,276.36) scale(0.86,1)" font-size="4.1" fill="#303030" stroke="#303030" stroke-width="0.0" font-weight="normal" text-anchor="start">0.044</text>
<line x1="569.78" y1="274.66" x2="598.68" y2="274.66" stroke="#333" stroke-width="0.45"/>
<rect x="583.47" y="273.91" width="1.5" height="1.5" fill="#111"/>
<text transform="translate(462.70,281.67) scale(0.86,1)" font-size="4.1" fill="#303030" stroke="#303030" stroke-width="0.0" font-weight="normal" text-anchor="start">T3</text>
<text transform="translate(512.70,281.67) scale(0.86,1)" font-size="4.1" fill="#303030" stroke="#303030" stroke-width="0.0" font-weight="normal" text-anchor="start">31/175 (17.7)</text>
<text transform="translate(537.90,281.67) scale(0.86,1)" font-size="4.1" fill="#303030" stroke="#303030" stroke-width="0.0" font-weight="normal" text-anchor="start">42/128 (32.8)</text>
<text transform="translate(602.70,281.67) scale(0.86,1)" font-size="4.1" fill="#303030" stroke="#303030" stroke-width="0.0" font-weight="normal" text-anchor="start">2.12 (1.33, 3.37)</text>
<text transform="translate(638.00,281.67) scale(0.86,1)" font-size="4.1" fill="#303030" stroke="#303030" stroke-width="0.0" font-weight="normal" text-anchor="start">0.002</text>
<line x1="571.28" y1="279.97" x2="577.42" y2="279.97" stroke="#333" stroke-width="0.45"/>
<rect x="573.61" y="279.22" width="1.5" height="1.5" fill="#111"/>
<text transform="translate(462.70,286.98) scale(0.86,1)" font-size="4.1" fill="#303030" stroke="#303030" stroke-width="0.0" font-weight="normal" text-anchor="start">T4</text>
<text transform="translate(512.70,286.98) scale(0.86,1)" font-size="4.1" fill="#303030" stroke="#303030" stroke-width="0.0" font-weight="normal" text-anchor="start">6/17 (35.3)</text>
<text transform="translate(537.90,286.98) scale(0.86,1)" font-size="4.1" fill="#303030" stroke="#303030" stroke-width="0.0" font-weight="normal" text-anchor="start">10/17 (58.8)</text>
<text transform="translate(602.70,286.98) scale(0.86,1)" font-size="4.1" fill="#303030" stroke="#303030" stroke-width="0.0" font-weight="normal" text-anchor="start">2.20 (0.79, 6.08)</text>
<text transform="translate(638.00,286.98) scale(0.86,1)" font-size="4.1" fill="#303030" stroke="#303030" stroke-width="0.0" font-weight="normal" text-anchor="start">0.129</text>
<line x1="567.84" y1="285.28" x2="581.31" y2="285.28" stroke="#333" stroke-width="0.45"/>
<rect x="573.85" y="284.53" width="1.5" height="1.5" fill="#111"/>
<text transform="translate(457.40,292.29) scale(0.86,1)" font-size="4.1" fill="#303030" stroke="#303030" stroke-width="0.0" font-weight="normal" text-anchor="start">N stage ( n% )</text>
<text transform="translate(654.70,292.29) scale(0.86,1)" font-size="4.1" fill="#303030" stroke="#303030" stroke-width="0.0" font-weight="normal" text-anchor="start">0.268</text>
<text transform="translate(462.70,297.60) scale(0.86,1)" font-size="4.1" fill="#303030" stroke="#303030" stroke-width="0.0" font-weight="normal" text-anchor="start">N0</text>
<text transform="translate(512.70,297.60) scale(0.86,1)" font-size="4.1" fill="#303030" stroke="#303030" stroke-width="0.0" font-weight="normal" text-anchor="start">11/169 (6.5)</text>
<text transform="translate(537.90,297.60) scale(0.86,1)" font-size="4.1" fill="#303030" stroke="#303030" stroke-width="0.0" font-weight="normal" text-anchor="start">27/109 (24.8)</text>
<text transform="translate(602.70,297.60) scale(0.86,1)" font-size="4.1" fill="#303030" stroke="#303030" stroke-width="0.0" font-weight="normal" text-anchor="start">4.32 (2.14, 8.76)</text>
<text transform="translate(638.00,297.60) scale(0.86,1)" font-size="4.1" fill="#303030" stroke="#303030" stroke-width="0.0" font-weight="normal" text-anchor="start">&lt;0.001</text>
<line x1="574.42" y1="295.90" x2="583.72" y2="295.90" stroke="#333" stroke-width="0.45"/>
<rect x="578.31" y="295.15" width="1.5" height="1.5" fill="#111"/>
<text transform="translate(462.70,302.91) scale(0.86,1)" font-size="4.1" fill="#303030" stroke="#303030" stroke-width="0.0" font-weight="normal" text-anchor="start">N1</text>
<text transform="translate(512.70,302.91) scale(0.86,1)" font-size="4.1" fill="#303030" stroke="#303030" stroke-width="0.0" font-weight="normal" text-anchor="start">14/60 (23.3)</text>
<text transform="translate(537.90,302.91) scale(0.86,1)" font-size="4.1" fill="#303030" stroke="#303030" stroke-width="0.0" font-weight="normal" text-anchor="start">11/32 (34.4)</text>
<text transform="translate(602.70,302.91) scale(0.86,1)" font-size="4.1" fill="#303030" stroke="#303030" stroke-width="0.0" font-weight="normal" text-anchor="start">1.52 (0.69, 3.35)</text>
<text transform="translate(638.00,302.91) scale(0.86,1)" font-size="4.1" fill="#303030" stroke="#303030" stroke-width="0.0" font-weight="normal" text-anchor="start">0.297</text>
<line x1="566.95" y1="301.21" x2="577.38" y2="301.21" stroke="#333" stroke-width="0.45"/>
<rect x="571.41" y="300.46" width="1.5" height="1.5" fill="#111"/>
<text transform="translate(462.70,308.22) scale(0.86,1)" font-size="4.1" fill="#303030" stroke="#303030" stroke-width="0.0" font-weight="normal" text-anchor="start">N2</text>
<text transform="translate(512.70,308.22) scale(0.86,1)" font-size="4.1" fill="#303030" stroke="#303030" stroke-width="0.0" font-weight="normal" text-anchor="start">10/32 (31.2)</text>
<text transform="translate(537.90,308.22) scale(0.86,1)" font-size="4.1" fill="#303030" stroke="#303030" stroke-width="0.0" font-weight="normal" text-anchor="start">18/29 (62.1)</text>
<text transform="translate(602.70,308.22) scale(0.86,1)" font-size="4.1" fill="#303030" stroke="#303030" stroke-width="0.0" font-weight="normal" text-anchor="start">2.95 (1.36, 6.42)</text>
<text transform="translate(638.00,308.22) scale(0.86,1)" font-size="4.1" fill="#303030" stroke="#303030" stroke-width="0.0" font-weight="normal" text-anchor="start">0.006</text>
<line x1="571.43" y1="306.52" x2="581.67" y2="306.52" stroke="#333" stroke-width="0.45"/>
<rect x="575.79" y="305.77" width="1.5" height="1.5" fill="#111"/>
<text transform="translate(460.10,313.53) scale(0.86,1)" font-size="4.1" fill="#303030" stroke="#303030" stroke-width="0.0" font-weight="normal" text-anchor="start">N3</text>
<text transform="translate(512.70,313.53) scale(0.86,1)" font-size="4.1" fill="#303030" stroke="#303030" stroke-width="0.0" font-weight="normal" text-anchor="start">3/3 (100.0)</text>
<text transform="translate(537.90,313.53) scale(0.86,1)" font-size="4.1" fill="#303030" stroke="#303030" stroke-width="0.0" font-weight="normal" text-anchor="start">1/1 (100.0)</text>
<text transform="translate(457.40,318.84) scale(0.86,1)" font-size="4.1" fill="#303030" stroke="#303030" stroke-width="0.0" font-weight="normal" text-anchor="start">Tumor stage ( n% )</text>
<text transform="translate(654.70,318.84) scale(0.86,1)" font-size="4.1" fill="#303030" stroke="#303030" stroke-width="0.0" font-weight="normal" text-anchor="start">0.174</text>
<text transform="translate(462.70,324.15) scale(0.86,1)" font-size="4.1" fill="#303030" stroke="#303030" stroke-width="0.0" font-weight="normal" text-anchor="start">I</text>
<text transform="translate(512.70,324.15) scale(0.86,1)" font-size="4.1" fill="#303030" stroke="#303030" stroke-width="0.0" font-weight="normal" text-anchor="start">1/62 (1.6)</text>
<text transform="translate(537.90,324.15) scale(0.86,1)" font-size="4.1" fill="#303030" stroke="#303030" stroke-width="0.0" font-weight="normal" text-anchor="start">6/20 (30.0)</text>
<text transform="translate(602.70,324.15) scale(0.86,1)" font-size="4.1" fill="#303030" stroke="#303030" stroke-width="0.0" font-weight="normal" text-anchor="start">13.15 (1.54, 112.63)</text>
<text transform="translate(638.00,324.15) scale(0.86,1)" font-size="4.1" fill="#303030" stroke="#303030" stroke-width="0.0" font-weight="normal" text-anchor="start">0.019</text>
<line x1="572.25" y1="322.45" x2="600.58" y2="322.45" stroke="#333" stroke-width="0.45"/>
<rect x="585.65" y="321.70" width="1.5" height="1.5" fill="#111"/>
<text transform="translate(462.70,329.46) scale(0.86,1)" font-size="4.1" fill="#303030" stroke="#303030" stroke-width="0.0" font-weight="normal" text-anchor="start">II</text>
<text transform="translate(512.70,329.46) scale(0.86,1)" font-size="4.1" fill="#303030" stroke="#303030" stroke-width="0.0" font-weight="normal" text-anchor="start">10/189 (5.2)</text>
<text transform="translate(537.90,329.46) scale(0.86,1)" font-size="4.1" fill="#303030" stroke="#303030" stroke-width="0.0" font-weight="normal" text-anchor="start">19/84 (22.6)</text>
<text transform="translate(602.70,329.46) scale(0.86,1)" font-size="4.1" fill="#303030" stroke="#303030" stroke-width="0.0" font-weight="normal" text-anchor="start">2.77 (1.29, 5.95)</text>
<text transform="translate(638.00,329.46) scale(0.86,1)" font-size="4.1" fill="#303030" stroke="#303030" stroke-width="0.0" font-weight="normal" text-anchor="start">0.009</text>
<line x1="571.08" y1="327.76" x2="581.17" y2="327.76" stroke="#333" stroke-width="0.45"/>
<rect x="575.37" y="327.01" width="1.5" height="1.5" fill="#111"/>
<text transform="translate(462.70,334.77) scale(0.86,1)" font-size="4.1" fill="#303030" stroke="#303030" stroke-width="0.0" font-weight="normal" text-anchor="start">III</text>
<text transform="translate(512.70,334.77) scale(0.86,1)" font-size="4.1" fill="#303030" stroke="#303030" stroke-width="0.0" font-weight="normal" text-anchor="start">27/93 (29.0)</text>
<text transform="translate(537.90,334.77) scale(0.86,1)" font-size="4.1" fill="#303030" stroke="#303030" stroke-width="0.0" font-weight="normal" text-anchor="start">28/56 (50.0)</text>
<text transform="translate(602.70,334.77) scale(0.86,1)" font-size="4.1" fill="#303030" stroke="#303030" stroke-width="0.0" font-weight="normal" text-anchor="start">2.13 (1.25, 3.61)</text>
<text transform="translate(638.00,334.77) scale(0.86,1)" font-size="4.1" fill="#303030" stroke="#303030" stroke-width="0.0" font-weight="normal" text-anchor="start">0.005</text>
<line x1="570.87" y1="333.07" x2="577.87" y2="333.07" stroke="#333" stroke-width="0.45"/>
<rect x="573.64" y="332.32" width="1.5" height="1.5" fill="#111"/>
<text transform="translate(460.10,340.08) scale(0.86,1)" font-size="4.1" fill="#303030" stroke="#303030" stroke-width="0.0" font-weight="normal" text-anchor="start">IV</text>
<text transform="translate(512.70,340.08) scale(0.86,1)" font-size="4.1" fill="#303030" stroke="#303030" stroke-width="0.0" font-weight="normal" text-anchor="start">0/3 (0)</text>
<text transform="translate(537.90,340.08) scale(0.86,1)" font-size="4.1" fill="#303030" stroke="#303030" stroke-width="0.0" font-weight="normal" text-anchor="start">5/6 (83.3)</text>
<text transform="translate(457.40,345.39) scale(0.86,1)" font-size="4.1" fill="#303030" stroke="#303030" stroke-width="0.0" font-weight="normal" text-anchor="start">Differentiated degree(n%)</text>
<text transform="translate(654.70,345.39) scale(0.86,1)" font-size="4.1" fill="#303030" stroke="#303030" stroke-width="0.0" font-weight="normal" text-anchor="start">0.379</text>
<text transform="translate(462.70,350.70) scale(0.86,1)" font-size="4.1" fill="#303030" stroke="#303030" stroke-width="0.0" font-weight="normal" text-anchor="start">Moderately</text>
<text transform="translate(512.70,350.70) scale(0.86,1)" font-size="4.1" fill="#303030" stroke="#303030" stroke-width="0.0" font-weight="normal" text-anchor="start">28/213 (13.1)</text>
<text transform="translate(537.90,350.70) scale(0.86,1)" font-size="4.1" fill="#303030" stroke="#303030" stroke-width="0.0" font-weight="normal" text-anchor="start">47/141 (33.3)</text>
<text transform="translate(602.70,350.70) scale(0.86,1)" font-size="4.1" fill="#303030" stroke="#303030" stroke-width="0.0" font-weight="normal" text-anchor="start">2.95 (1.85, 4.71)</text>
<text transform="translate(638.00,350.70) scale(0.86,1)" font-size="4.1" fill="#303030" stroke="#303030" stroke-width="0.0" font-weight="normal" text-anchor="start">&lt;0.001</text>
<line x1="573.46" y1="349.00" x2="579.63" y2="349.00" stroke="#333" stroke-width="0.45"/>
<rect x="575.79" y="348.25" width="1.5" height="1.5" fill="#111"/>
<text transform="translate(462.70,356.01) scale(0.86,1)" font-size="4.1" fill="#303030" stroke="#303030" stroke-width="0.0" font-weight="normal" text-anchor="start">Poorly</text>
<text transform="translate(512.70,356.01) scale(0.86,1)" font-size="4.1" fill="#303030" stroke="#303030" stroke-width="0.0" font-weight="normal" text-anchor="start">10/46 (21.7)</text>
<text transform="translate(537.90,356.01) scale(0.86,1)" font-size="4.1" fill="#303030" stroke="#303030" stroke-width="0.0" font-weight="normal" text-anchor="start">9/26 (34.6)</text>
<text transform="translate(602.70,356.01) scale(0.86,1)" font-size="4.1" fill="#303030" stroke="#303030" stroke-width="0.0" font-weight="normal" text-anchor="start">1.76 (0.71, 4.33)</text>
<text transform="translate(638.00,356.01) scale(0.86,1)" font-size="4.1" fill="#303030" stroke="#303030" stroke-width="0.0" font-weight="normal" text-anchor="start">0.219</text>
<line x1="567.14" y1="354.31" x2="579.07" y2="354.31" stroke="#333" stroke-width="0.45"/>
<rect x="572.38" y="353.56" width="1.5" height="1.5" fill="#111"/>
<text transform="translate(460.10,361.32) scale(0.86,1)" font-size="4.1" fill="#303030" stroke="#303030" stroke-width="0.0" font-weight="normal" text-anchor="start">Well</text>
<text transform="translate(512.70,361.32) scale(0.86,1)" font-size="4.1" fill="#303030" stroke="#303030" stroke-width="0.0" font-weight="normal" text-anchor="start">0/5 (0.0)</text>
<text transform="translate(537.90,361.32) scale(0.86,1)" font-size="4.1" fill="#303030" stroke="#303030" stroke-width="0.0" font-weight="normal" text-anchor="start">1/4 (25.0)</text>
<text transform="translate(457.40,366.63) scale(0.86,1)" font-size="4.1" fill="#303030" stroke="#303030" stroke-width="0.0" font-weight="normal" text-anchor="start">Nerve invasion ( n% )</text>
<text transform="translate(654.70,366.63) scale(0.86,1)" font-size="4.1" fill="#303030" stroke="#303030" stroke-width="0.0" font-weight="normal" text-anchor="start">0.22</text>
<text transform="translate(462.70,371.94) scale(0.86,1)" font-size="4.1" fill="#303030" stroke="#303030" stroke-width="0.0" font-weight="normal" text-anchor="start">Negative</text>
<text transform="translate(512.70,371.94) scale(0.86,1)" font-size="4.1" fill="#303030" stroke="#303030" stroke-width="0.0" font-weight="normal" text-anchor="start">31/218 (14.2)</text>
<text transform="translate(537.90,371.94) scale(0.86,1)" font-size="4.1" fill="#303030" stroke="#303030" stroke-width="0.0" font-weight="normal" text-anchor="start">45/147 (30.6)</text>
<text transform="translate(602.70,371.94) scale(0.86,1)" font-size="4.1" fill="#303030" stroke="#303030" stroke-width="0.0" font-weight="normal" text-anchor="start">2.43 (1.54, 3.84)</text>
<text transform="translate(638.00,371.94) scale(0.86,1)" font-size="4.1" fill="#303030" stroke="#303030" stroke-width="0.0" font-weight="normal" text-anchor="start">&lt;0.001</text>
<line x1="572.25" y1="370.24" x2="578.28" y2="370.24" stroke="#333" stroke-width="0.45"/>
<rect x="574.51" y="369.49" width="1.5" height="1.5" fill="#111"/>
<text transform="translate(462.70,377.25) scale(0.86,1)" font-size="4.1" fill="#303030" stroke="#303030" stroke-width="0.0" font-weight="normal" text-anchor="start">Positive</text>
<text transform="translate(512.70,377.25) scale(0.86,1)" font-size="4.1" fill="#303030" stroke="#303030" stroke-width="0.0" font-weight="normal" text-anchor="start">7/46 (15.2)</text>
<text transform="translate(537.90,377.25) scale(0.86,1)" font-size="4.1" fill="#303030" stroke="#303030" stroke-width="0.0" font-weight="normal" text-anchor="start">13/24 (50.0)</text>
<text transform="translate(602.70,377.25) scale(0.86,1)" font-size="4.1" fill="#303030" stroke="#303030" stroke-width="0.0" font-weight="normal" text-anchor="start">4.33 (1.76, 11.08)</text>
<text transform="translate(638.00,377.25) scale(0.86,1)" font-size="4.1" fill="#303030" stroke="#303030" stroke-width="0.0" font-weight="normal" text-anchor="start">0.002</text>
<line x1="573.13" y1="375.55" x2="585.27" y2="375.55" stroke="#333" stroke-width="0.45"/>
<rect x="578.32" y="374.80" width="1.5" height="1.5" fill="#111"/>
<text transform="translate(457.40,382.56) scale(0.86,1)" font-size="4.1" fill="#303030" stroke="#303030" stroke-width="0.0" font-weight="normal" text-anchor="start">Intravascular tumor emboli ( % )</text>
<text transform="translate(654.70,382.56) scale(0.86,1)" font-size="4.1" fill="#303030" stroke="#303030" stroke-width="0.0" font-weight="normal" text-anchor="start">0.917</text>
<text transform="translate(462.70,387.87) scale(0.86,1)" font-size="4.1" fill="#303030" stroke="#303030" stroke-width="0.0" font-weight="normal" text-anchor="start">Negative</text>
<text transform="translate(512.70,387.87) scale(0.86,1)" font-size="4.1" fill="#303030" stroke="#303030" stroke-width="0.0" font-weight="normal" text-anchor="start">30/220 (13.6)</text>
<text transform="translate(537.90,387.87) scale(0.86,1)" font-size="4.1" fill="#303030" stroke="#303030" stroke-width="0.0" font-weight="normal" text-anchor="start">44/137 (32.1)</text>
<text transform="translate(602.70,387.87) scale(0.86,1)" font-size="4.1" fill="#303030" stroke="#303030" stroke-width="0.0" font-weight="normal" text-anchor="start">2.79 (1.78, 4.36)</text>
<text transform="translate(638.00,387.87) scale(0.86,1)" font-size="4.1" fill="#303030" stroke="#303030" stroke-width="0.0" font-weight="normal" text-anchor="start">&lt;0.001</text>
<line x1="573.21" y1="386.17" x2="579.12" y2="386.17" stroke="#333" stroke-width="0.45"/>
<rect x="575.42" y="385.42" width="1.5" height="1.5" fill="#111"/>
<text transform="translate(462.70,393.18) scale(0.86,1)" font-size="4.1" fill="#303030" stroke="#303030" stroke-width="0.0" font-weight="normal" text-anchor="start">Positive</text>
<text transform="translate(512.70,393.18) scale(0.86,1)" font-size="4.1" fill="#303030" stroke="#303030" stroke-width="0.0" font-weight="normal" text-anchor="start">8/44 (18.2)</text>
<text transform="translate(537.90,393.18) scale(0.86,1)" font-size="4.1" fill="#303030" stroke="#303030" stroke-width="0.0" font-weight="normal" text-anchor="start">13/34 (38.2)</text>
<text transform="translate(602.70,393.18) scale(0.86,1)" font-size="4.1" fill="#303030" stroke="#303030" stroke-width="0.0" font-weight="normal" text-anchor="start">2.51 (1.04, 6.06)</text>
<text transform="translate(638.00,393.18) scale(0.86,1)" font-size="4.1" fill="#303030" stroke="#303030" stroke-width="0.0" font-weight="normal" text-anchor="start">0.041</text>
<line x1="569.66" y1="391.48" x2="581.29" y2="391.48" stroke="#333" stroke-width="0.45"/>
<rect x="574.72" y="390.73" width="1.5" height="1.5" fill="#111"/>
<text transform="translate(457.40,398.49) scale(0.86,1)" font-size="4.1" fill="#303030" stroke="#303030" stroke-width="0.0" font-weight="normal" text-anchor="start">CEA ( n% )</text>
<text transform="translate(654.70,398.49) scale(0.86,1)" font-size="4.1" fill="#303030" stroke="#303030" stroke-width="0.0" font-weight="normal" text-anchor="start">0.207</text>
<text transform="translate(462.70,403.80) scale(0.86,1)" font-size="4.1" fill="#303030" stroke="#303030" stroke-width="0.0" font-weight="normal" text-anchor="start">High</text>
<text transform="translate(512.70,403.80) scale(0.86,1)" font-size="4.1" fill="#303030" stroke="#303030" stroke-width="0.0" font-weight="normal" text-anchor="start">21/96 (21.9)</text>
<text transform="translate(537.90,403.80) scale(0.86,1)" font-size="4.1" fill="#303030" stroke="#303030" stroke-width="0.0" font-weight="normal" text-anchor="start">23/60 (38.3)</text>
<text transform="translate(602.70,403.80) scale(0.86,1)" font-size="4.1" fill="#303030" stroke="#303030" stroke-width="0.0" font-weight="normal" text-anchor="start">2.11 (1.17, 3.82)</text>
<text transform="translate(638.00,403.80) scale(0.86,1)" font-size="4.1" fill="#303030" stroke="#303030" stroke-width="0.0" font-weight="normal" text-anchor="start">0.013</text>
<line x1="570.44" y1="402.10" x2="578.25" y2="402.10" stroke="#333" stroke-width="0.45"/>
<rect x="573.58" y="401.35" width="1.5" height="1.5" fill="#111"/>
<text transform="translate(462.70,409.11) scale(0.86,1)" font-size="4.1" fill="#303030" stroke="#303030" stroke-width="0.0" font-weight="normal" text-anchor="start">Normal</text>
<text transform="translate(512.70,409.11) scale(0.86,1)" font-size="4.1" fill="#303030" stroke="#303030" stroke-width="0.0" font-weight="normal" text-anchor="start">17/168 (10.1)</text>
<text transform="translate(537.90,409.11) scale(0.86,1)" font-size="4.1" fill="#303030" stroke="#303030" stroke-width="0.0" font-weight="normal" text-anchor="start">34/111 (30.6)</text>
<text transform="translate(602.70,409.11) scale(0.86,1)" font-size="4.1" fill="#303030" stroke="#303030" stroke-width="0.0" font-weight="normal" text-anchor="start">3.41 (1.90, 6.10)</text>
<text transform="translate(638.00,409.11) scale(0.86,1)" font-size="4.1" fill="#303030" stroke="#303030" stroke-width="0.0" font-weight="normal" text-anchor="start">&lt;0.001</text>
<line x1="573.64" y1="407.41" x2="581.33" y2="407.41" stroke="#333" stroke-width="0.45"/>
<rect x="576.75" y="406.66" width="1.5" height="1.5" fill="#111"/>
<text transform="translate(457.40,414.42) scale(0.86,1)" font-size="4.1" fill="#303030" stroke="#303030" stroke-width="0.0" font-weight="normal" text-anchor="start">CA-199 ( n% )</text>
<text transform="translate(654.70,414.42) scale(0.86,1)" font-size="4.1" fill="#303030" stroke="#303030" stroke-width="0.0" font-weight="normal" text-anchor="start">0.303</text>
<text transform="translate(462.70,419.73) scale(0.86,1)" font-size="4.1" fill="#303030" stroke="#303030" stroke-width="0.0" font-weight="normal" text-anchor="start">High</text>
<text transform="translate(512.70,419.73) scale(0.86,1)" font-size="4.1" fill="#303030" stroke="#303030" stroke-width="0.0" font-weight="normal" text-anchor="start">11/28 (39.3)</text>
<text transform="translate(537.90,419.73) scale(0.86,1)" font-size="4.1" fill="#303030" stroke="#303030" stroke-width="0.0" font-weight="normal" text-anchor="start">8/20 (40.0)</text>
<text transform="translate(602.70,419.73) scale(0.86,1)" font-size="4.1" fill="#303030" stroke="#303030" stroke-width="0.0" font-weight="normal" text-anchor="start">1.09 (0.44, 2.71)</text>
<text transform="translate(638.00,419.73) scale(0.86,1)" font-size="4.1" fill="#303030" stroke="#303030" stroke-width="0.0" font-weight="normal" text-anchor="start">0.857</text>
<line x1="563.98" y1="418.03" x2="575.98" y2="418.03" stroke="#b5b5b5" stroke-width="0.45"/>
<rect x="569.22" y="417.28" width="1.5" height="1.5" fill="#111"/>
<text transform="translate(462.70,425.04) scale(0.86,1)" font-size="4.1" fill="#303030" stroke="#303030" stroke-width="0.0" font-weight="normal" text-anchor="start">Normal</text>
<text transform="translate(512.70,425.04) scale(0.86,1)" font-size="4.1" fill="#303030" stroke="#303030" stroke-width="0.0" font-weight="normal" text-anchor="start">27/236 (11.4)</text>
<text transform="translate(537.90,425.04) scale(0.86,1)" font-size="4.1" fill="#303030" stroke="#303030" stroke-width="0.0" font-weight="normal" text-anchor="start">49/151 (32.5)</text>
<text transform="translate(602.70,425.04) scale(0.86,1)" font-size="4.1" fill="#303030" stroke="#303030" stroke-width="0.0" font-weight="normal" text-anchor="start">3.29 (2.05, 5.26)</text>
<text transform="translate(638.00,425.04) scale(0.86,1)" font-size="4.1" fill="#303030" stroke="#303030" stroke-width="0.0" font-weight="normal" text-anchor="start">&lt;0.001</text>
<line x1="574.14" y1="423.34" x2="580.36" y2="423.34" stroke="#333" stroke-width="0.45"/>
<rect x="576.51" y="422.59" width="1.5" height="1.5" fill="#111"/>
<line x1="561.4" y1="426.5" x2="600.8" y2="426.5" stroke="#555" stroke-width="0.55"/>
<line x1="562.80" y1="426.5" x2="562.80" y2="427.7" stroke="#555" stroke-width="0.45"/>
<text transform="translate(562.80,430.70) scale(0.86,1)" font-size="2.9" fill="#333" stroke="#333" stroke-width="0.0" font-weight="normal" text-anchor="middle">0.1</text>
<line x1="569.40" y1="426.5" x2="569.40" y2="427.7" stroke="#555" stroke-width="0.45"/>
<text transform="translate(569.40,430.70) scale(0.86,1)" font-size="2.9" fill="#333" stroke="#333" stroke-width="0.0" font-weight="normal" text-anchor="middle">1</text>
<line x1="576.00" y1="426.5" x2="576.00" y2="427.7" stroke="#555" stroke-width="0.45"/>
<text transform="translate(576.00,430.70) scale(0.86,1)" font-size="2.9" fill="#333" stroke="#333" stroke-width="0.0" font-weight="normal" text-anchor="middle">2.7</text>
<line x1="582.60" y1="426.5" x2="582.60" y2="427.7" stroke="#555" stroke-width="0.45"/>
<text transform="translate(582.60,430.70) scale(0.86,1)" font-size="2.9" fill="#333" stroke="#333" stroke-width="0.0" font-weight="normal" text-anchor="middle">7.4</text>
<line x1="589.20" y1="426.5" x2="589.20" y2="427.7" stroke="#555" stroke-width="0.45"/>
<text transform="translate(589.20,430.70) scale(0.86,1)" font-size="2.9" fill="#333" stroke="#333" stroke-width="0.0" font-weight="normal" text-anchor="middle">20.1</text>
<line x1="595.80" y1="426.5" x2="595.80" y2="427.7" stroke="#555" stroke-width="0.45"/>
<text transform="translate(595.80,430.70) scale(0.86,1)" font-size="2.9" fill="#333" stroke="#333" stroke-width="0.0" font-weight="normal" text-anchor="middle">54.6</text>
<line x1="558.8" y1="433.5" x2="568.4" y2="433.5" stroke="#444" stroke-width="0.5"/>
<polygon points="558.1999999999999,433.5 559.8,432.8 559.8,434.2" fill="#444"/>
<line x1="571.0" y1="433.5" x2="600.8" y2="433.5" stroke="#444" stroke-width="0.5"/>
<polygon points="601.4,433.5 599.8,432.8 599.8,434.2" fill="#444"/>
<text transform="translate(558.80,437.20) scale(0.86,1)" font-size="2.9" fill="#333" stroke="#333" stroke-width="0.0" font-weight="normal" text-anchor="start">H-Mono</text>
<text transform="translate(571.00,437.20) scale(0.86,1)" font-size="2.9" fill="#333" stroke="#333" stroke-width="0.0" font-weight="normal" text-anchor="start">L-Mono</text>
<text transform="translate(455.30,433.80) scale(0.86,1)" font-size="2.3" fill="#333" stroke="#333" stroke-width="0.0" font-weight="normal" text-anchor="start">* no of events / total no. (%)</text>
<text x="434.80" y="161.00" font-size="24.7" text-anchor="start" fill="#000" font-weight="normal" >G</text>
</svg></body></html>
